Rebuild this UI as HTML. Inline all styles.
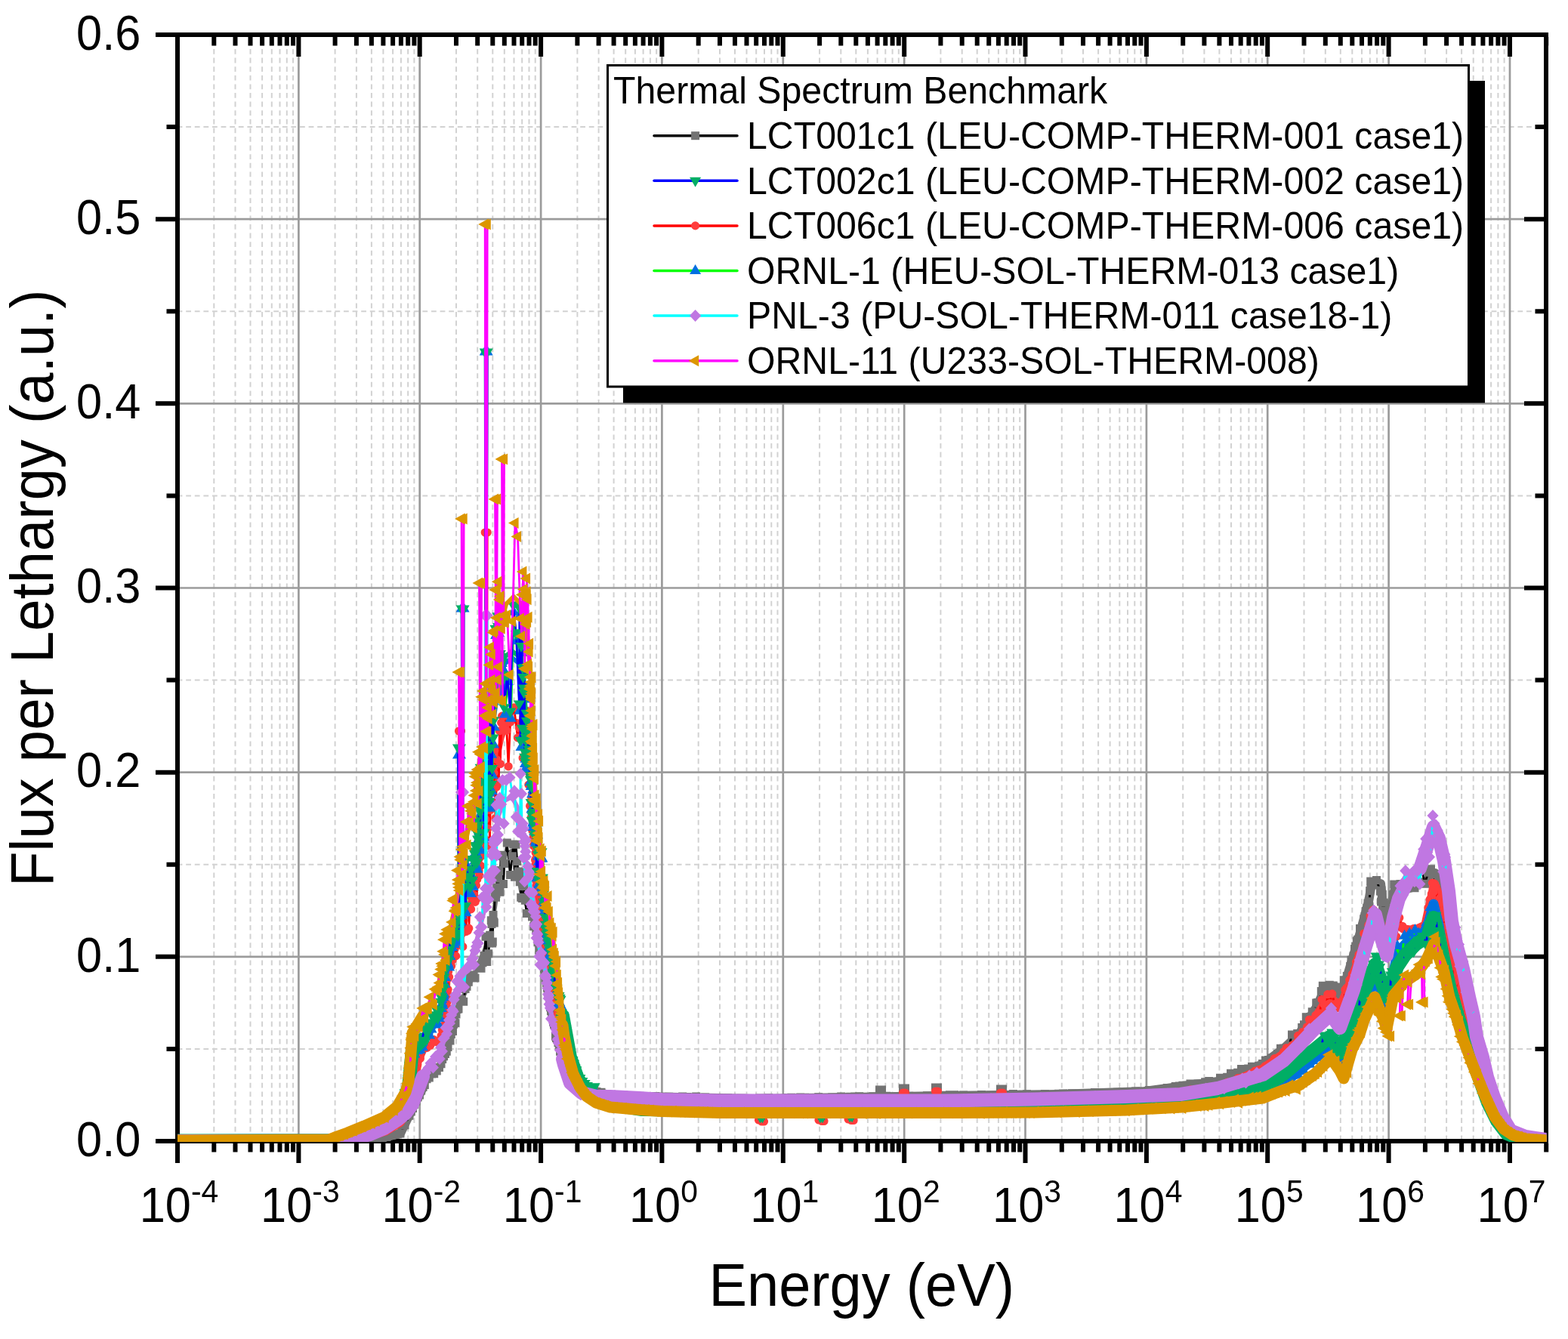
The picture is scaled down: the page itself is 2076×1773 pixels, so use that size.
<!DOCTYPE html>
<html><head><meta charset="utf-8"><title>Thermal Spectrum Benchmark</title>
<style>
html,body{margin:0;padding:0;background:#fff;}
svg{display:block;}
.gm{stroke:#d2d2d2;stroke-width:2;stroke-dasharray:6.8 4.8;}
.gM{stroke:#9b9b9b;stroke-width:2.7;}
text{font-family:"Liberation Sans", Arial, sans-serif;fill:#000;}
</style></head>
<body>
<svg width="2076" height="1773" viewBox="0 0 2076 1773">
<defs>
<clipPath id="pc"><rect x="235" y="46" width="1812.7" height="1466"/></clipPath>
</defs>
<rect width="2076" height="1773" fill="#fff"/>
<g><line x1="283.3" y1="53.4" x2="283.3" y2="1508" class="gm"/><line x1="311.5" y1="53.4" x2="311.5" y2="1508" class="gm"/><line x1="331.5" y1="53.4" x2="331.5" y2="1508" class="gm"/><line x1="347.1" y1="53.4" x2="347.1" y2="1508" class="gm"/><line x1="359.8" y1="53.4" x2="359.8" y2="1508" class="gm"/><line x1="370.5" y1="53.4" x2="370.5" y2="1508" class="gm"/><line x1="379.8" y1="53.4" x2="379.8" y2="1508" class="gm"/><line x1="388.0" y1="53.4" x2="388.0" y2="1508" class="gm"/><line x1="443.6" y1="53.4" x2="443.6" y2="1508" class="gm"/><line x1="471.9" y1="53.4" x2="471.9" y2="1508" class="gm"/><line x1="491.9" y1="53.4" x2="491.9" y2="1508" class="gm"/><line x1="507.4" y1="53.4" x2="507.4" y2="1508" class="gm"/><line x1="520.1" y1="53.4" x2="520.1" y2="1508" class="gm"/><line x1="530.9" y1="53.4" x2="530.9" y2="1508" class="gm"/><line x1="540.2" y1="53.4" x2="540.2" y2="1508" class="gm"/><line x1="548.4" y1="53.4" x2="548.4" y2="1508" class="gm"/><line x1="604.0" y1="53.4" x2="604.0" y2="1508" class="gm"/><line x1="632.2" y1="53.4" x2="632.2" y2="1508" class="gm"/><line x1="652.3" y1="53.4" x2="652.3" y2="1508" class="gm"/><line x1="667.8" y1="53.4" x2="667.8" y2="1508" class="gm"/><line x1="680.5" y1="53.4" x2="680.5" y2="1508" class="gm"/><line x1="691.2" y1="53.4" x2="691.2" y2="1508" class="gm"/><line x1="700.5" y1="53.4" x2="700.5" y2="1508" class="gm"/><line x1="708.7" y1="53.4" x2="708.7" y2="1508" class="gm"/><line x1="764.4" y1="53.4" x2="764.4" y2="1508" class="gm"/><line x1="792.6" y1="53.4" x2="792.6" y2="1508" class="gm"/><line x1="812.6" y1="53.4" x2="812.6" y2="1508" class="gm"/><line x1="828.2" y1="53.4" x2="828.2" y2="1508" class="gm"/><line x1="840.9" y1="53.4" x2="840.9" y2="1508" class="gm"/><line x1="851.6" y1="53.4" x2="851.6" y2="1508" class="gm"/><line x1="860.9" y1="53.4" x2="860.9" y2="1508" class="gm"/><line x1="869.1" y1="53.4" x2="869.1" y2="1508" class="gm"/><line x1="924.7" y1="53.4" x2="924.7" y2="1508" class="gm"/><line x1="953.0" y1="53.4" x2="953.0" y2="1508" class="gm"/><line x1="973.0" y1="53.4" x2="973.0" y2="1508" class="gm"/><line x1="988.5" y1="53.4" x2="988.5" y2="1508" class="gm"/><line x1="1001.2" y1="53.4" x2="1001.2" y2="1508" class="gm"/><line x1="1012.0" y1="53.4" x2="1012.0" y2="1508" class="gm"/><line x1="1021.3" y1="53.4" x2="1021.3" y2="1508" class="gm"/><line x1="1029.5" y1="53.4" x2="1029.5" y2="1508" class="gm"/><line x1="1085.1" y1="53.4" x2="1085.1" y2="1508" class="gm"/><line x1="1113.3" y1="53.4" x2="1113.3" y2="1508" class="gm"/><line x1="1133.3" y1="53.4" x2="1133.3" y2="1508" class="gm"/><line x1="1148.9" y1="53.4" x2="1148.9" y2="1508" class="gm"/><line x1="1161.6" y1="53.4" x2="1161.6" y2="1508" class="gm"/><line x1="1172.3" y1="53.4" x2="1172.3" y2="1508" class="gm"/><line x1="1181.6" y1="53.4" x2="1181.6" y2="1508" class="gm"/><line x1="1189.8" y1="53.4" x2="1189.8" y2="1508" class="gm"/><line x1="1245.4" y1="53.4" x2="1245.4" y2="1508" class="gm"/><line x1="1273.7" y1="53.4" x2="1273.7" y2="1508" class="gm"/><line x1="1293.7" y1="53.4" x2="1293.7" y2="1508" class="gm"/><line x1="1309.2" y1="53.4" x2="1309.2" y2="1508" class="gm"/><line x1="1321.9" y1="53.4" x2="1321.9" y2="1508" class="gm"/><line x1="1332.7" y1="53.4" x2="1332.7" y2="1508" class="gm"/><line x1="1342.0" y1="53.4" x2="1342.0" y2="1508" class="gm"/><line x1="1350.2" y1="53.4" x2="1350.2" y2="1508" class="gm"/><line x1="1405.8" y1="53.4" x2="1405.8" y2="1508" class="gm"/><line x1="1434.0" y1="53.4" x2="1434.0" y2="1508" class="gm"/><line x1="1454.1" y1="53.4" x2="1454.1" y2="1508" class="gm"/><line x1="1469.6" y1="53.4" x2="1469.6" y2="1508" class="gm"/><line x1="1482.3" y1="53.4" x2="1482.3" y2="1508" class="gm"/><line x1="1493.0" y1="53.4" x2="1493.0" y2="1508" class="gm"/><line x1="1502.3" y1="53.4" x2="1502.3" y2="1508" class="gm"/><line x1="1510.5" y1="53.4" x2="1510.5" y2="1508" class="gm"/><line x1="1566.2" y1="53.4" x2="1566.2" y2="1508" class="gm"/><line x1="1594.4" y1="53.4" x2="1594.4" y2="1508" class="gm"/><line x1="1614.4" y1="53.4" x2="1614.4" y2="1508" class="gm"/><line x1="1630.0" y1="53.4" x2="1630.0" y2="1508" class="gm"/><line x1="1642.7" y1="53.4" x2="1642.7" y2="1508" class="gm"/><line x1="1653.4" y1="53.4" x2="1653.4" y2="1508" class="gm"/><line x1="1662.7" y1="53.4" x2="1662.7" y2="1508" class="gm"/><line x1="1670.9" y1="53.4" x2="1670.9" y2="1508" class="gm"/><line x1="1726.5" y1="53.4" x2="1726.5" y2="1508" class="gm"/><line x1="1754.8" y1="53.4" x2="1754.8" y2="1508" class="gm"/><line x1="1774.8" y1="53.4" x2="1774.8" y2="1508" class="gm"/><line x1="1790.3" y1="53.4" x2="1790.3" y2="1508" class="gm"/><line x1="1803.0" y1="53.4" x2="1803.0" y2="1508" class="gm"/><line x1="1813.8" y1="53.4" x2="1813.8" y2="1508" class="gm"/><line x1="1823.1" y1="53.4" x2="1823.1" y2="1508" class="gm"/><line x1="1831.3" y1="53.4" x2="1831.3" y2="1508" class="gm"/><line x1="1886.9" y1="53.4" x2="1886.9" y2="1508" class="gm"/><line x1="1915.1" y1="53.4" x2="1915.1" y2="1508" class="gm"/><line x1="1935.1" y1="53.4" x2="1935.1" y2="1508" class="gm"/><line x1="1950.7" y1="53.4" x2="1950.7" y2="1508" class="gm"/><line x1="1963.4" y1="53.4" x2="1963.4" y2="1508" class="gm"/><line x1="1974.1" y1="53.4" x2="1974.1" y2="1508" class="gm"/><line x1="1983.4" y1="53.4" x2="1983.4" y2="1508" class="gm"/><line x1="1991.6" y1="53.4" x2="1991.6" y2="1508" class="gm"/><line x1="234.6" y1="1388.9" x2="2044" y2="1388.9" class="gm"/><line x1="234.6" y1="1144.7" x2="2044" y2="1144.7" class="gm"/><line x1="234.6" y1="900.6" x2="2044" y2="900.6" class="gm"/><line x1="234.6" y1="656.4" x2="2044" y2="656.4" class="gm"/><line x1="234.6" y1="412.2" x2="2044" y2="412.2" class="gm"/><line x1="234.6" y1="168.1" x2="2044" y2="168.1" class="gm"/><line x1="395.4" y1="49" x2="395.4" y2="1508" class="gM"/><line x1="555.7" y1="49" x2="555.7" y2="1508" class="gM"/><line x1="716.1" y1="49" x2="716.1" y2="1508" class="gM"/><line x1="876.4" y1="49" x2="876.4" y2="1508" class="gM"/><line x1="1036.8" y1="49" x2="1036.8" y2="1508" class="gM"/><line x1="1197.2" y1="49" x2="1197.2" y2="1508" class="gM"/><line x1="1357.5" y1="49" x2="1357.5" y2="1508" class="gM"/><line x1="1517.9" y1="49" x2="1517.9" y2="1508" class="gM"/><line x1="1678.2" y1="49" x2="1678.2" y2="1508" class="gM"/><line x1="1838.6" y1="49" x2="1838.6" y2="1508" class="gM"/><line x1="1999.0" y1="49" x2="1999.0" y2="1508" class="gM"/><line x1="238" y1="1266.8" x2="2044" y2="1266.8" class="gM"/><line x1="238" y1="1022.7" x2="2044" y2="1022.7" class="gM"/><line x1="238" y1="778.5" x2="2044" y2="778.5" class="gM"/><line x1="238" y1="534.3" x2="2044" y2="534.3" class="gM"/><line x1="238" y1="290.2" x2="2044" y2="290.2" class="gM"/></g>
<rect x="235" y="46" width="1812" height="1465" fill="none" stroke="#000" stroke-width="6"/><path d="M235.0 1514V1540 M235.0 49V75 M283.3 1514V1525.5 M283.3 49V60.5 M311.5 1514V1525.5 M311.5 49V60.5 M331.5 1514V1525.5 M331.5 49V60.5 M347.1 1514V1525.5 M347.1 49V60.5 M359.8 1514V1525.5 M359.8 49V60.5 M370.5 1514V1525.5 M370.5 49V60.5 M379.8 1514V1525.5 M379.8 49V60.5 M388.0 1514V1525.5 M388.0 49V60.5 M395.4 1514V1540 M395.4 49V75 M443.6 1514V1525.5 M443.6 49V60.5 M471.9 1514V1525.5 M471.9 49V60.5 M491.9 1514V1525.5 M491.9 49V60.5 M507.4 1514V1525.5 M507.4 49V60.5 M520.1 1514V1525.5 M520.1 49V60.5 M530.9 1514V1525.5 M530.9 49V60.5 M540.2 1514V1525.5 M540.2 49V60.5 M548.4 1514V1525.5 M548.4 49V60.5 M555.7 1514V1540 M555.7 49V75 M604.0 1514V1525.5 M604.0 49V60.5 M632.2 1514V1525.5 M632.2 49V60.5 M652.3 1514V1525.5 M652.3 49V60.5 M667.8 1514V1525.5 M667.8 49V60.5 M680.5 1514V1525.5 M680.5 49V60.5 M691.2 1514V1525.5 M691.2 49V60.5 M700.5 1514V1525.5 M700.5 49V60.5 M708.7 1514V1525.5 M708.7 49V60.5 M716.1 1514V1540 M716.1 49V75 M764.4 1514V1525.5 M764.4 49V60.5 M792.6 1514V1525.5 M792.6 49V60.5 M812.6 1514V1525.5 M812.6 49V60.5 M828.2 1514V1525.5 M828.2 49V60.5 M840.9 1514V1525.5 M840.9 49V60.5 M851.6 1514V1525.5 M851.6 49V60.5 M860.9 1514V1525.5 M860.9 49V60.5 M869.1 1514V1525.5 M869.1 49V60.5 M876.4 1514V1540 M876.4 49V75 M924.7 1514V1525.5 M924.7 49V60.5 M953.0 1514V1525.5 M953.0 49V60.5 M973.0 1514V1525.5 M973.0 49V60.5 M988.5 1514V1525.5 M988.5 49V60.5 M1001.2 1514V1525.5 M1001.2 49V60.5 M1012.0 1514V1525.5 M1012.0 49V60.5 M1021.3 1514V1525.5 M1021.3 49V60.5 M1029.5 1514V1525.5 M1029.5 49V60.5 M1036.8 1514V1540 M1036.8 49V75 M1085.1 1514V1525.5 M1085.1 49V60.5 M1113.3 1514V1525.5 M1113.3 49V60.5 M1133.3 1514V1525.5 M1133.3 49V60.5 M1148.9 1514V1525.5 M1148.9 49V60.5 M1161.6 1514V1525.5 M1161.6 49V60.5 M1172.3 1514V1525.5 M1172.3 49V60.5 M1181.6 1514V1525.5 M1181.6 49V60.5 M1189.8 1514V1525.5 M1189.8 49V60.5 M1197.2 1514V1540 M1197.2 49V75 M1245.4 1514V1525.5 M1245.4 49V60.5 M1273.7 1514V1525.5 M1273.7 49V60.5 M1293.7 1514V1525.5 M1293.7 49V60.5 M1309.2 1514V1525.5 M1309.2 49V60.5 M1321.9 1514V1525.5 M1321.9 49V60.5 M1332.7 1514V1525.5 M1332.7 49V60.5 M1342.0 1514V1525.5 M1342.0 49V60.5 M1350.2 1514V1525.5 M1350.2 49V60.5 M1357.5 1514V1540 M1357.5 49V75 M1405.8 1514V1525.5 M1405.8 49V60.5 M1434.0 1514V1525.5 M1434.0 49V60.5 M1454.1 1514V1525.5 M1454.1 49V60.5 M1469.6 1514V1525.5 M1469.6 49V60.5 M1482.3 1514V1525.5 M1482.3 49V60.5 M1493.0 1514V1525.5 M1493.0 49V60.5 M1502.3 1514V1525.5 M1502.3 49V60.5 M1510.5 1514V1525.5 M1510.5 49V60.5 M1517.9 1514V1540 M1517.9 49V75 M1566.2 1514V1525.5 M1566.2 49V60.5 M1594.4 1514V1525.5 M1594.4 49V60.5 M1614.4 1514V1525.5 M1614.4 49V60.5 M1630.0 1514V1525.5 M1630.0 49V60.5 M1642.7 1514V1525.5 M1642.7 49V60.5 M1653.4 1514V1525.5 M1653.4 49V60.5 M1662.7 1514V1525.5 M1662.7 49V60.5 M1670.9 1514V1525.5 M1670.9 49V60.5 M1678.2 1514V1540 M1678.2 49V75 M1726.5 1514V1525.5 M1726.5 49V60.5 M1754.8 1514V1525.5 M1754.8 49V60.5 M1774.8 1514V1525.5 M1774.8 49V60.5 M1790.3 1514V1525.5 M1790.3 49V60.5 M1803.0 1514V1525.5 M1803.0 49V60.5 M1813.8 1514V1525.5 M1813.8 49V60.5 M1823.1 1514V1525.5 M1823.1 49V60.5 M1831.3 1514V1525.5 M1831.3 49V60.5 M1838.6 1514V1540 M1838.6 49V75 M1886.9 1514V1525.5 M1886.9 49V60.5 M1915.1 1514V1525.5 M1915.1 49V60.5 M1935.1 1514V1525.5 M1935.1 49V60.5 M1950.7 1514V1525.5 M1950.7 49V60.5 M1963.4 1514V1525.5 M1963.4 49V60.5 M1974.1 1514V1525.5 M1974.1 49V60.5 M1983.4 1514V1525.5 M1983.4 49V60.5 M1991.6 1514V1525.5 M1991.6 49V60.5 M1999.0 1514V1540 M1999.0 49V75 M2047.2 1514V1525.5 M2047.2 49V60.5 M206 1511.0H232 M2044 1511.0H2018 M206 1266.8H232 M2044 1266.8H2018 M206 1022.7H232 M2044 1022.7H2018 M206 778.5H232 M2044 778.5H2018 M206 534.3H232 M2044 534.3H2018 M206 290.2H232 M2044 290.2H2018 M206 46.0H232 M2044 46.0H2018 M220.5 1388.9H232 M2044 1388.9H2032.5 M220.5 1144.7H232 M2044 1144.7H2032.5 M220.5 900.6H232 M2044 900.6H2032.5 M220.5 656.4H232 M2044 656.4H2032.5 M220.5 412.2H232 M2044 412.2H2032.5 M220.5 168.1H232 M2044 168.1H2032.5" stroke="#000" stroke-width="6" fill="none"/>
<g clip-path="url(#pc)"><path d="M236.0 1511.0 L460.0 1511.0 L500.0 1508.0 L530.0 1501.0 L545.0 1470.0 L560.0 1440.0" fill="none" stroke="#737373" stroke-width="12" stroke-linejoin="round" stroke-linecap="round"/>
<path d="M745.0 1405.0 L745.0 1405.0 L755.0 1427.0 L767.0 1436.0 L779.0 1441.0 L789.0 1446.0 L808.0 1450.0 L850.0 1452.0 L1000.0 1455.0 L1250.0 1451.0 L1400.0 1449.0 L1515.0 1445.0 L1612.0 1432.0 L1672.0 1409.0 L1700.0 1388.0 L1720.0 1369.0 L1742.0 1335.0 L1756.0 1306.0 L1767.0 1306.0 L1774.0 1328.0 L1783.0 1295.0 L1798.0 1245.0 L1812.0 1194.0 L1816.0 1170.0 L1828.0 1170.0 L1832.0 1208.0 L1837.0 1240.0 L1846.0 1180.0 L1852.0 1180.0 L1870.0 1175.0 L1890.0 1165.0 L1900.0 1156.0 L1910.0 1170.0 L1918.0 1200.0 L1925.0 1240.0 L1935.0 1285.0 L1945.0 1330.0 L1958.0 1390.0 L1970.0 1440.0 L1985.0 1475.0 L2000.0 1496.0 L2020.0 1506.0 L2047.0 1510.0" fill="none" stroke="#737373" stroke-width="12" stroke-linejoin="round" stroke-linecap="round"/>
<path d="M560.0 1440.0 L563.0 1434.0 L583.0 1411.0 L595.0 1380.0 L605.5 1335.0 L626.0 1294.0 L640.0 1262.0 L650.0 1238.0 L660.0 1165.0 L668.0 1132.0 L677.0 1127.0 L685.0 1150.0 L690.0 1180.0 L700.0 1204.0 L706.0 1212.0 L712.0 1240.0 L720.0 1280.0 L728.0 1330.0 L736.0 1370.0 L745.0 1405.0" fill="none" stroke="#737373" stroke-width="6" stroke-linejoin="round" stroke-linecap="round"/>
<path d="M440.0 1511.0 L446.0 1511.0 L452.0 1511.0 L458.0 1511.0 L464.0 1510.7 L470.0 1510.3 L476.0 1509.8 L482.0 1509.3 L488.0 1508.8 L494.0 1508.4 L500.0 1508.0 L506.0 1506.6 L512.0 1505.5 L518.0 1503.6 L524.0 1502.3 L530.0 1500.9 L536.0 1489.7 L542.0 1477.2 L544.2 1472.1 L546.5 1467.5 L548.8 1462.2 L551.0 1458.1 L553.2 1452.8 L555.5 1449.9 L557.8 1444.0 L560.0 1439.4 L562.2 1436.6 L565.0 1428.7 L568.2 1426.9 L571.5 1421.9 L574.8 1421.7 L578.2 1418.0 L581.5 1413.5 L584.0 1408.7 L585.8 1402.4 L587.5 1398.8 L589.5 1395.4 L591.2 1392.2 L593.0 1386.6 L594.8 1377.1 L596.0 1378.1 L597.2 1369.6 L598.2 1364.7 L599.5 1365.6 L600.5 1356.2 L601.8 1345.3 L603.0 1354.8 L604.0 1342.9 L605.2 1336.6 L607.0 1336.0 L609.2 1325.0 L611.5 1323.3 L613.8 1326.3 L616.0 1309.5 L618.0 1306.3 L620.2 1300.2 L622.5 1292.7 L624.8 1294.4 L627.0 1291.0 L629.0 1295.1 L631.0 1278.7 L633.0 1281.9 L635.0 1278.2 L637.0 1282.3 L639.0 1274.8 L641.0 1265.5 L643.0 1240.3 L644.8 1273.5 L646.8 1262.8 L648.8 1238.2 L650.2 1218.7 L651.0 1223.6 L651.8 1249.1 L652.2 1247.0 L653.0 1211.5 L653.8 1220.4 L654.2 1222.0 L655.0 1188.2 L655.8 1180.8 L656.5 1188.3 L657.0 1183.4 L657.8 1175.1 L658.5 1152.5 L659.0 1163.1 L659.8 1159.0 L660.8 1153.5 L662.0 1181.2 L663.0 1132.4 L664.2 1132.2 L665.5 1133.7 L666.5 1170.6 L667.8 1143.6 L671.2 1116.1 L675.5 1158.4 L678.2 1133.7 L679.8 1118.0 L681.5 1161.3 L683.0 1118.3 L684.8 1140.5 L685.8 1156.9 L686.5 1154.0 L687.5 1155.1 L688.2 1167.7 L689.0 1157.0 L689.8 1188.2 L691.5 1189.6 L693.5 1173.6 L695.2 1192.2 L697.2 1209.5 L699.2 1189.3 L701.5 1193.7 L704.5 1213.7 L706.8 1226.7 L707.8 1221.2 L708.8 1226.0 L709.8 1231.8 L710.8 1223.5 L712.0 1247.7 L713.0 1235.8 L713.8 1257.9 L714.8 1259.3 L715.8 1254.4 L716.8 1256.1 L717.8 1263.0 L718.8 1271.5 L719.8 1277.8 L720.5 1282.6 L721.5 1287.3 L722.2 1294.7 L723.0 1297.8 L723.8 1301.5 L724.5 1308.1 L725.2 1310.3 L726.2 1317.3 L727.0 1317.5 L727.8 1327.5 L728.5 1333.8 L729.5 1338.6 L730.5 1342.5 L731.5 1345.0 L732.5 1353.4 L733.5 1356.5 L734.5 1358.0 L735.5 1372.2 L736.5 1374.5 L737.8 1376.3 L739.0 1380.8 L740.2 1386.0 L741.5 1392.2 L742.8 1395.0 L744.0 1400.6 L745.2 1406.5 L747.5 1406.9 L749.5 1414.3 L751.5 1420.1 L753.5 1423.8 L756.2 1428.2 L760.2 1431.0 L764.2 1436.5 L768.2 1437.1 L773.0 1437.9 L777.5 1441.1 L782.0 1442.5 L786.5 1444.2 L790.0 1445.5 L796.0 1446.3 L801.8 1450.0 L807.8 1450.2 L813.8 1450.5 L819.8 1450.1 L825.8 1450.1 L831.8 1452.6 L837.8 1450.6 L843.8 1452.7 L849.8 1451.5 L855.8 1453.2 L861.8 1452.1 L867.8 1451.5 L873.8 1452.6 L879.8 1452.5 L885.8 1452.2 L891.8 1452.7 L897.8 1453.0 L903.8 1452.0 L909.8 1452.5 L915.8 1453.5 L921.8 1452.1 L927.8 1454.3 L933.8 1453.0 L939.8 1454.0 L945.8 1453.8 L951.8 1453.6 L957.8 1454.0 L963.8 1453.8 L969.8 1455.4 L975.8 1455.5 L981.8 1454.2 L987.8 1455.4 L993.8 1455.6 L999.8 1456.0 L1005.8 1454.1 L1011.8 1454.3 L1017.8 1453.7 L1023.8 1455.3 L1029.8 1454.5 L1035.8 1455.2 L1041.8 1453.8 L1047.8 1453.2 L1053.8 1454.7 L1059.8 1453.0 L1065.8 1453.3 L1071.8 1454.0 L1077.8 1455.1 L1083.8 1452.7 L1089.8 1453.6 L1095.8 1453.9 L1101.8 1453.1 L1107.8 1453.0 L1113.8 1452.1 L1119.8 1453.8 L1125.8 1452.2 L1131.8 1451.9 L1137.8 1451.8 L1143.8 1452.8 L1149.8 1453.1 L1155.8 1451.8 L1161.8 1452.3 L1164.5 1443.0 L1167.5 1443.0 L1167.8 1452.2 L1173.8 1451.2 L1179.8 1452.3 L1185.8 1453.4 L1191.8 1452.2 L1195.5 1441.0 L1198.5 1441.0 L1197.8 1453.2 L1203.8 1451.2 L1209.8 1451.4 L1215.8 1452.0 L1221.5 1451.5 L1227.5 1450.8 L1233.5 1451.2 L1239.5 1450.2 L1238.5 1440.0 L1241.5 1440.0 L1245.5 1451.1 L1251.5 1450.2 L1257.5 1449.8 L1263.5 1449.7 L1269.5 1451.2 L1275.5 1450.0 L1281.5 1451.9 L1287.5 1451.3 L1293.5 1451.8 L1299.5 1449.6 L1305.5 1451.2 L1311.5 1450.2 L1317.5 1450.2 L1323.5 1450.0 L1324.5 1442.0 L1327.5 1442.0 L1329.5 1450.4 L1335.5 1449.7 L1341.5 1448.5 L1347.5 1449.7 L1353.5 1449.2 L1359.5 1448.8 L1365.5 1449.6 L1371.5 1450.3 L1377.5 1449.7 L1383.5 1448.4 L1389.5 1450.4 L1395.5 1449.5 L1401.5 1448.2 L1407.5 1448.1 L1413.5 1448.5 L1419.5 1447.7 L1425.5 1448.0 L1431.5 1448.8 L1437.5 1448.9 L1443.5 1448.0 L1449.5 1446.6 L1455.5 1447.5 L1461.5 1447.6 L1467.5 1447.2 L1473.5 1447.6 L1479.5 1446.3 L1485.5 1446.9 L1491.5 1445.5 L1497.5 1447.2 L1503.5 1445.1 L1509.5 1445.7 L1515.5 1446.7 L1521.5 1443.5 L1527.5 1443.6 L1533.2 1444.6 L1539.2 1442.7 L1545.2 1440.6 L1551.2 1440.7 L1556.2 1438.5 L1561.2 1437.9 L1566.0 1437.3 L1571.0 1437.1 L1576.0 1435.0 L1581.0 1435.2 L1586.0 1434.8 L1590.8 1437.9 L1595.8 1432.8 L1600.8 1431.4 L1605.8 1433.3 L1610.8 1433.0 L1615.5 1427.2 L1620.0 1432.2 L1624.8 1426.2 L1629.5 1421.2 L1634.0 1425.5 L1638.8 1420.2 L1643.5 1415.6 L1648.0 1418.5 L1652.8 1415.0 L1657.5 1412.3 L1662.0 1415.2 L1666.8 1411.3 L1671.5 1408.4 L1675.5 1404.0 L1679.5 1403.5 L1683.5 1401.0 L1687.5 1400.7 L1691.5 1395.6 L1695.5 1388.2 L1699.5 1388.0 L1703.2 1388.1 L1706.8 1384.9 L1710.5 1370.0 L1714.0 1370.0 L1717.8 1368.5 L1721.0 1376.1 L1723.8 1360.4 L1726.5 1356.8 L1729.2 1346.8 L1732.0 1348.4 L1734.8 1346.5 L1737.2 1339.7 L1740.0 1348.2 L1742.8 1327.9 L1744.8 1327.5 L1747.0 1328.6 L1749.2 1312.4 L1751.2 1305.2 L1753.5 1319.6 L1755.8 1310.6 L1760.2 1304.2 L1765.2 1304.9 L1768.0 1311.6 L1769.5 1319.6 L1771.0 1307.0 L1772.5 1317.4 L1774.0 1334.6 L1775.5 1330.1 L1776.8 1308.1 L1778.0 1307.5 L1779.2 1297.7 L1780.8 1298.2 L1782.0 1304.2 L1783.2 1292.5 L1784.8 1302.5 L1786.2 1289.3 L1787.8 1279.6 L1789.0 1271.3 L1790.5 1275.3 L1792.0 1265.9 L1793.5 1256.5 L1794.8 1252.9 L1796.2 1245.9 L1797.8 1244.2 L1799.0 1244.0 L1800.5 1229.4 L1801.8 1230.9 L1803.0 1233.8 L1804.2 1227.7 L1805.8 1216.8 L1807.0 1213.2 L1808.2 1206.2 L1809.8 1202.2 L1811.0 1196.0 L1812.2 1193.8 L1813.0 1200.2 L1813.8 1179.4 L1814.8 1167.0 L1815.5 1168.6 L1817.5 1171.9 L1822.5 1165.4 L1827.5 1179.9 L1828.5 1193.9 L1829.0 1178.9 L1829.5 1193.4 L1830.2 1184.3 L1830.8 1206.4 L1831.2 1219.5 L1831.8 1215.1 L1832.2 1195.3 L1833.0 1217.8 L1833.8 1231.2 L1834.5 1230.6 L1835.5 1226.0 L1836.2 1231.1 L1837.0 1238.6 L1837.8 1222.7 L1838.5 1224.0 L1839.2 1225.2 L1840.0 1214.8 L1840.8 1200.3 L1841.5 1201.2 L1842.0 1197.3 L1842.8 1211.7 L1843.5 1198.1 L1844.2 1184.7 L1845.0 1189.6 L1845.8 1171.1 L1849.2 1174.1 L1854.0 1170.4 L1859.0 1180.2 L1863.8 1156.7 L1868.5 1162.9 L1873.0 1175.7 L1877.5 1170.3 L1882.0 1148.5 L1886.5 1170.3 L1890.8 1155.2 L1894.5 1150.7 L1898.2 1157.5 L1901.5 1170.5 L1904.5 1160.3 L1907.5 1162.8 L1910.2 1159.4 L1911.5 1167.7 L1912.8 1180.1 L1914.0 1176.7 L1915.2 1184.5 L1916.8 1193.4 L1918.0 1199.5 L1918.8 1206.5 L1919.8 1203.8 L1920.5 1223.7 L1921.5 1225.5 L1922.2 1224.2 L1923.2 1242.3 L1924.0 1237.9 L1925.0 1256.3 L1926.0 1250.0 L1927.0 1244.5 L1928.0 1249.1 L1929.2 1259.5 L1930.2 1265.3 L1931.2 1278.4 L1932.5 1260.7 L1933.5 1274.6 L1934.5 1275.3 L1935.8 1294.3 L1936.8 1294.1 L1937.8 1309.0 L1939.0 1298.1 L1940.0 1301.8 L1941.0 1323.3 L1942.2 1317.9 L1943.2 1318.6 L1944.2 1336.4 L1945.5 1342.1 L1946.5 1342.5 L1947.5 1344.7 L1948.5 1353.1 L1949.8 1351.8 L1950.8 1355.4 L1951.8 1358.3 L1952.8 1362.7 L1954.0 1365.3 L1955.0 1371.4 L1956.0 1385.9 L1957.0 1387.3 L1958.2 1394.9 L1959.2 1398.9 L1960.5 1400.6 L1961.8 1405.6 L1962.8 1408.8 L1964.0 1418.0 L1965.2 1422.5 L1966.2 1424.4 L1967.5 1429.9 L1968.8 1435.3 L1969.8 1439.0 L1971.5 1444.5 L1973.5 1447.3 L1975.5 1452.4 L1977.5 1457.6 L1979.5 1462.8 L1981.5 1467.0 L1983.5 1473.1 L1985.5 1476.4 L1988.2 1479.5 L1991.2 1484.6 L1994.2 1487.9 L1997.0 1491.7 L2000.0 1496.4 L2004.5 1498.3 L2008.8 1500.4 L2013.2 1502.5 L2017.8 1504.8 L2022.5 1506.4 L2027.5 1507.2 L2032.5 1507.9 L2037.2 1508.6 L2042.2 1509.3" fill="none" stroke="#000" stroke-width="2.8" stroke-linejoin="round"/>
<path fill="#737373" d="M434.5 1505.5h11v11h-11zM440.5 1505.5h11v11h-11zM446.5 1505.5h11v11h-11zM452.5 1505.5h11v11h-11zM458.5 1505.2h11v11h-11zM464.5 1504.8h11v11h-11zM470.5 1504.3h11v11h-11zM476.5 1503.8h11v11h-11zM482.5 1503.3h11v11h-11zM488.5 1502.9h11v11h-11zM494.5 1502.5h11v11h-11zM500.5 1501.1h11v11h-11zM506.5 1500.0h11v11h-11zM512.5 1498.1h11v11h-11zM518.5 1496.8h11v11h-11zM524.5 1495.4h11v11h-11zM530.5 1484.2h11v11h-11zM536.5 1471.7h11v11h-11zM538.8 1466.6h11v11h-11zM541.0 1462.0h11v11h-11zM543.2 1456.7h11v11h-11zM545.5 1452.6h11v11h-11zM547.8 1447.3h11v11h-11zM550.0 1444.4h11v11h-11zM552.2 1438.5h11v11h-11zM554.5 1433.9h11v11h-11zM556.8 1431.1h11v11h-11zM559.5 1423.2h11v11h-11zM562.8 1421.4h11v11h-11zM566.0 1416.4h11v11h-11zM569.2 1416.2h11v11h-11zM572.8 1412.5h11v11h-11zM576.0 1408.0h11v11h-11zM578.5 1403.2h11v11h-11zM580.2 1396.9h11v11h-11zM582.0 1393.3h11v11h-11zM584.0 1389.9h11v11h-11zM585.8 1386.7h11v11h-11zM587.5 1381.1h11v11h-11zM589.2 1371.6h11v11h-11zM590.5 1372.6h11v11h-11zM591.8 1364.1h11v11h-11zM592.8 1359.2h11v11h-11zM594.0 1360.1h11v11h-11zM595.0 1350.7h11v11h-11zM596.2 1339.8h11v11h-11zM597.5 1349.3h11v11h-11zM598.5 1337.4h11v11h-11zM599.8 1331.1h11v11h-11zM601.5 1330.5h11v11h-11zM603.8 1319.5h11v11h-11zM606.0 1317.8h11v11h-11zM608.2 1320.8h11v11h-11zM610.5 1304.0h11v11h-11zM612.5 1300.8h11v11h-11zM614.8 1294.7h11v11h-11zM617.0 1287.2h11v11h-11zM619.2 1288.9h11v11h-11zM621.5 1285.5h11v11h-11zM623.5 1289.6h11v11h-11zM625.5 1273.2h11v11h-11zM627.5 1276.4h11v11h-11zM629.5 1272.7h11v11h-11zM631.5 1276.8h11v11h-11zM633.5 1269.3h11v11h-11zM635.5 1260.0h11v11h-11zM637.5 1234.8h11v11h-11zM639.2 1268.0h11v11h-11zM641.2 1257.3h11v11h-11zM643.2 1232.7h11v11h-11zM644.8 1213.2h11v11h-11zM645.5 1218.1h11v11h-11zM646.2 1243.6h11v11h-11zM646.8 1241.5h11v11h-11zM647.5 1206.0h11v11h-11zM648.2 1214.9h11v11h-11zM648.8 1216.5h11v11h-11zM649.5 1182.7h11v11h-11zM650.2 1175.3h11v11h-11zM651.0 1182.8h11v11h-11zM651.5 1177.9h11v11h-11zM652.2 1169.6h11v11h-11zM653.0 1147.0h11v11h-11zM653.5 1157.6h11v11h-11zM654.2 1153.5h11v11h-11zM655.2 1148.0h11v11h-11zM656.5 1175.7h11v11h-11zM657.5 1126.9h11v11h-11zM658.8 1126.7h11v11h-11zM660.0 1128.2h11v11h-11zM661.0 1165.1h11v11h-11zM662.2 1138.1h11v11h-11zM665.8 1110.6h11v11h-11zM670.0 1152.9h11v11h-11zM672.8 1128.2h11v11h-11zM674.2 1112.5h11v11h-11zM676.0 1155.8h11v11h-11zM677.5 1112.8h11v11h-11zM679.2 1135.0h11v11h-11zM680.2 1151.4h11v11h-11zM681.0 1148.5h11v11h-11zM682.0 1149.6h11v11h-11zM682.8 1162.2h11v11h-11zM683.5 1151.5h11v11h-11zM684.2 1182.7h11v11h-11zM686.0 1184.1h11v11h-11zM688.0 1168.1h11v11h-11zM689.8 1186.7h11v11h-11zM691.8 1204.0h11v11h-11zM693.8 1183.8h11v11h-11zM696.0 1188.2h11v11h-11zM699.0 1208.2h11v11h-11zM701.2 1221.2h11v11h-11zM702.2 1215.7h11v11h-11zM703.2 1220.5h11v11h-11zM704.2 1226.3h11v11h-11zM705.2 1218.0h11v11h-11zM706.5 1242.2h11v11h-11zM707.5 1230.3h11v11h-11zM708.2 1252.4h11v11h-11zM709.2 1253.8h11v11h-11zM710.2 1248.9h11v11h-11zM711.2 1250.6h11v11h-11zM712.2 1257.5h11v11h-11zM713.2 1266.0h11v11h-11zM714.2 1272.3h11v11h-11zM715.0 1277.1h11v11h-11zM716.0 1281.8h11v11h-11zM716.8 1289.2h11v11h-11zM717.5 1292.3h11v11h-11zM718.2 1296.0h11v11h-11zM719.0 1302.6h11v11h-11zM719.8 1304.8h11v11h-11zM720.8 1311.8h11v11h-11zM721.5 1312.0h11v11h-11zM722.2 1322.0h11v11h-11zM723.0 1328.3h11v11h-11zM724.0 1333.1h11v11h-11zM725.0 1337.0h11v11h-11zM726.0 1339.5h11v11h-11zM727.0 1347.9h11v11h-11zM728.0 1351.0h11v11h-11zM729.0 1352.5h11v11h-11zM730.0 1366.7h11v11h-11zM731.0 1369.0h11v11h-11zM732.2 1370.8h11v11h-11zM733.5 1375.3h11v11h-11zM734.8 1380.5h11v11h-11zM736.0 1386.7h11v11h-11zM737.2 1389.5h11v11h-11zM738.5 1395.1h11v11h-11zM739.8 1401.0h11v11h-11zM742.0 1401.4h11v11h-11zM744.0 1408.8h11v11h-11zM746.0 1414.6h11v11h-11zM748.0 1418.3h11v11h-11zM750.8 1422.7h11v11h-11zM754.8 1425.5h11v11h-11zM758.8 1431.0h11v11h-11zM762.8 1431.6h11v11h-11zM767.5 1432.4h11v11h-11zM772.0 1435.6h11v11h-11zM776.5 1437.0h11v11h-11zM781.0 1438.7h11v11h-11zM784.5 1440.0h11v11h-11zM790.5 1440.8h11v11h-11zM796.2 1444.5h11v11h-11zM802.2 1444.7h11v11h-11zM808.2 1445.0h11v11h-11zM814.2 1444.6h11v11h-11zM820.2 1444.6h11v11h-11zM826.2 1447.1h11v11h-11zM832.2 1445.1h11v11h-11zM838.2 1447.2h11v11h-11zM844.2 1446.0h11v11h-11zM850.2 1447.7h11v11h-11zM856.2 1446.6h11v11h-11zM862.2 1446.0h11v11h-11zM868.2 1447.1h11v11h-11zM874.2 1447.0h11v11h-11zM880.2 1446.7h11v11h-11zM886.2 1447.2h11v11h-11zM892.2 1447.5h11v11h-11zM898.2 1446.5h11v11h-11zM904.2 1447.0h11v11h-11zM910.2 1448.0h11v11h-11zM916.2 1446.6h11v11h-11zM922.2 1448.8h11v11h-11zM928.2 1447.5h11v11h-11zM934.2 1448.5h11v11h-11zM940.2 1448.3h11v11h-11zM946.2 1448.1h11v11h-11zM952.2 1448.5h11v11h-11zM958.2 1448.3h11v11h-11zM964.2 1449.9h11v11h-11zM970.2 1450.0h11v11h-11zM976.2 1448.7h11v11h-11zM982.2 1449.9h11v11h-11zM988.2 1450.1h11v11h-11zM994.2 1450.5h11v11h-11zM1000.2 1448.6h11v11h-11zM1006.2 1448.8h11v11h-11zM1012.2 1448.2h11v11h-11zM1018.2 1449.8h11v11h-11zM1024.2 1449.0h11v11h-11zM1030.2 1449.7h11v11h-11zM1036.2 1448.3h11v11h-11zM1042.2 1447.7h11v11h-11zM1048.2 1449.2h11v11h-11zM1054.2 1447.5h11v11h-11zM1060.2 1447.8h11v11h-11zM1066.2 1448.5h11v11h-11zM1072.2 1449.6h11v11h-11zM1078.2 1447.2h11v11h-11zM1084.2 1448.1h11v11h-11zM1090.2 1448.4h11v11h-11zM1096.2 1447.6h11v11h-11zM1102.2 1447.5h11v11h-11zM1108.2 1446.6h11v11h-11zM1114.2 1448.3h11v11h-11zM1120.2 1446.7h11v11h-11zM1126.2 1446.4h11v11h-11zM1132.2 1446.3h11v11h-11zM1138.2 1447.3h11v11h-11zM1144.2 1447.6h11v11h-11zM1150.2 1446.3h11v11h-11zM1156.2 1446.8h11v11h-11zM1159.0 1437.5h11v11h-11zM1162.0 1437.5h11v11h-11zM1162.2 1446.7h11v11h-11zM1168.2 1445.7h11v11h-11zM1174.2 1446.8h11v11h-11zM1180.2 1447.9h11v11h-11zM1186.2 1446.7h11v11h-11zM1190.0 1435.5h11v11h-11zM1193.0 1435.5h11v11h-11zM1192.2 1447.7h11v11h-11zM1198.2 1445.7h11v11h-11zM1204.2 1445.9h11v11h-11zM1210.2 1446.5h11v11h-11zM1216.0 1446.0h11v11h-11zM1222.0 1445.3h11v11h-11zM1228.0 1445.7h11v11h-11zM1234.0 1444.7h11v11h-11zM1233.0 1434.5h11v11h-11zM1236.0 1434.5h11v11h-11zM1240.0 1445.6h11v11h-11zM1246.0 1444.7h11v11h-11zM1252.0 1444.3h11v11h-11zM1258.0 1444.2h11v11h-11zM1264.0 1445.7h11v11h-11zM1270.0 1444.5h11v11h-11zM1276.0 1446.4h11v11h-11zM1282.0 1445.8h11v11h-11zM1288.0 1446.3h11v11h-11zM1294.0 1444.1h11v11h-11zM1300.0 1445.7h11v11h-11zM1306.0 1444.7h11v11h-11zM1312.0 1444.7h11v11h-11zM1318.0 1444.5h11v11h-11zM1319.0 1436.5h11v11h-11zM1322.0 1436.5h11v11h-11zM1324.0 1444.9h11v11h-11zM1330.0 1444.2h11v11h-11zM1336.0 1443.0h11v11h-11zM1342.0 1444.2h11v11h-11zM1348.0 1443.7h11v11h-11zM1354.0 1443.3h11v11h-11zM1360.0 1444.1h11v11h-11zM1366.0 1444.8h11v11h-11zM1372.0 1444.2h11v11h-11zM1378.0 1442.9h11v11h-11zM1384.0 1444.9h11v11h-11zM1390.0 1444.0h11v11h-11zM1396.0 1442.7h11v11h-11zM1402.0 1442.6h11v11h-11zM1408.0 1443.0h11v11h-11zM1414.0 1442.2h11v11h-11zM1420.0 1442.5h11v11h-11zM1426.0 1443.3h11v11h-11zM1432.0 1443.4h11v11h-11zM1438.0 1442.5h11v11h-11zM1444.0 1441.1h11v11h-11zM1450.0 1442.0h11v11h-11zM1456.0 1442.1h11v11h-11zM1462.0 1441.7h11v11h-11zM1468.0 1442.1h11v11h-11zM1474.0 1440.8h11v11h-11zM1480.0 1441.4h11v11h-11zM1486.0 1440.0h11v11h-11zM1492.0 1441.7h11v11h-11zM1498.0 1439.6h11v11h-11zM1504.0 1440.2h11v11h-11zM1510.0 1441.2h11v11h-11zM1516.0 1438.0h11v11h-11zM1522.0 1438.1h11v11h-11zM1527.8 1439.1h11v11h-11zM1533.8 1437.2h11v11h-11zM1539.8 1435.1h11v11h-11zM1545.8 1435.2h11v11h-11zM1550.8 1433.0h11v11h-11zM1555.8 1432.4h11v11h-11zM1560.5 1431.8h11v11h-11zM1565.5 1431.6h11v11h-11zM1570.5 1429.5h11v11h-11zM1575.5 1429.7h11v11h-11zM1580.5 1429.3h11v11h-11zM1585.2 1432.4h11v11h-11zM1590.2 1427.3h11v11h-11zM1595.2 1425.9h11v11h-11zM1600.2 1427.8h11v11h-11zM1605.2 1427.5h11v11h-11zM1610.0 1421.7h11v11h-11zM1614.5 1426.7h11v11h-11zM1619.2 1420.7h11v11h-11zM1624.0 1415.7h11v11h-11zM1628.5 1420.0h11v11h-11zM1633.2 1414.7h11v11h-11zM1638.0 1410.1h11v11h-11zM1642.5 1413.0h11v11h-11zM1647.2 1409.5h11v11h-11zM1652.0 1406.8h11v11h-11zM1656.5 1409.7h11v11h-11zM1661.2 1405.8h11v11h-11zM1666.0 1402.9h11v11h-11zM1670.0 1398.5h11v11h-11zM1674.0 1398.0h11v11h-11zM1678.0 1395.5h11v11h-11zM1682.0 1395.2h11v11h-11zM1686.0 1390.1h11v11h-11zM1690.0 1382.7h11v11h-11zM1694.0 1382.5h11v11h-11zM1697.8 1382.6h11v11h-11zM1701.2 1379.4h11v11h-11zM1705.0 1364.5h11v11h-11zM1708.5 1364.5h11v11h-11zM1712.2 1363.0h11v11h-11zM1715.5 1370.6h11v11h-11zM1718.2 1354.9h11v11h-11zM1721.0 1351.3h11v11h-11zM1723.8 1341.3h11v11h-11zM1726.5 1342.9h11v11h-11zM1729.2 1341.0h11v11h-11zM1731.8 1334.2h11v11h-11zM1734.5 1342.7h11v11h-11zM1737.2 1322.4h11v11h-11zM1739.2 1322.0h11v11h-11zM1741.5 1323.1h11v11h-11zM1743.8 1306.9h11v11h-11zM1745.8 1299.7h11v11h-11zM1748.0 1314.1h11v11h-11zM1750.2 1305.1h11v11h-11zM1754.8 1298.7h11v11h-11zM1759.8 1299.4h11v11h-11zM1762.5 1306.1h11v11h-11zM1764.0 1314.1h11v11h-11zM1765.5 1301.5h11v11h-11zM1767.0 1311.9h11v11h-11zM1768.5 1329.1h11v11h-11zM1770.0 1324.6h11v11h-11zM1771.2 1302.6h11v11h-11zM1772.5 1302.0h11v11h-11zM1773.8 1292.2h11v11h-11zM1775.2 1292.7h11v11h-11zM1776.5 1298.7h11v11h-11zM1777.8 1287.0h11v11h-11zM1779.2 1297.0h11v11h-11zM1780.8 1283.8h11v11h-11zM1782.2 1274.1h11v11h-11zM1783.5 1265.8h11v11h-11zM1785.0 1269.8h11v11h-11zM1786.5 1260.4h11v11h-11zM1788.0 1251.0h11v11h-11zM1789.2 1247.4h11v11h-11zM1790.8 1240.4h11v11h-11zM1792.2 1238.7h11v11h-11zM1793.5 1238.5h11v11h-11zM1795.0 1223.9h11v11h-11zM1796.2 1225.4h11v11h-11zM1797.5 1228.3h11v11h-11zM1798.8 1222.2h11v11h-11zM1800.2 1211.3h11v11h-11zM1801.5 1207.7h11v11h-11zM1802.8 1200.7h11v11h-11zM1804.2 1196.7h11v11h-11zM1805.5 1190.5h11v11h-11zM1806.8 1188.3h11v11h-11zM1807.5 1194.7h11v11h-11zM1808.2 1173.9h11v11h-11zM1809.2 1161.5h11v11h-11zM1810.0 1163.1h11v11h-11zM1812.0 1166.4h11v11h-11zM1817.0 1159.9h11v11h-11zM1822.0 1174.4h11v11h-11zM1823.0 1188.4h11v11h-11zM1823.5 1173.4h11v11h-11zM1824.0 1187.9h11v11h-11zM1824.8 1178.8h11v11h-11zM1825.2 1200.9h11v11h-11zM1825.8 1214.0h11v11h-11zM1826.2 1209.6h11v11h-11zM1826.8 1189.8h11v11h-11zM1827.5 1212.3h11v11h-11zM1828.2 1225.7h11v11h-11zM1829.0 1225.1h11v11h-11zM1830.0 1220.5h11v11h-11zM1830.8 1225.6h11v11h-11zM1831.5 1233.1h11v11h-11zM1832.2 1217.2h11v11h-11zM1833.0 1218.5h11v11h-11zM1833.8 1219.7h11v11h-11zM1834.5 1209.3h11v11h-11zM1835.2 1194.8h11v11h-11zM1836.0 1195.7h11v11h-11zM1836.5 1191.8h11v11h-11zM1837.2 1206.2h11v11h-11zM1838.0 1192.6h11v11h-11zM1838.8 1179.2h11v11h-11zM1839.5 1184.1h11v11h-11zM1840.2 1165.6h11v11h-11zM1843.8 1168.6h11v11h-11zM1848.5 1164.9h11v11h-11zM1853.5 1174.7h11v11h-11zM1858.2 1151.2h11v11h-11zM1863.0 1157.4h11v11h-11zM1867.5 1170.2h11v11h-11zM1872.0 1164.8h11v11h-11zM1876.5 1143.0h11v11h-11zM1881.0 1164.8h11v11h-11zM1885.2 1149.7h11v11h-11zM1889.0 1145.2h11v11h-11zM1892.8 1152.0h11v11h-11zM1896.0 1165.0h11v11h-11zM1899.0 1154.8h11v11h-11zM1902.0 1157.3h11v11h-11zM1904.8 1153.9h11v11h-11zM1906.0 1162.2h11v11h-11zM1907.2 1174.6h11v11h-11zM1908.5 1171.2h11v11h-11zM1909.8 1179.0h11v11h-11zM1911.2 1187.9h11v11h-11zM1912.5 1194.0h11v11h-11zM1913.2 1201.0h11v11h-11zM1914.2 1198.3h11v11h-11zM1915.0 1218.2h11v11h-11zM1916.0 1220.0h11v11h-11zM1916.8 1218.7h11v11h-11zM1917.8 1236.8h11v11h-11zM1918.5 1232.4h11v11h-11zM1919.5 1250.8h11v11h-11zM1920.5 1244.5h11v11h-11zM1921.5 1239.0h11v11h-11zM1922.5 1243.6h11v11h-11zM1923.8 1254.0h11v11h-11zM1924.8 1259.8h11v11h-11zM1925.8 1272.9h11v11h-11zM1927.0 1255.2h11v11h-11zM1928.0 1269.1h11v11h-11zM1929.0 1269.8h11v11h-11zM1930.2 1288.8h11v11h-11zM1931.2 1288.6h11v11h-11zM1932.2 1303.5h11v11h-11zM1933.5 1292.6h11v11h-11zM1934.5 1296.3h11v11h-11zM1935.5 1317.8h11v11h-11zM1936.8 1312.4h11v11h-11zM1937.8 1313.1h11v11h-11zM1938.8 1330.9h11v11h-11zM1940.0 1336.6h11v11h-11zM1941.0 1337.0h11v11h-11zM1942.0 1339.2h11v11h-11zM1943.0 1347.6h11v11h-11zM1944.2 1346.3h11v11h-11zM1945.2 1349.9h11v11h-11zM1946.2 1352.8h11v11h-11zM1947.2 1357.2h11v11h-11zM1948.5 1359.8h11v11h-11zM1949.5 1365.9h11v11h-11zM1950.5 1380.4h11v11h-11zM1951.5 1381.8h11v11h-11zM1952.8 1389.4h11v11h-11zM1953.8 1393.4h11v11h-11zM1955.0 1395.1h11v11h-11zM1956.2 1400.1h11v11h-11zM1957.2 1403.3h11v11h-11zM1958.5 1412.5h11v11h-11zM1959.8 1417.0h11v11h-11zM1960.8 1418.9h11v11h-11zM1962.0 1424.4h11v11h-11zM1963.2 1429.8h11v11h-11zM1964.2 1433.5h11v11h-11zM1966.0 1439.0h11v11h-11zM1968.0 1441.8h11v11h-11zM1970.0 1446.9h11v11h-11zM1972.0 1452.1h11v11h-11zM1974.0 1457.3h11v11h-11zM1976.0 1461.5h11v11h-11zM1978.0 1467.6h11v11h-11zM1980.0 1470.9h11v11h-11zM1982.8 1474.0h11v11h-11zM1985.8 1479.1h11v11h-11zM1988.8 1482.4h11v11h-11zM1991.5 1486.2h11v11h-11zM1994.5 1490.9h11v11h-11zM1999.0 1492.8h11v11h-11zM2003.2 1494.9h11v11h-11zM2007.8 1497.0h11v11h-11zM2012.2 1499.3h11v11h-11zM2017.0 1500.9h11v11h-11zM2022.0 1501.7h11v11h-11zM2027.0 1502.4h11v11h-11zM2031.8 1503.1h11v11h-11zM2036.8 1503.8h11v11h-11z"/>
<path d="M236.0 1511.0 L450.0 1511.0 L485.0 1505.0 L510.0 1498.0 L530.0 1486.0 L545.0 1462.0 L553.0 1405.0 L560.0 1389.0 L560.0 1389.0" fill="none" stroke="#ff3c3c" stroke-width="11.5" stroke-linejoin="round" stroke-linecap="round"/>
<path d="M745.0 1378.1 L748.0 1395.0 L758.0 1425.0 L772.0 1441.0 L790.0 1449.0 L850.0 1456.0 L1000.0 1458.0 L1250.0 1456.0 L1515.0 1452.0 L1612.0 1441.0 L1672.0 1415.0 L1700.0 1395.0 L1720.0 1378.0 L1740.0 1350.0 L1760.0 1318.0 L1774.0 1335.0 L1790.0 1295.0 L1810.0 1240.0 L1818.0 1205.0 L1832.0 1240.0 L1845.0 1220.0 L1858.0 1230.0 L1872.0 1232.0 L1887.0 1225.0 L1899.0 1170.0 L1905.0 1185.0 L1912.0 1220.0 L1920.0 1270.0 L1930.0 1320.0 L1945.0 1375.0 L1960.0 1420.0 L1975.0 1460.0 L1990.0 1489.0 L2005.0 1503.0 L2047.0 1510.5" fill="none" stroke="#ff3c3c" stroke-width="11.5" stroke-linejoin="round" stroke-linecap="round"/>
<path d="M560.0 1389.0 L583.0 1378.0 L591.0 1340.0 L594.0 1290.0 L610.0 1240.0 L620.0 1210.0 L630.0 1175.0 L645.0 1080.0 L655.0 1020.0 L665.0 975.0 L675.0 955.0 L685.0 955.0 L695.0 975.0 L703.0 1040.0 L708.0 1120.0 L712.0 1185.0 L718.0 1230.0 L725.0 1270.0 L733.0 1310.0 L740.0 1350.0 L745.0 1378.1" fill="none" stroke="#ff3c3c" stroke-width="6" stroke-linejoin="round" stroke-linecap="round"/>
<path d="M443.1 1511.0 L449.1 1511.0 L455.1 1510.2 L461.1 1509.1 L467.1 1508.1 L473.1 1507.2 L479.1 1506.0 L485.1 1505.1 L491.1 1503.3 L497.1 1501.5 L503.1 1500.1 L509.1 1497.4 L515.1 1495.1 L521.1 1490.7 L527.1 1487.7 L533.1 1480.0 L539.1 1473.8 L545.1 1462.6 L545.9 1455.5 L546.6 1449.3 L547.4 1440.0 L548.1 1439.1 L548.6 1432.9 L549.4 1428.8 L550.1 1422.8 L550.9 1418.7 L551.6 1415.5 L552.1 1409.6 L552.9 1410.1 L554.4 1397.3 L556.4 1401.5 L558.4 1391.7 L560.9 1379.2 L565.4 1387.4 L569.9 1384.2 L574.4 1376.7 L578.9 1379.9 L583.1 1381.4 L584.1 1371.5 L585.4 1363.8 L586.4 1358.3 L587.4 1361.6 L588.4 1342.6 L589.4 1338.0 L590.4 1343.0 L591.1 1336.7 L591.6 1332.8 L591.9 1316.4 L592.1 1326.5 L592.4 1312.8 L592.6 1316.7 L593.1 1310.1 L593.4 1295.4 L593.6 1286.4 L593.9 1292.6 L594.6 1293.6 L596.1 1276.8 L597.6 1279.2 L599.1 1271.4 L600.6 1252.8 L602.1 1252.1 L603.6 1265.9 L605.1 1230.0 L606.9 1249.8 L608.4 1235.8 L607.5 968.0 L610.5 968.0 L609.9 1248.3 L611.4 1236.5 L612.9 1253.5 L614.6 1203.3 L616.1 1203.9 L617.6 1233.3 L619.4 1232.2 L620.9 1229.2 L622.1 1186.3 L623.6 1203.9 L624.9 1193.9 L626.4 1192.3 L627.6 1185.2 L629.1 1194.4 L630.4 1172.4 L631.1 1190.2 L631.9 1164.4 L632.6 1153.6 L633.4 1146.3 L634.1 1152.8 L634.9 1159.2 L635.6 1135.3 L636.6 1146.4 L637.4 1085.3 L638.1 1102.3 L638.9 1122.2 L639.6 1127.7 L640.4 1129.8 L641.1 1132.1 L641.9 1110.4 L642.9 1084.8 L643.6 1073.2 L642.2 705.0 L645.2 705.0 L644.4 1066.6 L645.1 1014.2 L645.9 1097.0 L646.6 1070.0 L647.6 993.7 L648.4 1120.5 L649.1 1072.5 L650.1 1043.8 L650.9 1039.7 L651.6 1026.6 L652.4 1044.1 L653.4 1017.2 L654.1 1023.6 L654.9 993.7 L655.9 1083.6 L657.1 1042.4 L658.1 1006.1 L659.1 1039.4 L660.4 1034.7 L661.4 967.9 L662.4 1011.5 L663.6 957.1 L664.6 948.1 L666.4 960.4 L668.6 947.9 L670.9 967.4 L673.1 1014.8 L675.6 956.2 L680.6 936.8 L685.4 976.9 L687.6 964.1 L689.9 935.2 L692.1 1003.5 L694.4 948.9 L695.6 908.6 L696.1 1005.0 L696.9 984.5 L697.4 999.7 L697.9 941.3 L698.6 992.7 L699.1 975.8 L699.9 1039.1 L700.4 1018.8 L701.1 1024.8 L701.6 1067.2 L702.4 1003.8 L702.9 1019.7 L703.4 1082.2 L703.6 1034.1 L703.9 1056.3 L704.4 1052.5 L704.6 1058.3 L704.9 1099.4 L705.1 1077.8 L705.4 1048.5 L705.9 1096.6 L706.1 1109.0 L706.4 1119.1 L706.6 1120.3 L707.1 1099.5 L707.4 1079.0 L707.6 1105.9 L707.9 1113.3 L708.4 1087.5 L708.6 1138.7 L708.9 1145.3 L709.1 1129.0 L709.6 1137.0 L709.9 1166.5 L710.1 1172.9 L710.4 1153.6 L710.9 1162.5 L711.1 1190.4 L711.4 1177.5 L711.6 1186.6 L711.9 1175.8 L712.4 1189.3 L713.1 1194.5 L713.9 1203.8 L714.4 1188.0 L715.1 1189.3 L715.9 1218.8 L716.4 1206.5 L717.1 1233.1 L717.9 1228.0 L718.4 1222.6 L719.4 1219.1 L720.1 1244.8 L721.1 1248.2 L721.9 1250.6 L722.9 1268.0 L723.6 1261.9 L724.6 1272.2 L725.4 1269.4 L726.4 1283.9 L727.4 1294.0 L728.4 1286.5 L729.4 1290.2 L730.4 1299.9 L731.4 1296.7 L732.4 1308.3 L733.4 1315.3 L734.1 1313.8 L734.9 1328.6 L735.9 1329.7 L736.6 1330.7 L737.6 1332.3 L738.4 1341.3 L739.4 1344.9 L740.1 1353.4 L741.1 1354.9 L741.9 1353.6 L742.9 1368.7 L743.6 1361.9 L744.6 1378.2 L745.4 1380.0 L746.4 1385.1 L747.1 1386.6 L748.1 1399.2 L749.6 1405.8 L751.1 1402.6 L752.6 1406.6 L754.1 1411.7 L755.9 1413.1 L757.4 1422.6 L759.9 1426.5 L763.1 1428.8 L766.4 1433.8 L769.9 1435.3 L773.4 1442.8 L778.1 1444.1 L782.6 1447.5 L787.1 1447.0 L790.0 1449.3 L796.0 1449.0 L802.0 1448.9 L808.0 1451.1 L814.0 1452.0 L820.0 1452.9 L826.0 1453.8 L831.8 1454.3 L837.8 1454.1 L843.8 1455.2 L849.8 1455.9 L855.8 1456.2 L861.8 1455.6 L867.8 1455.9 L873.8 1456.4 L879.8 1456.0 L885.8 1456.6 L891.8 1457.3 L897.8 1455.7 L903.8 1456.4 L909.8 1457.4 L915.8 1456.2 L921.8 1456.7 L927.8 1458.0 L933.8 1456.1 L939.8 1457.0 L945.8 1456.7 L951.8 1457.2 L957.8 1457.5 L963.8 1458.5 L969.8 1457.0 L975.8 1457.7 L981.8 1457.9 L987.8 1457.6 L993.8 1457.9 L999.8 1457.6 L1005.8 1458.2 L1004.5 1483.0 L1007.5 1483.0 L1008.5 1485.0 L1011.5 1485.0 L1011.8 1457.9 L1017.8 1459.1 L1023.8 1458.1 L1029.8 1457.3 L1035.8 1456.9 L1041.8 1457.9 L1047.8 1457.7 L1053.8 1456.6 L1059.8 1457.7 L1065.8 1457.0 L1071.8 1456.3 L1077.8 1457.4 L1083.8 1456.5 L1084.0 1483.0 L1087.0 1483.0 L1088.0 1484.5 L1091.0 1484.5 L1089.8 1457.7 L1095.8 1457.1 L1101.8 1457.2 L1107.8 1457.1 L1113.8 1456.4 L1119.8 1455.7 L1123.1 1482.0 L1126.1 1482.0 L1125.8 1457.4 L1127.1 1483.5 L1130.1 1483.5 L1131.8 1457.3 L1137.8 1456.6 L1143.8 1457.5 L1149.8 1456.5 L1155.8 1456.4 L1161.8 1456.9 L1167.8 1456.3 L1173.8 1457.6 L1179.8 1456.1 L1185.8 1457.5 L1191.8 1456.9 L1195.5 1447.0 L1198.5 1447.0 L1197.8 1456.8 L1203.8 1456.6 L1209.8 1455.8 L1215.8 1456.2 L1221.8 1456.5 L1227.8 1455.8 L1233.8 1455.1 L1239.8 1456.1 L1238.5 1445.0 L1241.5 1445.0 L1245.8 1455.8 L1251.8 1455.2 L1257.8 1455.7 L1263.8 1456.6 L1269.8 1454.4 L1275.8 1454.3 L1281.8 1456.8 L1287.8 1455.5 L1293.8 1455.1 L1299.8 1454.6 L1305.8 1454.7 L1311.8 1455.3 L1317.8 1455.7 L1323.8 1454.8 L1324.5 1447.0 L1327.5 1447.0 L1329.8 1454.1 L1335.8 1455.4 L1341.8 1455.3 L1347.8 1454.5 L1353.8 1455.7 L1359.8 1454.5 L1365.8 1454.6 L1371.8 1453.9 L1377.8 1454.6 L1383.8 1454.6 L1389.8 1454.2 L1395.8 1453.8 L1401.8 1454.2 L1407.8 1453.6 L1413.8 1453.0 L1419.8 1452.6 L1425.8 1452.2 L1431.8 1453.8 L1437.8 1453.5 L1443.8 1454.5 L1449.8 1451.7 L1455.8 1453.4 L1461.8 1452.8 L1467.8 1452.3 L1473.8 1453.6 L1479.8 1452.2 L1485.8 1452.5 L1491.8 1453.6 L1497.8 1452.1 L1503.8 1451.3 L1509.8 1453.5 L1515.8 1451.3 L1521.5 1451.1 L1527.5 1450.2 L1533.5 1449.5 L1539.5 1448.0 L1545.5 1448.8 L1551.5 1446.9 L1556.5 1447.7 L1561.2 1445.9 L1566.2 1447.1 L1571.2 1445.8 L1576.2 1442.9 L1581.2 1443.9 L1586.2 1444.1 L1591.2 1444.9 L1596.2 1443.9 L1601.0 1442.0 L1606.0 1440.3 L1611.0 1440.5 L1615.8 1438.5 L1620.2 1437.5 L1625.0 1433.0 L1629.5 1434.1 L1634.0 1432.5 L1638.8 1427.6 L1643.2 1427.3 L1647.8 1426.1 L1652.5 1424.7 L1657.0 1422.1 L1661.5 1418.0 L1666.2 1416.6 L1670.8 1418.7 L1675.0 1411.7 L1679.0 1409.5 L1683.2 1409.9 L1687.2 1401.7 L1691.2 1402.1 L1695.2 1399.5 L1699.5 1392.6 L1703.2 1387.5 L1707.0 1391.6 L1711.0 1384.0 L1714.8 1385.8 L1718.5 1371.4 L1721.8 1377.6 L1724.8 1366.3 L1727.5 1370.3 L1730.5 1359.7 L1733.5 1350.0 L1736.2 1364.6 L1739.2 1353.1 L1742.0 1344.3 L1744.5 1343.3 L1747.2 1341.9 L1750.0 1323.4 L1752.5 1329.6 L1755.2 1334.7 L1757.8 1316.7 L1760.5 1328.5 L1763.8 1316.0 L1767.0 1329.7 L1770.0 1329.4 L1773.2 1327.4 L1775.5 1330.6 L1777.2 1334.6 L1779.2 1331.5 L1781.0 1310.6 L1783.0 1308.1 L1784.8 1313.1 L1786.8 1297.8 L1788.5 1295.6 L1790.2 1290.1 L1792.0 1302.8 L1793.8 1286.7 L1795.5 1273.6 L1797.2 1269.9 L1799.0 1263.9 L1800.5 1280.8 L1802.2 1260.0 L1804.0 1252.7 L1805.8 1236.1 L1807.5 1254.4 L1809.2 1244.7 L1810.5 1237.5 L1811.8 1224.9 L1812.8 1231.7 L1814.0 1212.6 L1815.0 1225.0 L1816.2 1210.3 L1817.2 1213.1 L1818.5 1204.8 L1820.5 1217.5 L1822.2 1229.8 L1824.2 1211.1 L1826.0 1222.4 L1827.8 1234.1 L1829.8 1232.7 L1831.5 1230.7 L1834.0 1245.0 L1836.8 1233.6 L1839.5 1223.9 L1842.2 1219.7 L1845.0 1222.9 L1848.8 1240.2 L1852.8 1215.3 L1856.8 1226.3 L1861.2 1230.4 L1866.2 1233.5 L1871.2 1229.7 L1875.8 1233.8 L1880.2 1236.8 L1885.0 1232.3 L1887.8 1226.7 L1888.8 1222.4 L1889.8 1222.8 L1890.8 1202.0 L1892.0 1214.2 L1893.0 1191.3 L1894.0 1202.6 L1895.2 1183.8 L1896.2 1169.1 L1897.2 1176.0 L1898.2 1180.8 L1899.5 1170.8 L1901.5 1174.8 L1903.2 1197.8 L1905.2 1192.2 L1906.2 1189.7 L1907.0 1199.4 L1908.0 1199.3 L1909.0 1198.3 L1910.0 1203.1 L1911.0 1207.0 L1912.0 1214.9 L1912.8 1227.2 L1913.5 1229.5 L1914.5 1237.9 L1915.2 1242.9 L1916.0 1246.4 L1916.8 1263.2 L1917.5 1256.9 L1918.2 1259.2 L1919.2 1272.5 L1920.0 1270.2 L1920.8 1270.1 L1921.8 1279.9 L1922.8 1270.1 L1923.8 1302.1 L1924.8 1295.1 L1925.8 1310.4 L1926.8 1297.7 L1927.8 1296.6 L1928.8 1325.6 L1929.8 1318.0 L1930.8 1319.8 L1932.2 1329.9 L1933.5 1329.9 L1934.8 1347.8 L1936.0 1337.7 L1937.5 1345.7 L1938.8 1352.0 L1940.0 1359.4 L1941.5 1359.3 L1942.8 1368.9 L1944.0 1370.4 L1945.2 1377.8 L1947.0 1388.8 L1948.5 1385.6 L1950.0 1389.3 L1951.8 1392.6 L1953.2 1402.7 L1954.8 1404.4 L1956.5 1407.6 L1958.0 1413.6 L1959.5 1415.1 L1961.2 1419.8 L1963.0 1429.5 L1964.8 1435.7 L1966.5 1436.1 L1968.2 1439.9 L1970.0 1445.5 L1971.8 1450.4 L1973.5 1456.7 L1975.5 1461.7 L1977.8 1464.5 L1980.0 1470.4 L1982.2 1475.4 L1984.5 1479.0 L1987.0 1482.1 L1989.2 1486.6 L1992.2 1491.4 L1996.0 1494.8 L1999.5 1497.8 L2003.2 1501.5 L2007.5 1503.2 L2012.5 1504.3 L2017.5 1505.4 L2022.2 1506.0 L2027.2 1507.0 L2032.2 1507.9 L2037.0 1508.7 L2042.0 1509.6" fill="none" stroke="#ff0000" stroke-width="2.8" stroke-linejoin="round"/>
<path fill="#ff3c3c" d="M437.5 1511.0a5.6 5.6 0 1 0 11.2 0a5.6 5.6 0 1 0-11.2 0zM443.5 1511.0a5.6 5.6 0 1 0 11.2 0a5.6 5.6 0 1 0-11.2 0zM449.5 1510.2a5.6 5.6 0 1 0 11.2 0a5.6 5.6 0 1 0-11.2 0zM455.5 1509.1a5.6 5.6 0 1 0 11.2 0a5.6 5.6 0 1 0-11.2 0zM461.5 1508.1a5.6 5.6 0 1 0 11.2 0a5.6 5.6 0 1 0-11.2 0zM467.5 1507.2a5.6 5.6 0 1 0 11.2 0a5.6 5.6 0 1 0-11.2 0zM473.5 1506.0a5.6 5.6 0 1 0 11.2 0a5.6 5.6 0 1 0-11.2 0zM479.5 1505.1a5.6 5.6 0 1 0 11.2 0a5.6 5.6 0 1 0-11.2 0zM485.5 1503.3a5.6 5.6 0 1 0 11.2 0a5.6 5.6 0 1 0-11.2 0zM491.5 1501.5a5.6 5.6 0 1 0 11.2 0a5.6 5.6 0 1 0-11.2 0zM497.5 1500.1a5.6 5.6 0 1 0 11.2 0a5.6 5.6 0 1 0-11.2 0zM503.5 1497.4a5.6 5.6 0 1 0 11.2 0a5.6 5.6 0 1 0-11.2 0zM509.5 1495.1a5.6 5.6 0 1 0 11.2 0a5.6 5.6 0 1 0-11.2 0zM515.5 1490.7a5.6 5.6 0 1 0 11.2 0a5.6 5.6 0 1 0-11.2 0zM521.5 1487.7a5.6 5.6 0 1 0 11.2 0a5.6 5.6 0 1 0-11.2 0zM527.5 1480.0a5.6 5.6 0 1 0 11.2 0a5.6 5.6 0 1 0-11.2 0zM533.5 1473.8a5.6 5.6 0 1 0 11.2 0a5.6 5.6 0 1 0-11.2 0zM539.5 1462.6a5.6 5.6 0 1 0 11.2 0a5.6 5.6 0 1 0-11.2 0zM540.2 1455.5a5.6 5.6 0 1 0 11.2 0a5.6 5.6 0 1 0-11.2 0zM541.0 1449.3a5.6 5.6 0 1 0 11.2 0a5.6 5.6 0 1 0-11.2 0zM541.8 1440.0a5.6 5.6 0 1 0 11.2 0a5.6 5.6 0 1 0-11.2 0zM542.5 1439.1a5.6 5.6 0 1 0 11.2 0a5.6 5.6 0 1 0-11.2 0zM543.0 1432.9a5.6 5.6 0 1 0 11.2 0a5.6 5.6 0 1 0-11.2 0zM543.8 1428.8a5.6 5.6 0 1 0 11.2 0a5.6 5.6 0 1 0-11.2 0zM544.5 1422.8a5.6 5.6 0 1 0 11.2 0a5.6 5.6 0 1 0-11.2 0zM545.2 1418.7a5.6 5.6 0 1 0 11.2 0a5.6 5.6 0 1 0-11.2 0zM546.0 1415.5a5.6 5.6 0 1 0 11.2 0a5.6 5.6 0 1 0-11.2 0zM546.5 1409.6a5.6 5.6 0 1 0 11.2 0a5.6 5.6 0 1 0-11.2 0zM547.2 1410.1a5.6 5.6 0 1 0 11.2 0a5.6 5.6 0 1 0-11.2 0zM548.8 1397.3a5.6 5.6 0 1 0 11.2 0a5.6 5.6 0 1 0-11.2 0zM550.8 1401.5a5.6 5.6 0 1 0 11.2 0a5.6 5.6 0 1 0-11.2 0zM552.8 1391.7a5.6 5.6 0 1 0 11.2 0a5.6 5.6 0 1 0-11.2 0zM555.2 1379.2a5.6 5.6 0 1 0 11.2 0a5.6 5.6 0 1 0-11.2 0zM559.8 1387.4a5.6 5.6 0 1 0 11.2 0a5.6 5.6 0 1 0-11.2 0zM564.2 1384.2a5.6 5.6 0 1 0 11.2 0a5.6 5.6 0 1 0-11.2 0zM568.8 1376.7a5.6 5.6 0 1 0 11.2 0a5.6 5.6 0 1 0-11.2 0zM573.2 1379.9a5.6 5.6 0 1 0 11.2 0a5.6 5.6 0 1 0-11.2 0zM577.5 1381.4a5.6 5.6 0 1 0 11.2 0a5.6 5.6 0 1 0-11.2 0zM578.5 1371.5a5.6 5.6 0 1 0 11.2 0a5.6 5.6 0 1 0-11.2 0zM579.8 1363.8a5.6 5.6 0 1 0 11.2 0a5.6 5.6 0 1 0-11.2 0zM580.8 1358.3a5.6 5.6 0 1 0 11.2 0a5.6 5.6 0 1 0-11.2 0zM581.8 1361.6a5.6 5.6 0 1 0 11.2 0a5.6 5.6 0 1 0-11.2 0zM582.8 1342.6a5.6 5.6 0 1 0 11.2 0a5.6 5.6 0 1 0-11.2 0zM583.8 1338.0a5.6 5.6 0 1 0 11.2 0a5.6 5.6 0 1 0-11.2 0zM584.8 1343.0a5.6 5.6 0 1 0 11.2 0a5.6 5.6 0 1 0-11.2 0zM585.5 1336.7a5.6 5.6 0 1 0 11.2 0a5.6 5.6 0 1 0-11.2 0zM586.0 1332.8a5.6 5.6 0 1 0 11.2 0a5.6 5.6 0 1 0-11.2 0zM586.2 1316.4a5.6 5.6 0 1 0 11.2 0a5.6 5.6 0 1 0-11.2 0zM586.5 1326.5a5.6 5.6 0 1 0 11.2 0a5.6 5.6 0 1 0-11.2 0zM586.8 1312.8a5.6 5.6 0 1 0 11.2 0a5.6 5.6 0 1 0-11.2 0zM587.0 1316.7a5.6 5.6 0 1 0 11.2 0a5.6 5.6 0 1 0-11.2 0zM587.5 1310.1a5.6 5.6 0 1 0 11.2 0a5.6 5.6 0 1 0-11.2 0zM587.8 1295.4a5.6 5.6 0 1 0 11.2 0a5.6 5.6 0 1 0-11.2 0zM588.0 1286.4a5.6 5.6 0 1 0 11.2 0a5.6 5.6 0 1 0-11.2 0zM588.2 1292.6a5.6 5.6 0 1 0 11.2 0a5.6 5.6 0 1 0-11.2 0zM589.0 1293.6a5.6 5.6 0 1 0 11.2 0a5.6 5.6 0 1 0-11.2 0zM590.5 1276.8a5.6 5.6 0 1 0 11.2 0a5.6 5.6 0 1 0-11.2 0zM592.0 1279.2a5.6 5.6 0 1 0 11.2 0a5.6 5.6 0 1 0-11.2 0zM593.5 1271.4a5.6 5.6 0 1 0 11.2 0a5.6 5.6 0 1 0-11.2 0zM595.0 1252.8a5.6 5.6 0 1 0 11.2 0a5.6 5.6 0 1 0-11.2 0zM596.5 1252.1a5.6 5.6 0 1 0 11.2 0a5.6 5.6 0 1 0-11.2 0zM598.0 1265.9a5.6 5.6 0 1 0 11.2 0a5.6 5.6 0 1 0-11.2 0zM599.5 1230.0a5.6 5.6 0 1 0 11.2 0a5.6 5.6 0 1 0-11.2 0zM601.2 1249.8a5.6 5.6 0 1 0 11.2 0a5.6 5.6 0 1 0-11.2 0zM602.8 1235.8a5.6 5.6 0 1 0 11.2 0a5.6 5.6 0 1 0-11.2 0zM601.9 968.0a5.6 5.6 0 1 0 11.2 0a5.6 5.6 0 1 0-11.2 0zM604.9 968.0a5.6 5.6 0 1 0 11.2 0a5.6 5.6 0 1 0-11.2 0zM604.2 1248.3a5.6 5.6 0 1 0 11.2 0a5.6 5.6 0 1 0-11.2 0zM605.8 1236.5a5.6 5.6 0 1 0 11.2 0a5.6 5.6 0 1 0-11.2 0zM607.2 1253.5a5.6 5.6 0 1 0 11.2 0a5.6 5.6 0 1 0-11.2 0zM609.0 1203.3a5.6 5.6 0 1 0 11.2 0a5.6 5.6 0 1 0-11.2 0zM610.5 1203.9a5.6 5.6 0 1 0 11.2 0a5.6 5.6 0 1 0-11.2 0zM612.0 1233.3a5.6 5.6 0 1 0 11.2 0a5.6 5.6 0 1 0-11.2 0zM613.8 1232.2a5.6 5.6 0 1 0 11.2 0a5.6 5.6 0 1 0-11.2 0zM615.2 1229.2a5.6 5.6 0 1 0 11.2 0a5.6 5.6 0 1 0-11.2 0zM616.5 1186.3a5.6 5.6 0 1 0 11.2 0a5.6 5.6 0 1 0-11.2 0zM618.0 1203.9a5.6 5.6 0 1 0 11.2 0a5.6 5.6 0 1 0-11.2 0zM619.2 1193.9a5.6 5.6 0 1 0 11.2 0a5.6 5.6 0 1 0-11.2 0zM620.8 1192.3a5.6 5.6 0 1 0 11.2 0a5.6 5.6 0 1 0-11.2 0zM622.0 1185.2a5.6 5.6 0 1 0 11.2 0a5.6 5.6 0 1 0-11.2 0zM623.5 1194.4a5.6 5.6 0 1 0 11.2 0a5.6 5.6 0 1 0-11.2 0zM624.8 1172.4a5.6 5.6 0 1 0 11.2 0a5.6 5.6 0 1 0-11.2 0zM625.5 1190.2a5.6 5.6 0 1 0 11.2 0a5.6 5.6 0 1 0-11.2 0zM626.2 1164.4a5.6 5.6 0 1 0 11.2 0a5.6 5.6 0 1 0-11.2 0zM627.0 1153.6a5.6 5.6 0 1 0 11.2 0a5.6 5.6 0 1 0-11.2 0zM627.8 1146.3a5.6 5.6 0 1 0 11.2 0a5.6 5.6 0 1 0-11.2 0zM628.5 1152.8a5.6 5.6 0 1 0 11.2 0a5.6 5.6 0 1 0-11.2 0zM629.2 1159.2a5.6 5.6 0 1 0 11.2 0a5.6 5.6 0 1 0-11.2 0zM630.0 1135.3a5.6 5.6 0 1 0 11.2 0a5.6 5.6 0 1 0-11.2 0zM631.0 1146.4a5.6 5.6 0 1 0 11.2 0a5.6 5.6 0 1 0-11.2 0zM631.8 1085.3a5.6 5.6 0 1 0 11.2 0a5.6 5.6 0 1 0-11.2 0zM632.5 1102.3a5.6 5.6 0 1 0 11.2 0a5.6 5.6 0 1 0-11.2 0zM633.2 1122.2a5.6 5.6 0 1 0 11.2 0a5.6 5.6 0 1 0-11.2 0zM634.0 1127.7a5.6 5.6 0 1 0 11.2 0a5.6 5.6 0 1 0-11.2 0zM634.8 1129.8a5.6 5.6 0 1 0 11.2 0a5.6 5.6 0 1 0-11.2 0zM635.5 1132.1a5.6 5.6 0 1 0 11.2 0a5.6 5.6 0 1 0-11.2 0zM636.2 1110.4a5.6 5.6 0 1 0 11.2 0a5.6 5.6 0 1 0-11.2 0zM637.2 1084.8a5.6 5.6 0 1 0 11.2 0a5.6 5.6 0 1 0-11.2 0zM638.0 1073.2a5.6 5.6 0 1 0 11.2 0a5.6 5.6 0 1 0-11.2 0zM636.6 705.0a5.6 5.6 0 1 0 11.2 0a5.6 5.6 0 1 0-11.2 0zM639.6 705.0a5.6 5.6 0 1 0 11.2 0a5.6 5.6 0 1 0-11.2 0zM638.8 1066.6a5.6 5.6 0 1 0 11.2 0a5.6 5.6 0 1 0-11.2 0zM639.5 1014.2a5.6 5.6 0 1 0 11.2 0a5.6 5.6 0 1 0-11.2 0zM640.2 1097.0a5.6 5.6 0 1 0 11.2 0a5.6 5.6 0 1 0-11.2 0zM641.0 1070.0a5.6 5.6 0 1 0 11.2 0a5.6 5.6 0 1 0-11.2 0zM642.0 993.7a5.6 5.6 0 1 0 11.2 0a5.6 5.6 0 1 0-11.2 0zM642.8 1120.5a5.6 5.6 0 1 0 11.2 0a5.6 5.6 0 1 0-11.2 0zM643.5 1072.5a5.6 5.6 0 1 0 11.2 0a5.6 5.6 0 1 0-11.2 0zM644.5 1043.8a5.6 5.6 0 1 0 11.2 0a5.6 5.6 0 1 0-11.2 0zM645.2 1039.7a5.6 5.6 0 1 0 11.2 0a5.6 5.6 0 1 0-11.2 0zM646.0 1026.6a5.6 5.6 0 1 0 11.2 0a5.6 5.6 0 1 0-11.2 0zM646.8 1044.1a5.6 5.6 0 1 0 11.2 0a5.6 5.6 0 1 0-11.2 0zM647.8 1017.2a5.6 5.6 0 1 0 11.2 0a5.6 5.6 0 1 0-11.2 0zM648.5 1023.6a5.6 5.6 0 1 0 11.2 0a5.6 5.6 0 1 0-11.2 0zM649.2 993.7a5.6 5.6 0 1 0 11.2 0a5.6 5.6 0 1 0-11.2 0zM650.2 1083.6a5.6 5.6 0 1 0 11.2 0a5.6 5.6 0 1 0-11.2 0zM651.5 1042.4a5.6 5.6 0 1 0 11.2 0a5.6 5.6 0 1 0-11.2 0zM652.5 1006.1a5.6 5.6 0 1 0 11.2 0a5.6 5.6 0 1 0-11.2 0zM653.5 1039.4a5.6 5.6 0 1 0 11.2 0a5.6 5.6 0 1 0-11.2 0zM654.8 1034.7a5.6 5.6 0 1 0 11.2 0a5.6 5.6 0 1 0-11.2 0zM655.8 967.9a5.6 5.6 0 1 0 11.2 0a5.6 5.6 0 1 0-11.2 0zM656.8 1011.5a5.6 5.6 0 1 0 11.2 0a5.6 5.6 0 1 0-11.2 0zM658.0 957.1a5.6 5.6 0 1 0 11.2 0a5.6 5.6 0 1 0-11.2 0zM659.0 948.1a5.6 5.6 0 1 0 11.2 0a5.6 5.6 0 1 0-11.2 0zM660.8 960.4a5.6 5.6 0 1 0 11.2 0a5.6 5.6 0 1 0-11.2 0zM663.0 947.9a5.6 5.6 0 1 0 11.2 0a5.6 5.6 0 1 0-11.2 0zM665.2 967.4a5.6 5.6 0 1 0 11.2 0a5.6 5.6 0 1 0-11.2 0zM667.5 1014.8a5.6 5.6 0 1 0 11.2 0a5.6 5.6 0 1 0-11.2 0zM670.0 956.2a5.6 5.6 0 1 0 11.2 0a5.6 5.6 0 1 0-11.2 0zM675.0 936.8a5.6 5.6 0 1 0 11.2 0a5.6 5.6 0 1 0-11.2 0zM679.8 976.9a5.6 5.6 0 1 0 11.2 0a5.6 5.6 0 1 0-11.2 0zM682.0 964.1a5.6 5.6 0 1 0 11.2 0a5.6 5.6 0 1 0-11.2 0zM684.2 935.2a5.6 5.6 0 1 0 11.2 0a5.6 5.6 0 1 0-11.2 0zM686.5 1003.5a5.6 5.6 0 1 0 11.2 0a5.6 5.6 0 1 0-11.2 0zM688.8 948.9a5.6 5.6 0 1 0 11.2 0a5.6 5.6 0 1 0-11.2 0zM690.0 908.6a5.6 5.6 0 1 0 11.2 0a5.6 5.6 0 1 0-11.2 0zM690.5 1005.0a5.6 5.6 0 1 0 11.2 0a5.6 5.6 0 1 0-11.2 0zM691.2 984.5a5.6 5.6 0 1 0 11.2 0a5.6 5.6 0 1 0-11.2 0zM691.8 999.7a5.6 5.6 0 1 0 11.2 0a5.6 5.6 0 1 0-11.2 0zM692.2 941.3a5.6 5.6 0 1 0 11.2 0a5.6 5.6 0 1 0-11.2 0zM693.0 992.7a5.6 5.6 0 1 0 11.2 0a5.6 5.6 0 1 0-11.2 0zM693.5 975.8a5.6 5.6 0 1 0 11.2 0a5.6 5.6 0 1 0-11.2 0zM694.2 1039.1a5.6 5.6 0 1 0 11.2 0a5.6 5.6 0 1 0-11.2 0zM694.8 1018.8a5.6 5.6 0 1 0 11.2 0a5.6 5.6 0 1 0-11.2 0zM695.5 1024.8a5.6 5.6 0 1 0 11.2 0a5.6 5.6 0 1 0-11.2 0zM696.0 1067.2a5.6 5.6 0 1 0 11.2 0a5.6 5.6 0 1 0-11.2 0zM696.8 1003.8a5.6 5.6 0 1 0 11.2 0a5.6 5.6 0 1 0-11.2 0zM697.2 1019.7a5.6 5.6 0 1 0 11.2 0a5.6 5.6 0 1 0-11.2 0zM697.8 1082.2a5.6 5.6 0 1 0 11.2 0a5.6 5.6 0 1 0-11.2 0zM698.0 1034.1a5.6 5.6 0 1 0 11.2 0a5.6 5.6 0 1 0-11.2 0zM698.2 1056.3a5.6 5.6 0 1 0 11.2 0a5.6 5.6 0 1 0-11.2 0zM698.8 1052.5a5.6 5.6 0 1 0 11.2 0a5.6 5.6 0 1 0-11.2 0zM699.0 1058.3a5.6 5.6 0 1 0 11.2 0a5.6 5.6 0 1 0-11.2 0zM699.2 1099.4a5.6 5.6 0 1 0 11.2 0a5.6 5.6 0 1 0-11.2 0zM699.5 1077.8a5.6 5.6 0 1 0 11.2 0a5.6 5.6 0 1 0-11.2 0zM699.8 1048.5a5.6 5.6 0 1 0 11.2 0a5.6 5.6 0 1 0-11.2 0zM700.2 1096.6a5.6 5.6 0 1 0 11.2 0a5.6 5.6 0 1 0-11.2 0zM700.5 1109.0a5.6 5.6 0 1 0 11.2 0a5.6 5.6 0 1 0-11.2 0zM700.8 1119.1a5.6 5.6 0 1 0 11.2 0a5.6 5.6 0 1 0-11.2 0zM701.0 1120.3a5.6 5.6 0 1 0 11.2 0a5.6 5.6 0 1 0-11.2 0zM701.5 1099.5a5.6 5.6 0 1 0 11.2 0a5.6 5.6 0 1 0-11.2 0zM701.8 1079.0a5.6 5.6 0 1 0 11.2 0a5.6 5.6 0 1 0-11.2 0zM702.0 1105.9a5.6 5.6 0 1 0 11.2 0a5.6 5.6 0 1 0-11.2 0zM702.2 1113.3a5.6 5.6 0 1 0 11.2 0a5.6 5.6 0 1 0-11.2 0zM702.8 1087.5a5.6 5.6 0 1 0 11.2 0a5.6 5.6 0 1 0-11.2 0zM703.0 1138.7a5.6 5.6 0 1 0 11.2 0a5.6 5.6 0 1 0-11.2 0zM703.2 1145.3a5.6 5.6 0 1 0 11.2 0a5.6 5.6 0 1 0-11.2 0zM703.5 1129.0a5.6 5.6 0 1 0 11.2 0a5.6 5.6 0 1 0-11.2 0zM704.0 1137.0a5.6 5.6 0 1 0 11.2 0a5.6 5.6 0 1 0-11.2 0zM704.2 1166.5a5.6 5.6 0 1 0 11.2 0a5.6 5.6 0 1 0-11.2 0zM704.5 1172.9a5.6 5.6 0 1 0 11.2 0a5.6 5.6 0 1 0-11.2 0zM704.8 1153.6a5.6 5.6 0 1 0 11.2 0a5.6 5.6 0 1 0-11.2 0zM705.2 1162.5a5.6 5.6 0 1 0 11.2 0a5.6 5.6 0 1 0-11.2 0zM705.5 1190.4a5.6 5.6 0 1 0 11.2 0a5.6 5.6 0 1 0-11.2 0zM705.8 1177.5a5.6 5.6 0 1 0 11.2 0a5.6 5.6 0 1 0-11.2 0zM706.0 1186.6a5.6 5.6 0 1 0 11.2 0a5.6 5.6 0 1 0-11.2 0zM706.2 1175.8a5.6 5.6 0 1 0 11.2 0a5.6 5.6 0 1 0-11.2 0zM706.8 1189.3a5.6 5.6 0 1 0 11.2 0a5.6 5.6 0 1 0-11.2 0zM707.5 1194.5a5.6 5.6 0 1 0 11.2 0a5.6 5.6 0 1 0-11.2 0zM708.2 1203.8a5.6 5.6 0 1 0 11.2 0a5.6 5.6 0 1 0-11.2 0zM708.8 1188.0a5.6 5.6 0 1 0 11.2 0a5.6 5.6 0 1 0-11.2 0zM709.5 1189.3a5.6 5.6 0 1 0 11.2 0a5.6 5.6 0 1 0-11.2 0zM710.2 1218.8a5.6 5.6 0 1 0 11.2 0a5.6 5.6 0 1 0-11.2 0zM710.8 1206.5a5.6 5.6 0 1 0 11.2 0a5.6 5.6 0 1 0-11.2 0zM711.5 1233.1a5.6 5.6 0 1 0 11.2 0a5.6 5.6 0 1 0-11.2 0zM712.2 1228.0a5.6 5.6 0 1 0 11.2 0a5.6 5.6 0 1 0-11.2 0zM712.8 1222.6a5.6 5.6 0 1 0 11.2 0a5.6 5.6 0 1 0-11.2 0zM713.8 1219.1a5.6 5.6 0 1 0 11.2 0a5.6 5.6 0 1 0-11.2 0zM714.5 1244.8a5.6 5.6 0 1 0 11.2 0a5.6 5.6 0 1 0-11.2 0zM715.5 1248.2a5.6 5.6 0 1 0 11.2 0a5.6 5.6 0 1 0-11.2 0zM716.2 1250.6a5.6 5.6 0 1 0 11.2 0a5.6 5.6 0 1 0-11.2 0zM717.2 1268.0a5.6 5.6 0 1 0 11.2 0a5.6 5.6 0 1 0-11.2 0zM718.0 1261.9a5.6 5.6 0 1 0 11.2 0a5.6 5.6 0 1 0-11.2 0zM719.0 1272.2a5.6 5.6 0 1 0 11.2 0a5.6 5.6 0 1 0-11.2 0zM719.8 1269.4a5.6 5.6 0 1 0 11.2 0a5.6 5.6 0 1 0-11.2 0zM720.8 1283.9a5.6 5.6 0 1 0 11.2 0a5.6 5.6 0 1 0-11.2 0zM721.8 1294.0a5.6 5.6 0 1 0 11.2 0a5.6 5.6 0 1 0-11.2 0zM722.8 1286.5a5.6 5.6 0 1 0 11.2 0a5.6 5.6 0 1 0-11.2 0zM723.8 1290.2a5.6 5.6 0 1 0 11.2 0a5.6 5.6 0 1 0-11.2 0zM724.8 1299.9a5.6 5.6 0 1 0 11.2 0a5.6 5.6 0 1 0-11.2 0zM725.8 1296.7a5.6 5.6 0 1 0 11.2 0a5.6 5.6 0 1 0-11.2 0zM726.8 1308.3a5.6 5.6 0 1 0 11.2 0a5.6 5.6 0 1 0-11.2 0zM727.8 1315.3a5.6 5.6 0 1 0 11.2 0a5.6 5.6 0 1 0-11.2 0zM728.5 1313.8a5.6 5.6 0 1 0 11.2 0a5.6 5.6 0 1 0-11.2 0zM729.2 1328.6a5.6 5.6 0 1 0 11.2 0a5.6 5.6 0 1 0-11.2 0zM730.2 1329.7a5.6 5.6 0 1 0 11.2 0a5.6 5.6 0 1 0-11.2 0zM731.0 1330.7a5.6 5.6 0 1 0 11.2 0a5.6 5.6 0 1 0-11.2 0zM732.0 1332.3a5.6 5.6 0 1 0 11.2 0a5.6 5.6 0 1 0-11.2 0zM732.8 1341.3a5.6 5.6 0 1 0 11.2 0a5.6 5.6 0 1 0-11.2 0zM733.8 1344.9a5.6 5.6 0 1 0 11.2 0a5.6 5.6 0 1 0-11.2 0zM734.5 1353.4a5.6 5.6 0 1 0 11.2 0a5.6 5.6 0 1 0-11.2 0zM735.5 1354.9a5.6 5.6 0 1 0 11.2 0a5.6 5.6 0 1 0-11.2 0zM736.2 1353.6a5.6 5.6 0 1 0 11.2 0a5.6 5.6 0 1 0-11.2 0zM737.2 1368.7a5.6 5.6 0 1 0 11.2 0a5.6 5.6 0 1 0-11.2 0zM738.0 1361.9a5.6 5.6 0 1 0 11.2 0a5.6 5.6 0 1 0-11.2 0zM739.0 1378.2a5.6 5.6 0 1 0 11.2 0a5.6 5.6 0 1 0-11.2 0zM739.8 1380.0a5.6 5.6 0 1 0 11.2 0a5.6 5.6 0 1 0-11.2 0zM740.8 1385.1a5.6 5.6 0 1 0 11.2 0a5.6 5.6 0 1 0-11.2 0zM741.5 1386.6a5.6 5.6 0 1 0 11.2 0a5.6 5.6 0 1 0-11.2 0zM742.5 1399.2a5.6 5.6 0 1 0 11.2 0a5.6 5.6 0 1 0-11.2 0zM744.0 1405.8a5.6 5.6 0 1 0 11.2 0a5.6 5.6 0 1 0-11.2 0zM745.5 1402.6a5.6 5.6 0 1 0 11.2 0a5.6 5.6 0 1 0-11.2 0zM747.0 1406.6a5.6 5.6 0 1 0 11.2 0a5.6 5.6 0 1 0-11.2 0zM748.5 1411.7a5.6 5.6 0 1 0 11.2 0a5.6 5.6 0 1 0-11.2 0zM750.2 1413.1a5.6 5.6 0 1 0 11.2 0a5.6 5.6 0 1 0-11.2 0zM751.8 1422.6a5.6 5.6 0 1 0 11.2 0a5.6 5.6 0 1 0-11.2 0zM754.2 1426.5a5.6 5.6 0 1 0 11.2 0a5.6 5.6 0 1 0-11.2 0zM757.5 1428.8a5.6 5.6 0 1 0 11.2 0a5.6 5.6 0 1 0-11.2 0zM760.8 1433.8a5.6 5.6 0 1 0 11.2 0a5.6 5.6 0 1 0-11.2 0zM764.2 1435.3a5.6 5.6 0 1 0 11.2 0a5.6 5.6 0 1 0-11.2 0zM767.8 1442.8a5.6 5.6 0 1 0 11.2 0a5.6 5.6 0 1 0-11.2 0zM772.5 1444.1a5.6 5.6 0 1 0 11.2 0a5.6 5.6 0 1 0-11.2 0zM777.0 1447.5a5.6 5.6 0 1 0 11.2 0a5.6 5.6 0 1 0-11.2 0zM781.5 1447.0a5.6 5.6 0 1 0 11.2 0a5.6 5.6 0 1 0-11.2 0zM784.4 1449.3a5.6 5.6 0 1 0 11.2 0a5.6 5.6 0 1 0-11.2 0zM790.4 1449.0a5.6 5.6 0 1 0 11.2 0a5.6 5.6 0 1 0-11.2 0zM796.4 1448.9a5.6 5.6 0 1 0 11.2 0a5.6 5.6 0 1 0-11.2 0zM802.4 1451.1a5.6 5.6 0 1 0 11.2 0a5.6 5.6 0 1 0-11.2 0zM808.4 1452.0a5.6 5.6 0 1 0 11.2 0a5.6 5.6 0 1 0-11.2 0zM814.4 1452.9a5.6 5.6 0 1 0 11.2 0a5.6 5.6 0 1 0-11.2 0zM820.4 1453.8a5.6 5.6 0 1 0 11.2 0a5.6 5.6 0 1 0-11.2 0zM826.1 1454.3a5.6 5.6 0 1 0 11.2 0a5.6 5.6 0 1 0-11.2 0zM832.1 1454.1a5.6 5.6 0 1 0 11.2 0a5.6 5.6 0 1 0-11.2 0zM838.1 1455.2a5.6 5.6 0 1 0 11.2 0a5.6 5.6 0 1 0-11.2 0zM844.1 1455.9a5.6 5.6 0 1 0 11.2 0a5.6 5.6 0 1 0-11.2 0zM850.1 1456.2a5.6 5.6 0 1 0 11.2 0a5.6 5.6 0 1 0-11.2 0zM856.1 1455.6a5.6 5.6 0 1 0 11.2 0a5.6 5.6 0 1 0-11.2 0zM862.1 1455.9a5.6 5.6 0 1 0 11.2 0a5.6 5.6 0 1 0-11.2 0zM868.1 1456.4a5.6 5.6 0 1 0 11.2 0a5.6 5.6 0 1 0-11.2 0zM874.1 1456.0a5.6 5.6 0 1 0 11.2 0a5.6 5.6 0 1 0-11.2 0zM880.1 1456.6a5.6 5.6 0 1 0 11.2 0a5.6 5.6 0 1 0-11.2 0zM886.1 1457.3a5.6 5.6 0 1 0 11.2 0a5.6 5.6 0 1 0-11.2 0zM892.1 1455.7a5.6 5.6 0 1 0 11.2 0a5.6 5.6 0 1 0-11.2 0zM898.1 1456.4a5.6 5.6 0 1 0 11.2 0a5.6 5.6 0 1 0-11.2 0zM904.1 1457.4a5.6 5.6 0 1 0 11.2 0a5.6 5.6 0 1 0-11.2 0zM910.1 1456.2a5.6 5.6 0 1 0 11.2 0a5.6 5.6 0 1 0-11.2 0zM916.1 1456.7a5.6 5.6 0 1 0 11.2 0a5.6 5.6 0 1 0-11.2 0zM922.1 1458.0a5.6 5.6 0 1 0 11.2 0a5.6 5.6 0 1 0-11.2 0zM928.1 1456.1a5.6 5.6 0 1 0 11.2 0a5.6 5.6 0 1 0-11.2 0zM934.1 1457.0a5.6 5.6 0 1 0 11.2 0a5.6 5.6 0 1 0-11.2 0zM940.1 1456.7a5.6 5.6 0 1 0 11.2 0a5.6 5.6 0 1 0-11.2 0zM946.1 1457.2a5.6 5.6 0 1 0 11.2 0a5.6 5.6 0 1 0-11.2 0zM952.1 1457.5a5.6 5.6 0 1 0 11.2 0a5.6 5.6 0 1 0-11.2 0zM958.1 1458.5a5.6 5.6 0 1 0 11.2 0a5.6 5.6 0 1 0-11.2 0zM964.1 1457.0a5.6 5.6 0 1 0 11.2 0a5.6 5.6 0 1 0-11.2 0zM970.1 1457.7a5.6 5.6 0 1 0 11.2 0a5.6 5.6 0 1 0-11.2 0zM976.1 1457.9a5.6 5.6 0 1 0 11.2 0a5.6 5.6 0 1 0-11.2 0zM982.1 1457.6a5.6 5.6 0 1 0 11.2 0a5.6 5.6 0 1 0-11.2 0zM988.1 1457.9a5.6 5.6 0 1 0 11.2 0a5.6 5.6 0 1 0-11.2 0zM994.1 1457.6a5.6 5.6 0 1 0 11.2 0a5.6 5.6 0 1 0-11.2 0zM1000.1 1458.2a5.6 5.6 0 1 0 11.2 0a5.6 5.6 0 1 0-11.2 0zM998.9 1483.0a5.6 5.6 0 1 0 11.2 0a5.6 5.6 0 1 0-11.2 0zM1001.9 1483.0a5.6 5.6 0 1 0 11.2 0a5.6 5.6 0 1 0-11.2 0zM1002.9 1485.0a5.6 5.6 0 1 0 11.2 0a5.6 5.6 0 1 0-11.2 0zM1005.9 1485.0a5.6 5.6 0 1 0 11.2 0a5.6 5.6 0 1 0-11.2 0zM1006.1 1457.9a5.6 5.6 0 1 0 11.2 0a5.6 5.6 0 1 0-11.2 0zM1012.1 1459.1a5.6 5.6 0 1 0 11.2 0a5.6 5.6 0 1 0-11.2 0zM1018.1 1458.1a5.6 5.6 0 1 0 11.2 0a5.6 5.6 0 1 0-11.2 0zM1024.2 1457.3a5.6 5.6 0 1 0 11.2 0a5.6 5.6 0 1 0-11.2 0zM1030.2 1456.9a5.6 5.6 0 1 0 11.2 0a5.6 5.6 0 1 0-11.2 0zM1036.2 1457.9a5.6 5.6 0 1 0 11.2 0a5.6 5.6 0 1 0-11.2 0zM1042.2 1457.7a5.6 5.6 0 1 0 11.2 0a5.6 5.6 0 1 0-11.2 0zM1048.2 1456.6a5.6 5.6 0 1 0 11.2 0a5.6 5.6 0 1 0-11.2 0zM1054.2 1457.7a5.6 5.6 0 1 0 11.2 0a5.6 5.6 0 1 0-11.2 0zM1060.2 1457.0a5.6 5.6 0 1 0 11.2 0a5.6 5.6 0 1 0-11.2 0zM1066.2 1456.3a5.6 5.6 0 1 0 11.2 0a5.6 5.6 0 1 0-11.2 0zM1072.2 1457.4a5.6 5.6 0 1 0 11.2 0a5.6 5.6 0 1 0-11.2 0zM1078.2 1456.5a5.6 5.6 0 1 0 11.2 0a5.6 5.6 0 1 0-11.2 0zM1078.4 1483.0a5.6 5.6 0 1 0 11.2 0a5.6 5.6 0 1 0-11.2 0zM1081.4 1483.0a5.6 5.6 0 1 0 11.2 0a5.6 5.6 0 1 0-11.2 0zM1082.4 1484.5a5.6 5.6 0 1 0 11.2 0a5.6 5.6 0 1 0-11.2 0zM1085.4 1484.5a5.6 5.6 0 1 0 11.2 0a5.6 5.6 0 1 0-11.2 0zM1084.2 1457.7a5.6 5.6 0 1 0 11.2 0a5.6 5.6 0 1 0-11.2 0zM1090.2 1457.1a5.6 5.6 0 1 0 11.2 0a5.6 5.6 0 1 0-11.2 0zM1096.2 1457.2a5.6 5.6 0 1 0 11.2 0a5.6 5.6 0 1 0-11.2 0zM1102.2 1457.1a5.6 5.6 0 1 0 11.2 0a5.6 5.6 0 1 0-11.2 0zM1108.2 1456.4a5.6 5.6 0 1 0 11.2 0a5.6 5.6 0 1 0-11.2 0zM1114.2 1455.7a5.6 5.6 0 1 0 11.2 0a5.6 5.6 0 1 0-11.2 0zM1117.5 1482.0a5.6 5.6 0 1 0 11.2 0a5.6 5.6 0 1 0-11.2 0zM1120.5 1482.0a5.6 5.6 0 1 0 11.2 0a5.6 5.6 0 1 0-11.2 0zM1120.2 1457.4a5.6 5.6 0 1 0 11.2 0a5.6 5.6 0 1 0-11.2 0zM1121.5 1483.5a5.6 5.6 0 1 0 11.2 0a5.6 5.6 0 1 0-11.2 0zM1124.5 1483.5a5.6 5.6 0 1 0 11.2 0a5.6 5.6 0 1 0-11.2 0zM1126.2 1457.3a5.6 5.6 0 1 0 11.2 0a5.6 5.6 0 1 0-11.2 0zM1132.2 1456.6a5.6 5.6 0 1 0 11.2 0a5.6 5.6 0 1 0-11.2 0zM1138.2 1457.5a5.6 5.6 0 1 0 11.2 0a5.6 5.6 0 1 0-11.2 0zM1144.2 1456.5a5.6 5.6 0 1 0 11.2 0a5.6 5.6 0 1 0-11.2 0zM1150.2 1456.4a5.6 5.6 0 1 0 11.2 0a5.6 5.6 0 1 0-11.2 0zM1156.2 1456.9a5.6 5.6 0 1 0 11.2 0a5.6 5.6 0 1 0-11.2 0zM1162.2 1456.3a5.6 5.6 0 1 0 11.2 0a5.6 5.6 0 1 0-11.2 0zM1168.2 1457.6a5.6 5.6 0 1 0 11.2 0a5.6 5.6 0 1 0-11.2 0zM1174.2 1456.1a5.6 5.6 0 1 0 11.2 0a5.6 5.6 0 1 0-11.2 0zM1180.2 1457.5a5.6 5.6 0 1 0 11.2 0a5.6 5.6 0 1 0-11.2 0zM1186.2 1456.9a5.6 5.6 0 1 0 11.2 0a5.6 5.6 0 1 0-11.2 0zM1189.9 1447.0a5.6 5.6 0 1 0 11.2 0a5.6 5.6 0 1 0-11.2 0zM1192.9 1447.0a5.6 5.6 0 1 0 11.2 0a5.6 5.6 0 1 0-11.2 0zM1192.2 1456.8a5.6 5.6 0 1 0 11.2 0a5.6 5.6 0 1 0-11.2 0zM1198.2 1456.6a5.6 5.6 0 1 0 11.2 0a5.6 5.6 0 1 0-11.2 0zM1204.2 1455.8a5.6 5.6 0 1 0 11.2 0a5.6 5.6 0 1 0-11.2 0zM1210.2 1456.2a5.6 5.6 0 1 0 11.2 0a5.6 5.6 0 1 0-11.2 0zM1216.2 1456.5a5.6 5.6 0 1 0 11.2 0a5.6 5.6 0 1 0-11.2 0zM1222.2 1455.8a5.6 5.6 0 1 0 11.2 0a5.6 5.6 0 1 0-11.2 0zM1228.2 1455.1a5.6 5.6 0 1 0 11.2 0a5.6 5.6 0 1 0-11.2 0zM1234.2 1456.1a5.6 5.6 0 1 0 11.2 0a5.6 5.6 0 1 0-11.2 0zM1232.9 1445.0a5.6 5.6 0 1 0 11.2 0a5.6 5.6 0 1 0-11.2 0zM1235.9 1445.0a5.6 5.6 0 1 0 11.2 0a5.6 5.6 0 1 0-11.2 0zM1240.2 1455.8a5.6 5.6 0 1 0 11.2 0a5.6 5.6 0 1 0-11.2 0zM1246.2 1455.2a5.6 5.6 0 1 0 11.2 0a5.6 5.6 0 1 0-11.2 0zM1252.2 1455.7a5.6 5.6 0 1 0 11.2 0a5.6 5.6 0 1 0-11.2 0zM1258.2 1456.6a5.6 5.6 0 1 0 11.2 0a5.6 5.6 0 1 0-11.2 0zM1264.2 1454.4a5.6 5.6 0 1 0 11.2 0a5.6 5.6 0 1 0-11.2 0zM1270.2 1454.3a5.6 5.6 0 1 0 11.2 0a5.6 5.6 0 1 0-11.2 0zM1276.2 1456.8a5.6 5.6 0 1 0 11.2 0a5.6 5.6 0 1 0-11.2 0zM1282.2 1455.5a5.6 5.6 0 1 0 11.2 0a5.6 5.6 0 1 0-11.2 0zM1288.2 1455.1a5.6 5.6 0 1 0 11.2 0a5.6 5.6 0 1 0-11.2 0zM1294.2 1454.6a5.6 5.6 0 1 0 11.2 0a5.6 5.6 0 1 0-11.2 0zM1300.2 1454.7a5.6 5.6 0 1 0 11.2 0a5.6 5.6 0 1 0-11.2 0zM1306.2 1455.3a5.6 5.6 0 1 0 11.2 0a5.6 5.6 0 1 0-11.2 0zM1312.2 1455.7a5.6 5.6 0 1 0 11.2 0a5.6 5.6 0 1 0-11.2 0zM1318.2 1454.8a5.6 5.6 0 1 0 11.2 0a5.6 5.6 0 1 0-11.2 0zM1318.9 1447.0a5.6 5.6 0 1 0 11.2 0a5.6 5.6 0 1 0-11.2 0zM1321.9 1447.0a5.6 5.6 0 1 0 11.2 0a5.6 5.6 0 1 0-11.2 0zM1324.2 1454.1a5.6 5.6 0 1 0 11.2 0a5.6 5.6 0 1 0-11.2 0zM1330.2 1455.4a5.6 5.6 0 1 0 11.2 0a5.6 5.6 0 1 0-11.2 0zM1336.2 1455.3a5.6 5.6 0 1 0 11.2 0a5.6 5.6 0 1 0-11.2 0zM1342.2 1454.5a5.6 5.6 0 1 0 11.2 0a5.6 5.6 0 1 0-11.2 0zM1348.2 1455.7a5.6 5.6 0 1 0 11.2 0a5.6 5.6 0 1 0-11.2 0zM1354.2 1454.5a5.6 5.6 0 1 0 11.2 0a5.6 5.6 0 1 0-11.2 0zM1360.2 1454.6a5.6 5.6 0 1 0 11.2 0a5.6 5.6 0 1 0-11.2 0zM1366.2 1453.9a5.6 5.6 0 1 0 11.2 0a5.6 5.6 0 1 0-11.2 0zM1372.2 1454.6a5.6 5.6 0 1 0 11.2 0a5.6 5.6 0 1 0-11.2 0zM1378.2 1454.6a5.6 5.6 0 1 0 11.2 0a5.6 5.6 0 1 0-11.2 0zM1384.2 1454.2a5.6 5.6 0 1 0 11.2 0a5.6 5.6 0 1 0-11.2 0zM1390.2 1453.8a5.6 5.6 0 1 0 11.2 0a5.6 5.6 0 1 0-11.2 0zM1396.2 1454.2a5.6 5.6 0 1 0 11.2 0a5.6 5.6 0 1 0-11.2 0zM1402.2 1453.6a5.6 5.6 0 1 0 11.2 0a5.6 5.6 0 1 0-11.2 0zM1408.2 1453.0a5.6 5.6 0 1 0 11.2 0a5.6 5.6 0 1 0-11.2 0zM1414.2 1452.6a5.6 5.6 0 1 0 11.2 0a5.6 5.6 0 1 0-11.2 0zM1420.2 1452.2a5.6 5.6 0 1 0 11.2 0a5.6 5.6 0 1 0-11.2 0zM1426.2 1453.8a5.6 5.6 0 1 0 11.2 0a5.6 5.6 0 1 0-11.2 0zM1432.2 1453.5a5.6 5.6 0 1 0 11.2 0a5.6 5.6 0 1 0-11.2 0zM1438.2 1454.5a5.6 5.6 0 1 0 11.2 0a5.6 5.6 0 1 0-11.2 0zM1444.2 1451.7a5.6 5.6 0 1 0 11.2 0a5.6 5.6 0 1 0-11.2 0zM1450.2 1453.4a5.6 5.6 0 1 0 11.2 0a5.6 5.6 0 1 0-11.2 0zM1456.2 1452.8a5.6 5.6 0 1 0 11.2 0a5.6 5.6 0 1 0-11.2 0zM1462.2 1452.3a5.6 5.6 0 1 0 11.2 0a5.6 5.6 0 1 0-11.2 0zM1468.2 1453.6a5.6 5.6 0 1 0 11.2 0a5.6 5.6 0 1 0-11.2 0zM1474.2 1452.2a5.6 5.6 0 1 0 11.2 0a5.6 5.6 0 1 0-11.2 0zM1480.2 1452.5a5.6 5.6 0 1 0 11.2 0a5.6 5.6 0 1 0-11.2 0zM1486.2 1453.6a5.6 5.6 0 1 0 11.2 0a5.6 5.6 0 1 0-11.2 0zM1492.2 1452.1a5.6 5.6 0 1 0 11.2 0a5.6 5.6 0 1 0-11.2 0zM1498.2 1451.3a5.6 5.6 0 1 0 11.2 0a5.6 5.6 0 1 0-11.2 0zM1504.2 1453.5a5.6 5.6 0 1 0 11.2 0a5.6 5.6 0 1 0-11.2 0zM1510.2 1451.3a5.6 5.6 0 1 0 11.2 0a5.6 5.6 0 1 0-11.2 0zM1515.9 1451.1a5.6 5.6 0 1 0 11.2 0a5.6 5.6 0 1 0-11.2 0zM1521.9 1450.2a5.6 5.6 0 1 0 11.2 0a5.6 5.6 0 1 0-11.2 0zM1527.9 1449.5a5.6 5.6 0 1 0 11.2 0a5.6 5.6 0 1 0-11.2 0zM1533.9 1448.0a5.6 5.6 0 1 0 11.2 0a5.6 5.6 0 1 0-11.2 0zM1539.9 1448.8a5.6 5.6 0 1 0 11.2 0a5.6 5.6 0 1 0-11.2 0zM1545.9 1446.9a5.6 5.6 0 1 0 11.2 0a5.6 5.6 0 1 0-11.2 0zM1550.9 1447.7a5.6 5.6 0 1 0 11.2 0a5.6 5.6 0 1 0-11.2 0zM1555.7 1445.9a5.6 5.6 0 1 0 11.2 0a5.6 5.6 0 1 0-11.2 0zM1560.7 1447.1a5.6 5.6 0 1 0 11.2 0a5.6 5.6 0 1 0-11.2 0zM1565.7 1445.8a5.6 5.6 0 1 0 11.2 0a5.6 5.6 0 1 0-11.2 0zM1570.7 1442.9a5.6 5.6 0 1 0 11.2 0a5.6 5.6 0 1 0-11.2 0zM1575.7 1443.9a5.6 5.6 0 1 0 11.2 0a5.6 5.6 0 1 0-11.2 0zM1580.7 1444.1a5.6 5.6 0 1 0 11.2 0a5.6 5.6 0 1 0-11.2 0zM1585.7 1444.9a5.6 5.6 0 1 0 11.2 0a5.6 5.6 0 1 0-11.2 0zM1590.7 1443.9a5.6 5.6 0 1 0 11.2 0a5.6 5.6 0 1 0-11.2 0zM1595.4 1442.0a5.6 5.6 0 1 0 11.2 0a5.6 5.6 0 1 0-11.2 0zM1600.4 1440.3a5.6 5.6 0 1 0 11.2 0a5.6 5.6 0 1 0-11.2 0zM1605.4 1440.5a5.6 5.6 0 1 0 11.2 0a5.6 5.6 0 1 0-11.2 0zM1610.2 1438.5a5.6 5.6 0 1 0 11.2 0a5.6 5.6 0 1 0-11.2 0zM1614.7 1437.5a5.6 5.6 0 1 0 11.2 0a5.6 5.6 0 1 0-11.2 0zM1619.4 1433.0a5.6 5.6 0 1 0 11.2 0a5.6 5.6 0 1 0-11.2 0zM1623.9 1434.1a5.6 5.6 0 1 0 11.2 0a5.6 5.6 0 1 0-11.2 0zM1628.4 1432.5a5.6 5.6 0 1 0 11.2 0a5.6 5.6 0 1 0-11.2 0zM1633.2 1427.6a5.6 5.6 0 1 0 11.2 0a5.6 5.6 0 1 0-11.2 0zM1637.7 1427.3a5.6 5.6 0 1 0 11.2 0a5.6 5.6 0 1 0-11.2 0zM1642.2 1426.1a5.6 5.6 0 1 0 11.2 0a5.6 5.6 0 1 0-11.2 0zM1646.9 1424.7a5.6 5.6 0 1 0 11.2 0a5.6 5.6 0 1 0-11.2 0zM1651.4 1422.1a5.6 5.6 0 1 0 11.2 0a5.6 5.6 0 1 0-11.2 0zM1655.9 1418.0a5.6 5.6 0 1 0 11.2 0a5.6 5.6 0 1 0-11.2 0zM1660.7 1416.6a5.6 5.6 0 1 0 11.2 0a5.6 5.6 0 1 0-11.2 0zM1665.2 1418.7a5.6 5.6 0 1 0 11.2 0a5.6 5.6 0 1 0-11.2 0zM1669.4 1411.7a5.6 5.6 0 1 0 11.2 0a5.6 5.6 0 1 0-11.2 0zM1673.4 1409.5a5.6 5.6 0 1 0 11.2 0a5.6 5.6 0 1 0-11.2 0zM1677.7 1409.9a5.6 5.6 0 1 0 11.2 0a5.6 5.6 0 1 0-11.2 0zM1681.7 1401.7a5.6 5.6 0 1 0 11.2 0a5.6 5.6 0 1 0-11.2 0zM1685.7 1402.1a5.6 5.6 0 1 0 11.2 0a5.6 5.6 0 1 0-11.2 0zM1689.7 1399.5a5.6 5.6 0 1 0 11.2 0a5.6 5.6 0 1 0-11.2 0zM1693.9 1392.6a5.6 5.6 0 1 0 11.2 0a5.6 5.6 0 1 0-11.2 0zM1697.7 1387.5a5.6 5.6 0 1 0 11.2 0a5.6 5.6 0 1 0-11.2 0zM1701.4 1391.6a5.6 5.6 0 1 0 11.2 0a5.6 5.6 0 1 0-11.2 0zM1705.4 1384.0a5.6 5.6 0 1 0 11.2 0a5.6 5.6 0 1 0-11.2 0zM1709.2 1385.8a5.6 5.6 0 1 0 11.2 0a5.6 5.6 0 1 0-11.2 0zM1712.9 1371.4a5.6 5.6 0 1 0 11.2 0a5.6 5.6 0 1 0-11.2 0zM1716.2 1377.6a5.6 5.6 0 1 0 11.2 0a5.6 5.6 0 1 0-11.2 0zM1719.2 1366.3a5.6 5.6 0 1 0 11.2 0a5.6 5.6 0 1 0-11.2 0zM1721.9 1370.3a5.6 5.6 0 1 0 11.2 0a5.6 5.6 0 1 0-11.2 0zM1724.9 1359.7a5.6 5.6 0 1 0 11.2 0a5.6 5.6 0 1 0-11.2 0zM1727.9 1350.0a5.6 5.6 0 1 0 11.2 0a5.6 5.6 0 1 0-11.2 0zM1730.7 1364.6a5.6 5.6 0 1 0 11.2 0a5.6 5.6 0 1 0-11.2 0zM1733.7 1353.1a5.6 5.6 0 1 0 11.2 0a5.6 5.6 0 1 0-11.2 0zM1736.4 1344.3a5.6 5.6 0 1 0 11.2 0a5.6 5.6 0 1 0-11.2 0zM1738.9 1343.3a5.6 5.6 0 1 0 11.2 0a5.6 5.6 0 1 0-11.2 0zM1741.7 1341.9a5.6 5.6 0 1 0 11.2 0a5.6 5.6 0 1 0-11.2 0zM1744.4 1323.4a5.6 5.6 0 1 0 11.2 0a5.6 5.6 0 1 0-11.2 0zM1746.9 1329.6a5.6 5.6 0 1 0 11.2 0a5.6 5.6 0 1 0-11.2 0zM1749.7 1334.7a5.6 5.6 0 1 0 11.2 0a5.6 5.6 0 1 0-11.2 0zM1752.2 1316.7a5.6 5.6 0 1 0 11.2 0a5.6 5.6 0 1 0-11.2 0zM1754.9 1328.5a5.6 5.6 0 1 0 11.2 0a5.6 5.6 0 1 0-11.2 0zM1758.2 1316.0a5.6 5.6 0 1 0 11.2 0a5.6 5.6 0 1 0-11.2 0zM1761.4 1329.7a5.6 5.6 0 1 0 11.2 0a5.6 5.6 0 1 0-11.2 0zM1764.4 1329.4a5.6 5.6 0 1 0 11.2 0a5.6 5.6 0 1 0-11.2 0zM1767.7 1327.4a5.6 5.6 0 1 0 11.2 0a5.6 5.6 0 1 0-11.2 0zM1769.9 1330.6a5.6 5.6 0 1 0 11.2 0a5.6 5.6 0 1 0-11.2 0zM1771.7 1334.6a5.6 5.6 0 1 0 11.2 0a5.6 5.6 0 1 0-11.2 0zM1773.7 1331.5a5.6 5.6 0 1 0 11.2 0a5.6 5.6 0 1 0-11.2 0zM1775.4 1310.6a5.6 5.6 0 1 0 11.2 0a5.6 5.6 0 1 0-11.2 0zM1777.4 1308.1a5.6 5.6 0 1 0 11.2 0a5.6 5.6 0 1 0-11.2 0zM1779.2 1313.1a5.6 5.6 0 1 0 11.2 0a5.6 5.6 0 1 0-11.2 0zM1781.2 1297.8a5.6 5.6 0 1 0 11.2 0a5.6 5.6 0 1 0-11.2 0zM1782.9 1295.6a5.6 5.6 0 1 0 11.2 0a5.6 5.6 0 1 0-11.2 0zM1784.7 1290.1a5.6 5.6 0 1 0 11.2 0a5.6 5.6 0 1 0-11.2 0zM1786.4 1302.8a5.6 5.6 0 1 0 11.2 0a5.6 5.6 0 1 0-11.2 0zM1788.2 1286.7a5.6 5.6 0 1 0 11.2 0a5.6 5.6 0 1 0-11.2 0zM1789.9 1273.6a5.6 5.6 0 1 0 11.2 0a5.6 5.6 0 1 0-11.2 0zM1791.7 1269.9a5.6 5.6 0 1 0 11.2 0a5.6 5.6 0 1 0-11.2 0zM1793.4 1263.9a5.6 5.6 0 1 0 11.2 0a5.6 5.6 0 1 0-11.2 0zM1794.9 1280.8a5.6 5.6 0 1 0 11.2 0a5.6 5.6 0 1 0-11.2 0zM1796.7 1260.0a5.6 5.6 0 1 0 11.2 0a5.6 5.6 0 1 0-11.2 0zM1798.4 1252.7a5.6 5.6 0 1 0 11.2 0a5.6 5.6 0 1 0-11.2 0zM1800.2 1236.1a5.6 5.6 0 1 0 11.2 0a5.6 5.6 0 1 0-11.2 0zM1801.9 1254.4a5.6 5.6 0 1 0 11.2 0a5.6 5.6 0 1 0-11.2 0zM1803.7 1244.7a5.6 5.6 0 1 0 11.2 0a5.6 5.6 0 1 0-11.2 0zM1804.9 1237.5a5.6 5.6 0 1 0 11.2 0a5.6 5.6 0 1 0-11.2 0zM1806.2 1224.9a5.6 5.6 0 1 0 11.2 0a5.6 5.6 0 1 0-11.2 0zM1807.2 1231.7a5.6 5.6 0 1 0 11.2 0a5.6 5.6 0 1 0-11.2 0zM1808.4 1212.6a5.6 5.6 0 1 0 11.2 0a5.6 5.6 0 1 0-11.2 0zM1809.4 1225.0a5.6 5.6 0 1 0 11.2 0a5.6 5.6 0 1 0-11.2 0zM1810.7 1210.3a5.6 5.6 0 1 0 11.2 0a5.6 5.6 0 1 0-11.2 0zM1811.7 1213.1a5.6 5.6 0 1 0 11.2 0a5.6 5.6 0 1 0-11.2 0zM1812.9 1204.8a5.6 5.6 0 1 0 11.2 0a5.6 5.6 0 1 0-11.2 0zM1814.9 1217.5a5.6 5.6 0 1 0 11.2 0a5.6 5.6 0 1 0-11.2 0zM1816.7 1229.8a5.6 5.6 0 1 0 11.2 0a5.6 5.6 0 1 0-11.2 0zM1818.7 1211.1a5.6 5.6 0 1 0 11.2 0a5.6 5.6 0 1 0-11.2 0zM1820.4 1222.4a5.6 5.6 0 1 0 11.2 0a5.6 5.6 0 1 0-11.2 0zM1822.2 1234.1a5.6 5.6 0 1 0 11.2 0a5.6 5.6 0 1 0-11.2 0zM1824.2 1232.7a5.6 5.6 0 1 0 11.2 0a5.6 5.6 0 1 0-11.2 0zM1825.9 1230.7a5.6 5.6 0 1 0 11.2 0a5.6 5.6 0 1 0-11.2 0zM1828.4 1245.0a5.6 5.6 0 1 0 11.2 0a5.6 5.6 0 1 0-11.2 0zM1831.2 1233.6a5.6 5.6 0 1 0 11.2 0a5.6 5.6 0 1 0-11.2 0zM1833.9 1223.9a5.6 5.6 0 1 0 11.2 0a5.6 5.6 0 1 0-11.2 0zM1836.7 1219.7a5.6 5.6 0 1 0 11.2 0a5.6 5.6 0 1 0-11.2 0zM1839.4 1222.9a5.6 5.6 0 1 0 11.2 0a5.6 5.6 0 1 0-11.2 0zM1843.2 1240.2a5.6 5.6 0 1 0 11.2 0a5.6 5.6 0 1 0-11.2 0zM1847.2 1215.3a5.6 5.6 0 1 0 11.2 0a5.6 5.6 0 1 0-11.2 0zM1851.2 1226.3a5.6 5.6 0 1 0 11.2 0a5.6 5.6 0 1 0-11.2 0zM1855.7 1230.4a5.6 5.6 0 1 0 11.2 0a5.6 5.6 0 1 0-11.2 0zM1860.7 1233.5a5.6 5.6 0 1 0 11.2 0a5.6 5.6 0 1 0-11.2 0zM1865.7 1229.7a5.6 5.6 0 1 0 11.2 0a5.6 5.6 0 1 0-11.2 0zM1870.2 1233.8a5.6 5.6 0 1 0 11.2 0a5.6 5.6 0 1 0-11.2 0zM1874.7 1236.8a5.6 5.6 0 1 0 11.2 0a5.6 5.6 0 1 0-11.2 0zM1879.4 1232.3a5.6 5.6 0 1 0 11.2 0a5.6 5.6 0 1 0-11.2 0zM1882.2 1226.7a5.6 5.6 0 1 0 11.2 0a5.6 5.6 0 1 0-11.2 0zM1883.2 1222.4a5.6 5.6 0 1 0 11.2 0a5.6 5.6 0 1 0-11.2 0zM1884.2 1222.8a5.6 5.6 0 1 0 11.2 0a5.6 5.6 0 1 0-11.2 0zM1885.2 1202.0a5.6 5.6 0 1 0 11.2 0a5.6 5.6 0 1 0-11.2 0zM1886.4 1214.2a5.6 5.6 0 1 0 11.2 0a5.6 5.6 0 1 0-11.2 0zM1887.4 1191.3a5.6 5.6 0 1 0 11.2 0a5.6 5.6 0 1 0-11.2 0zM1888.4 1202.6a5.6 5.6 0 1 0 11.2 0a5.6 5.6 0 1 0-11.2 0zM1889.7 1183.8a5.6 5.6 0 1 0 11.2 0a5.6 5.6 0 1 0-11.2 0zM1890.7 1169.1a5.6 5.6 0 1 0 11.2 0a5.6 5.6 0 1 0-11.2 0zM1891.7 1176.0a5.6 5.6 0 1 0 11.2 0a5.6 5.6 0 1 0-11.2 0zM1892.7 1180.8a5.6 5.6 0 1 0 11.2 0a5.6 5.6 0 1 0-11.2 0zM1893.9 1170.8a5.6 5.6 0 1 0 11.2 0a5.6 5.6 0 1 0-11.2 0zM1895.9 1174.8a5.6 5.6 0 1 0 11.2 0a5.6 5.6 0 1 0-11.2 0zM1897.7 1197.8a5.6 5.6 0 1 0 11.2 0a5.6 5.6 0 1 0-11.2 0zM1899.7 1192.2a5.6 5.6 0 1 0 11.2 0a5.6 5.6 0 1 0-11.2 0zM1900.7 1189.7a5.6 5.6 0 1 0 11.2 0a5.6 5.6 0 1 0-11.2 0zM1901.4 1199.4a5.6 5.6 0 1 0 11.2 0a5.6 5.6 0 1 0-11.2 0zM1902.4 1199.3a5.6 5.6 0 1 0 11.2 0a5.6 5.6 0 1 0-11.2 0zM1903.4 1198.3a5.6 5.6 0 1 0 11.2 0a5.6 5.6 0 1 0-11.2 0zM1904.4 1203.1a5.6 5.6 0 1 0 11.2 0a5.6 5.6 0 1 0-11.2 0zM1905.4 1207.0a5.6 5.6 0 1 0 11.2 0a5.6 5.6 0 1 0-11.2 0zM1906.4 1214.9a5.6 5.6 0 1 0 11.2 0a5.6 5.6 0 1 0-11.2 0zM1907.2 1227.2a5.6 5.6 0 1 0 11.2 0a5.6 5.6 0 1 0-11.2 0zM1907.9 1229.5a5.6 5.6 0 1 0 11.2 0a5.6 5.6 0 1 0-11.2 0zM1908.9 1237.9a5.6 5.6 0 1 0 11.2 0a5.6 5.6 0 1 0-11.2 0zM1909.7 1242.9a5.6 5.6 0 1 0 11.2 0a5.6 5.6 0 1 0-11.2 0zM1910.4 1246.4a5.6 5.6 0 1 0 11.2 0a5.6 5.6 0 1 0-11.2 0zM1911.2 1263.2a5.6 5.6 0 1 0 11.2 0a5.6 5.6 0 1 0-11.2 0zM1911.9 1256.9a5.6 5.6 0 1 0 11.2 0a5.6 5.6 0 1 0-11.2 0zM1912.7 1259.2a5.6 5.6 0 1 0 11.2 0a5.6 5.6 0 1 0-11.2 0zM1913.7 1272.5a5.6 5.6 0 1 0 11.2 0a5.6 5.6 0 1 0-11.2 0zM1914.4 1270.2a5.6 5.6 0 1 0 11.2 0a5.6 5.6 0 1 0-11.2 0zM1915.2 1270.1a5.6 5.6 0 1 0 11.2 0a5.6 5.6 0 1 0-11.2 0zM1916.2 1279.9a5.6 5.6 0 1 0 11.2 0a5.6 5.6 0 1 0-11.2 0zM1917.2 1270.1a5.6 5.6 0 1 0 11.2 0a5.6 5.6 0 1 0-11.2 0zM1918.2 1302.1a5.6 5.6 0 1 0 11.2 0a5.6 5.6 0 1 0-11.2 0zM1919.2 1295.1a5.6 5.6 0 1 0 11.2 0a5.6 5.6 0 1 0-11.2 0zM1920.2 1310.4a5.6 5.6 0 1 0 11.2 0a5.6 5.6 0 1 0-11.2 0zM1921.2 1297.7a5.6 5.6 0 1 0 11.2 0a5.6 5.6 0 1 0-11.2 0zM1922.2 1296.6a5.6 5.6 0 1 0 11.2 0a5.6 5.6 0 1 0-11.2 0zM1923.2 1325.6a5.6 5.6 0 1 0 11.2 0a5.6 5.6 0 1 0-11.2 0zM1924.2 1318.0a5.6 5.6 0 1 0 11.2 0a5.6 5.6 0 1 0-11.2 0zM1925.2 1319.8a5.6 5.6 0 1 0 11.2 0a5.6 5.6 0 1 0-11.2 0zM1926.7 1329.9a5.6 5.6 0 1 0 11.2 0a5.6 5.6 0 1 0-11.2 0zM1927.9 1329.9a5.6 5.6 0 1 0 11.2 0a5.6 5.6 0 1 0-11.2 0zM1929.2 1347.8a5.6 5.6 0 1 0 11.2 0a5.6 5.6 0 1 0-11.2 0zM1930.4 1337.7a5.6 5.6 0 1 0 11.2 0a5.6 5.6 0 1 0-11.2 0zM1931.9 1345.7a5.6 5.6 0 1 0 11.2 0a5.6 5.6 0 1 0-11.2 0zM1933.2 1352.0a5.6 5.6 0 1 0 11.2 0a5.6 5.6 0 1 0-11.2 0zM1934.4 1359.4a5.6 5.6 0 1 0 11.2 0a5.6 5.6 0 1 0-11.2 0zM1935.9 1359.3a5.6 5.6 0 1 0 11.2 0a5.6 5.6 0 1 0-11.2 0zM1937.2 1368.9a5.6 5.6 0 1 0 11.2 0a5.6 5.6 0 1 0-11.2 0zM1938.4 1370.4a5.6 5.6 0 1 0 11.2 0a5.6 5.6 0 1 0-11.2 0zM1939.7 1377.8a5.6 5.6 0 1 0 11.2 0a5.6 5.6 0 1 0-11.2 0zM1941.4 1388.8a5.6 5.6 0 1 0 11.2 0a5.6 5.6 0 1 0-11.2 0zM1942.9 1385.6a5.6 5.6 0 1 0 11.2 0a5.6 5.6 0 1 0-11.2 0zM1944.4 1389.3a5.6 5.6 0 1 0 11.2 0a5.6 5.6 0 1 0-11.2 0zM1946.2 1392.6a5.6 5.6 0 1 0 11.2 0a5.6 5.6 0 1 0-11.2 0zM1947.7 1402.7a5.6 5.6 0 1 0 11.2 0a5.6 5.6 0 1 0-11.2 0zM1949.2 1404.4a5.6 5.6 0 1 0 11.2 0a5.6 5.6 0 1 0-11.2 0zM1950.9 1407.6a5.6 5.6 0 1 0 11.2 0a5.6 5.6 0 1 0-11.2 0zM1952.4 1413.6a5.6 5.6 0 1 0 11.2 0a5.6 5.6 0 1 0-11.2 0zM1953.9 1415.1a5.6 5.6 0 1 0 11.2 0a5.6 5.6 0 1 0-11.2 0zM1955.7 1419.8a5.6 5.6 0 1 0 11.2 0a5.6 5.6 0 1 0-11.2 0zM1957.4 1429.5a5.6 5.6 0 1 0 11.2 0a5.6 5.6 0 1 0-11.2 0zM1959.2 1435.7a5.6 5.6 0 1 0 11.2 0a5.6 5.6 0 1 0-11.2 0zM1960.9 1436.1a5.6 5.6 0 1 0 11.2 0a5.6 5.6 0 1 0-11.2 0zM1962.7 1439.9a5.6 5.6 0 1 0 11.2 0a5.6 5.6 0 1 0-11.2 0zM1964.4 1445.5a5.6 5.6 0 1 0 11.2 0a5.6 5.6 0 1 0-11.2 0zM1966.2 1450.4a5.6 5.6 0 1 0 11.2 0a5.6 5.6 0 1 0-11.2 0zM1967.9 1456.7a5.6 5.6 0 1 0 11.2 0a5.6 5.6 0 1 0-11.2 0zM1969.9 1461.7a5.6 5.6 0 1 0 11.2 0a5.6 5.6 0 1 0-11.2 0zM1972.2 1464.5a5.6 5.6 0 1 0 11.2 0a5.6 5.6 0 1 0-11.2 0zM1974.4 1470.4a5.6 5.6 0 1 0 11.2 0a5.6 5.6 0 1 0-11.2 0zM1976.7 1475.4a5.6 5.6 0 1 0 11.2 0a5.6 5.6 0 1 0-11.2 0zM1978.9 1479.0a5.6 5.6 0 1 0 11.2 0a5.6 5.6 0 1 0-11.2 0zM1981.4 1482.1a5.6 5.6 0 1 0 11.2 0a5.6 5.6 0 1 0-11.2 0zM1983.7 1486.6a5.6 5.6 0 1 0 11.2 0a5.6 5.6 0 1 0-11.2 0zM1986.7 1491.4a5.6 5.6 0 1 0 11.2 0a5.6 5.6 0 1 0-11.2 0zM1990.4 1494.8a5.6 5.6 0 1 0 11.2 0a5.6 5.6 0 1 0-11.2 0zM1993.9 1497.8a5.6 5.6 0 1 0 11.2 0a5.6 5.6 0 1 0-11.2 0zM1997.7 1501.5a5.6 5.6 0 1 0 11.2 0a5.6 5.6 0 1 0-11.2 0zM2001.9 1503.2a5.6 5.6 0 1 0 11.2 0a5.6 5.6 0 1 0-11.2 0zM2006.9 1504.3a5.6 5.6 0 1 0 11.2 0a5.6 5.6 0 1 0-11.2 0zM2011.9 1505.4a5.6 5.6 0 1 0 11.2 0a5.6 5.6 0 1 0-11.2 0zM2016.7 1506.0a5.6 5.6 0 1 0 11.2 0a5.6 5.6 0 1 0-11.2 0zM2021.7 1507.0a5.6 5.6 0 1 0 11.2 0a5.6 5.6 0 1 0-11.2 0zM2026.7 1507.9a5.6 5.6 0 1 0 11.2 0a5.6 5.6 0 1 0-11.2 0zM2031.4 1508.7a5.6 5.6 0 1 0 11.2 0a5.6 5.6 0 1 0-11.2 0zM2036.4 1509.6a5.6 5.6 0 1 0 11.2 0a5.6 5.6 0 1 0-11.2 0z"/>
<path d="M236.0 1510.5 L440.0 1510.0 L460.0 1505.0 L482.0 1498.0 L509.0 1488.0 L530.0 1470.0 L541.0 1446.0 L546.0 1396.0 L560.0 1382.0" fill="none" stroke="#0070e0" stroke-width="13" stroke-linejoin="round" stroke-linecap="round"/>
<path d="M745.0 1350.0 L745.0 1350.0 L755.0 1403.0 L765.0 1432.0 L778.0 1448.0 L790.0 1450.0 L810.0 1462.0 L850.0 1471.0 L1000.0 1473.0 L1250.0 1471.0 L1515.0 1467.0 L1612.0 1461.0 L1672.0 1449.0 L1700.0 1434.0 L1720.0 1418.0 L1740.0 1402.0 L1762.0 1386.0 L1774.0 1406.0 L1792.0 1362.0 L1821.0 1292.0 L1836.0 1332.0 L1850.0 1262.0 L1871.0 1238.0 L1887.0 1238.0 L1898.0 1197.0 L1905.0 1225.0 L1912.0 1270.0 L1920.0 1308.0 L1930.0 1345.0 L1940.0 1375.0 L1950.0 1405.0 L1960.0 1432.0 L1970.0 1460.0 L1982.0 1484.0 L1995.0 1501.0 L2010.0 1507.0 L2047.0 1510.5" fill="none" stroke="#0070e0" stroke-width="13" stroke-linejoin="round" stroke-linecap="round"/>
<path d="M560.0 1382.0 L566.0 1376.0 L584.0 1342.0 L589.0 1297.0 L596.0 1270.0 L605.0 1238.0 L614.0 1193.0 L628.0 1150.0 L640.0 1049.0 L651.0 969.0 L660.0 909.0 L668.0 879.0 L678.0 871.0 L688.0 879.0 L695.0 939.0 L702.0 1019.0 L707.0 1089.0 L714.0 1148.0 L720.0 1188.0 L725.0 1246.0 L735.0 1305.0 L745.0 1350.0" fill="none" stroke="#0070e0" stroke-width="6" stroke-linejoin="round" stroke-linecap="round"/>
<path d="M440.9 1509.8 L446.9 1508.3 L452.9 1507.0 L458.9 1505.6 L464.9 1503.7 L470.9 1501.7 L476.9 1499.6 L482.9 1497.6 L488.9 1495.2 L494.9 1493.2 L500.9 1491.5 L506.9 1489.3 L512.9 1486.2 L518.9 1479.7 L524.9 1473.8 L530.9 1467.4 L536.9 1455.1 L542.9 1427.4 L543.4 1419.5 L543.9 1417.0 L544.4 1409.8 L544.9 1405.2 L545.4 1401.1 L545.9 1391.0 L548.9 1395.8 L552.4 1391.3 L555.9 1390.1 L559.4 1386.7 L562.9 1370.9 L566.4 1365.7 L568.6 1370.9 L571.1 1363.0 L573.4 1355.0 L575.6 1352.8 L578.1 1345.4 L580.4 1357.0 L582.9 1348.3 L584.4 1335.3 L584.9 1323.7 L585.4 1328.6 L585.9 1331.3 L586.6 1320.9 L587.1 1318.9 L587.6 1316.1 L588.1 1292.3 L588.9 1303.2 L589.6 1294.3 L590.9 1270.5 L592.1 1274.1 L593.4 1276.9 L594.6 1281.0 L595.9 1266.4 L597.1 1250.0 L598.6 1254.3 L599.9 1243.3 L601.1 1250.4 L602.6 1239.5 L603.9 1244.6 L605.1 1231.4 L606.1 1214.1 L607.1 1247.6 L606.5 1000.0 L609.5 1000.0 L608.1 1223.2 L609.1 1213.7 L610.1 1220.8 L611.1 1211.9 L612.1 1190.1 L611.1 806.0 L614.1 806.0 L613.1 1165.8 L614.1 1182.5 L615.6 1182.7 L617.1 1208.7 L618.6 1146.7 L620.1 1172.8 L621.9 1169.3 L623.4 1183.5 L624.9 1160.5 L626.4 1174.4 L627.9 1149.0 L628.6 1136.0 L629.1 1139.7 L629.9 1128.7 L630.4 1146.0 L631.1 1095.8 L631.6 1132.1 L632.1 1151.1 L632.9 1112.5 L633.4 1120.1 L633.9 1121.1 L634.6 1101.4 L635.1 1080.0 L635.6 1125.8 L636.4 1084.1 L636.9 1025.3 L637.4 1046.8 L638.1 1070.0 L638.6 1055.8 L639.4 1058.4 L639.9 1051.6 L640.4 1018.9 L641.1 1044.1 L641.9 1111.3 L642.6 1030.6 L643.1 1060.6 L642.2 466.0 L645.2 466.0 L643.9 995.1 L644.6 1039.4 L645.4 1003.8 L645.9 918.1 L646.6 1043.4 L647.4 1041.6 L647.9 1050.2 L648.6 1070.1 L649.4 1060.3 L650.1 959.6 L650.6 999.1 L651.4 1047.7 L652.1 1026.5 L652.9 928.9 L653.6 986.0 L654.4 962.9 L655.1 926.3 L655.9 874.0 L656.6 841.3 L657.4 878.0 L658.1 914.6 L658.9 907.6 L659.6 824.9 L660.4 838.5 L661.9 917.0 L663.1 874.7 L664.4 878.3 L665.6 885.2 L666.9 908.2 L668.4 945.8 L672.4 902.6 L676.4 951.2 L680.1 810.2 L684.1 848.7 L688.1 941.1 L688.6 814.6 L689.4 846.8 L689.9 989.3 L690.4 809.5 L690.9 864.5 L691.6 811.1 L692.1 973.3 L692.6 893.7 L693.4 905.5 L693.9 920.2 L694.4 926.0 L695.1 892.7 L695.4 1011.4 L695.9 1005.1 L696.4 1017.0 L696.9 985.3 L697.1 990.1 L697.6 953.4 L698.1 963.6 L698.6 979.4 L698.9 1012.1 L699.4 1007.7 L699.9 955.7 L700.4 981.2 L700.6 1001.0 L701.1 1017.4 L701.6 976.5 L702.1 1035.7 L702.4 1008.8 L702.9 1003.9 L703.1 1041.4 L703.4 1019.1 L703.9 1071.6 L704.1 1025.7 L704.6 1051.6 L704.9 1095.4 L705.4 1051.7 L705.6 1089.8 L705.9 1045.6 L706.4 1095.2 L706.6 1087.6 L707.1 1084.3 L707.6 1101.4 L708.1 1093.3 L708.9 1116.2 L709.4 1095.7 L709.9 1113.3 L710.6 1115.6 L711.1 1162.7 L711.6 1106.0 L712.4 1133.9 L712.9 1171.9 L713.4 1141.2 L714.1 1140.5 L714.9 1134.9 L715.6 1178.1 L716.4 1137.2 L717.1 1171.7 L717.9 1136.9 L718.6 1181.4 L719.1 1171.2 L719.9 1193.3 L720.4 1203.3 L720.9 1188.2 L721.4 1195.9 L721.9 1196.1 L722.1 1205.3 L722.6 1223.8 L723.1 1238.8 L723.4 1233.0 L723.9 1238.9 L724.4 1245.7 L724.9 1240.2 L725.4 1245.8 L726.1 1254.9 L726.9 1255.9 L727.9 1264.2 L728.6 1266.0 L729.4 1266.6 L730.4 1271.1 L731.1 1287.0 L731.9 1296.8 L732.9 1283.3 L733.6 1296.3 L734.4 1294.5 L735.4 1316.9 L736.4 1313.3 L737.6 1316.8 L738.6 1329.6 L739.6 1328.8 L740.9 1327.6 L741.9 1330.4 L742.9 1332.4 L744.1 1350.4 L745.1 1357.5 L746.1 1353.7 L746.9 1355.8 L747.9 1364.5 L748.9 1376.1 L749.6 1371.4 L750.6 1376.8 L751.6 1383.2 L752.6 1392.3 L753.4 1393.5 L754.4 1397.2 L755.4 1406.0 L757.1 1414.9 L758.6 1412.6 L760.4 1417.3 L761.9 1423.0 L763.6 1425.9 L765.4 1433.9 L768.6 1436.7 L771.6 1440.5 L774.9 1443.6 L778.1 1446.5 L782.9 1449.1 L787.9 1447.8 L790.0 1448.9 L795.2 1452.6 L800.5 1455.9 L805.5 1458.2 L810.8 1462.3 L816.8 1463.6 L822.5 1465.4 L828.2 1465.9 L834.2 1466.8 L840.0 1468.5 L846.0 1469.9 L851.8 1471.1 L857.8 1471.0 L863.8 1471.9 L869.8 1470.8 L875.8 1471.5 L881.8 1471.9 L887.8 1471.9 L893.8 1472.0 L899.8 1471.3 L905.8 1471.2 L911.8 1472.5 L917.8 1471.5 L923.8 1471.6 L929.8 1472.3 L935.8 1472.8 L941.8 1472.6 L947.8 1472.6 L953.8 1472.2 L959.8 1472.6 L965.8 1473.5 L971.8 1472.5 L977.8 1473.4 L983.8 1472.4 L989.8 1473.4 L995.8 1473.3 L1001.8 1473.4 L1007.8 1473.2 L1013.8 1472.3 L1019.8 1472.5 L1025.8 1472.5 L1031.8 1472.6 L1037.8 1473.4 L1043.8 1472.9 L1049.8 1472.9 L1055.8 1473.0 L1061.8 1472.3 L1067.8 1472.8 L1073.8 1472.7 L1079.8 1472.8 L1085.8 1473.2 L1091.8 1472.0 L1097.8 1471.6 L1103.8 1472.1 L1109.8 1472.6 L1115.8 1473.0 L1121.8 1471.9 L1127.8 1471.4 L1133.8 1471.8 L1139.8 1471.4 L1145.8 1471.1 L1151.8 1471.3 L1157.8 1471.9 L1163.8 1471.2 L1169.8 1471.3 L1175.8 1472.3 L1181.8 1471.7 L1187.8 1472.2 L1193.8 1471.5 L1199.8 1471.1 L1205.8 1471.9 L1211.8 1472.3 L1217.8 1470.6 L1223.8 1471.0 L1229.8 1470.5 L1235.8 1471.7 L1241.8 1470.6 L1247.8 1470.1 L1253.8 1470.0 L1259.8 1471.0 L1265.8 1470.6 L1271.8 1470.7 L1277.8 1470.1 L1283.8 1470.0 L1289.8 1470.4 L1295.8 1471.0 L1301.8 1469.9 L1307.8 1470.4 L1313.8 1469.7 L1319.8 1469.8 L1325.8 1469.1 L1331.8 1469.2 L1337.8 1469.9 L1343.8 1469.4 L1349.8 1468.6 L1355.8 1469.7 L1361.8 1469.1 L1367.8 1468.6 L1373.8 1468.5 L1379.8 1468.8 L1385.8 1469.6 L1391.8 1469.5 L1397.8 1468.6 L1403.8 1468.5 L1409.8 1467.6 L1415.8 1468.9 L1421.8 1467.8 L1427.8 1467.9 L1433.8 1469.1 L1439.8 1468.6 L1445.8 1468.0 L1451.8 1468.2 L1457.8 1467.9 L1463.8 1467.5 L1469.8 1468.1 L1475.8 1467.3 L1481.8 1467.8 L1487.8 1467.7 L1493.8 1467.0 L1499.8 1467.5 L1505.8 1467.0 L1511.8 1466.1 L1517.8 1466.8 L1523.8 1466.6 L1529.8 1465.6 L1535.8 1466.0 L1541.8 1464.6 L1547.8 1465.9 L1553.8 1464.1 L1558.8 1464.7 L1563.8 1464.7 L1568.8 1462.2 L1573.8 1464.1 L1578.8 1461.4 L1583.5 1462.1 L1588.5 1461.0 L1593.5 1463.1 L1598.5 1460.6 L1603.5 1460.0 L1608.5 1461.3 L1613.5 1460.8 L1618.5 1457.4 L1623.2 1458.5 L1628.2 1458.3 L1633.2 1457.6 L1638.0 1455.2 L1643.0 1454.3 L1647.8 1453.6 L1652.8 1450.3 L1657.8 1452.4 L1662.5 1450.1 L1667.5 1447.5 L1672.2 1450.6 L1676.8 1444.6 L1681.2 1440.6 L1685.5 1444.5 L1690.0 1441.6 L1694.5 1439.2 L1698.8 1438.9 L1702.8 1430.7 L1706.8 1433.2 L1710.8 1424.1 L1714.5 1418.5 L1718.5 1423.6 L1722.2 1417.1 L1726.2 1418.6 L1730.2 1407.4 L1734.0 1409.1 L1738.0 1404.5 L1742.0 1400.4 L1746.0 1395.8 L1750.0 1395.9 L1754.0 1391.8 L1758.2 1390.7 L1762.2 1386.0 L1764.8 1394.8 L1767.2 1394.5 L1769.8 1405.4 L1772.5 1405.1 L1774.8 1398.0 L1776.8 1399.0 L1778.5 1399.4 L1780.5 1389.2 L1782.2 1389.5 L1784.2 1387.4 L1786.2 1379.0 L1788.0 1368.7 L1790.0 1365.2 L1791.8 1363.0 L1793.8 1362.0 L1795.8 1358.1 L1797.5 1342.2 L1799.5 1342.7 L1801.5 1344.0 L1803.2 1345.4 L1805.2 1337.5 L1807.2 1314.0 L1809.0 1327.5 L1811.0 1316.6 L1812.8 1310.7 L1814.8 1308.1 L1816.8 1304.0 L1818.5 1306.8 L1820.5 1300.1 L1822.2 1284.4 L1824.0 1304.8 L1825.8 1299.4 L1827.5 1319.6 L1829.2 1315.6 L1831.0 1317.2 L1832.8 1317.5 L1834.5 1334.2 L1836.2 1327.5 L1837.2 1323.6 L1838.2 1325.0 L1839.2 1313.0 L1840.2 1316.1 L1841.2 1310.7 L1842.2 1300.9 L1843.2 1308.7 L1844.0 1292.7 L1845.0 1293.7 L1846.0 1292.0 L1847.0 1280.0 L1848.0 1266.5 L1849.0 1270.0 L1850.0 1252.5 L1853.0 1267.4 L1856.2 1264.9 L1859.5 1239.1 L1862.8 1244.3 L1866.2 1235.8 L1869.5 1246.4 L1873.5 1231.4 L1878.5 1235.9 L1883.5 1232.7 L1887.5 1235.9 L1888.8 1221.4 L1890.0 1232.4 L1891.5 1229.6 L1892.8 1229.6 L1894.0 1201.5 L1895.2 1214.0 L1896.5 1212.2 L1897.8 1206.8 L1899.0 1205.1 L1900.2 1217.6 L1901.5 1213.6 L1902.8 1221.6 L1904.0 1225.8 L1905.2 1234.8 L1906.0 1231.1 L1906.8 1240.0 L1907.5 1240.1 L1908.2 1243.9 L1909.0 1248.1 L1909.8 1270.9 L1910.5 1264.4 L1911.2 1271.0 L1912.0 1264.4 L1913.0 1285.9 L1914.0 1284.5 L1915.2 1287.4 L1916.2 1292.4 L1917.2 1288.5 L1918.2 1302.5 L1919.2 1298.5 L1920.2 1317.8 L1921.5 1324.3 L1923.0 1312.1 L1924.2 1321.3 L1925.5 1325.7 L1926.8 1332.3 L1928.2 1336.0 L1929.5 1349.3 L1931.0 1343.4 L1932.5 1355.0 L1934.0 1352.4 L1935.8 1361.9 L1937.2 1375.3 L1938.8 1376.6 L1940.5 1371.9 L1942.0 1381.5 L1943.5 1387.0 L1945.0 1389.1 L1946.8 1396.7 L1948.2 1401.6 L1949.8 1403.9 L1951.5 1408.6 L1953.2 1409.4 L1955.0 1418.4 L1956.8 1418.3 L1958.5 1423.5 L1960.2 1430.0 L1962.0 1436.0 L1963.5 1441.6 L1965.2 1446.5 L1967.0 1451.8 L1968.8 1457.3 L1970.5 1461.1 L1972.8 1466.1 L1975.0 1468.7 L1977.0 1473.6 L1979.2 1478.8 L1981.5 1484.1 L1984.5 1487.3 L1987.5 1491.4 L1990.5 1495.5 L1993.5 1499.3 L1997.2 1502.3 L2002.0 1503.7 L2006.8 1505.7 L2011.5 1507.0 L2016.2 1507.6 L2021.2 1508.1 L2026.2 1508.5 L2031.2 1509.0 L2036.2 1509.5 L2041.2 1510.0" fill="none" stroke="#00ff00" stroke-width="2.8" stroke-linejoin="round"/>
<path fill="#0070e0" d="M440.9 1501.4l7.5 13h-15zM446.9 1499.9l7.5 13h-15zM452.9 1498.6l7.5 13h-15zM458.9 1497.2l7.5 13h-15zM464.9 1495.3l7.5 13h-15zM470.9 1493.3l7.5 13h-15zM476.9 1491.2l7.5 13h-15zM482.9 1489.2l7.5 13h-15zM488.9 1486.8l7.5 13h-15zM494.9 1484.8l7.5 13h-15zM500.9 1483.1l7.5 13h-15zM506.9 1480.9l7.5 13h-15zM512.9 1477.8l7.5 13h-15zM518.9 1471.3l7.5 13h-15zM524.9 1465.4l7.5 13h-15zM530.9 1459.0l7.5 13h-15zM536.9 1446.7l7.5 13h-15zM542.9 1419.0l7.5 13h-15zM543.4 1411.1l7.5 13h-15zM543.9 1408.6l7.5 13h-15zM544.4 1401.4l7.5 13h-15zM544.9 1396.8l7.5 13h-15zM545.4 1392.7l7.5 13h-15zM545.9 1382.6l7.5 13h-15zM548.9 1387.4l7.5 13h-15zM552.4 1382.9l7.5 13h-15zM555.9 1381.7l7.5 13h-15zM559.4 1378.3l7.5 13h-15zM562.9 1362.5l7.5 13h-15zM566.4 1357.3l7.5 13h-15zM568.6 1362.5l7.5 13h-15zM571.1 1354.6l7.5 13h-15zM573.4 1346.6l7.5 13h-15zM575.6 1344.4l7.5 13h-15zM578.1 1337.0l7.5 13h-15zM580.4 1348.6l7.5 13h-15zM582.9 1339.9l7.5 13h-15zM584.4 1326.9l7.5 13h-15zM584.9 1315.3l7.5 13h-15zM585.4 1320.2l7.5 13h-15zM585.9 1322.9l7.5 13h-15zM586.6 1312.5l7.5 13h-15zM587.1 1310.5l7.5 13h-15zM587.6 1307.7l7.5 13h-15zM588.1 1283.9l7.5 13h-15zM588.9 1294.8l7.5 13h-15zM589.6 1285.9l7.5 13h-15zM590.9 1262.1l7.5 13h-15zM592.1 1265.7l7.5 13h-15zM593.4 1268.5l7.5 13h-15zM594.6 1272.6l7.5 13h-15zM595.9 1258.0l7.5 13h-15zM597.1 1241.6l7.5 13h-15zM598.6 1245.9l7.5 13h-15zM599.9 1234.9l7.5 13h-15zM601.1 1242.0l7.5 13h-15zM602.6 1231.1l7.5 13h-15zM603.9 1236.2l7.5 13h-15zM605.1 1223.0l7.5 13h-15zM606.1 1205.7l7.5 13h-15zM607.1 1239.2l7.5 13h-15zM606.5 991.6l7.5 13h-15zM609.5 991.6l7.5 13h-15zM608.1 1214.8l7.5 13h-15zM609.1 1205.3l7.5 13h-15zM610.1 1212.4l7.5 13h-15zM611.1 1203.5l7.5 13h-15zM612.1 1181.7l7.5 13h-15zM611.1 797.6l7.5 13h-15zM614.1 797.6l7.5 13h-15zM613.1 1157.4l7.5 13h-15zM614.1 1174.1l7.5 13h-15zM615.6 1174.3l7.5 13h-15zM617.1 1200.3l7.5 13h-15zM618.6 1138.3l7.5 13h-15zM620.1 1164.4l7.5 13h-15zM621.9 1160.9l7.5 13h-15zM623.4 1175.1l7.5 13h-15zM624.9 1152.1l7.5 13h-15zM626.4 1166.0l7.5 13h-15zM627.9 1140.6l7.5 13h-15zM628.6 1127.6l7.5 13h-15zM629.1 1131.3l7.5 13h-15zM629.9 1120.3l7.5 13h-15zM630.4 1137.6l7.5 13h-15zM631.1 1087.4l7.5 13h-15zM631.6 1123.7l7.5 13h-15zM632.1 1142.7l7.5 13h-15zM632.9 1104.1l7.5 13h-15zM633.4 1111.7l7.5 13h-15zM633.9 1112.7l7.5 13h-15zM634.6 1093.0l7.5 13h-15zM635.1 1071.6l7.5 13h-15zM635.6 1117.4l7.5 13h-15zM636.4 1075.7l7.5 13h-15zM636.9 1016.9l7.5 13h-15zM637.4 1038.4l7.5 13h-15zM638.1 1061.6l7.5 13h-15zM638.6 1047.4l7.5 13h-15zM639.4 1050.0l7.5 13h-15zM639.9 1043.2l7.5 13h-15zM640.4 1010.5l7.5 13h-15zM641.1 1035.7l7.5 13h-15zM641.9 1102.9l7.5 13h-15zM642.6 1022.2l7.5 13h-15zM643.1 1052.2l7.5 13h-15zM642.2 457.6l7.5 13h-15zM645.2 457.6l7.5 13h-15zM643.9 986.7l7.5 13h-15zM644.6 1031.0l7.5 13h-15zM645.4 995.4l7.5 13h-15zM645.9 909.7l7.5 13h-15zM646.6 1035.0l7.5 13h-15zM647.4 1033.2l7.5 13h-15zM647.9 1041.8l7.5 13h-15zM648.6 1061.7l7.5 13h-15zM649.4 1051.9l7.5 13h-15zM650.1 951.2l7.5 13h-15zM650.6 990.7l7.5 13h-15zM651.4 1039.3l7.5 13h-15zM652.1 1018.1l7.5 13h-15zM652.9 920.5l7.5 13h-15zM653.6 977.6l7.5 13h-15zM654.4 954.5l7.5 13h-15zM655.1 917.9l7.5 13h-15zM655.9 865.6l7.5 13h-15zM656.6 832.9l7.5 13h-15zM657.4 869.6l7.5 13h-15zM658.1 906.2l7.5 13h-15zM658.9 899.2l7.5 13h-15zM659.6 816.5l7.5 13h-15zM660.4 830.1l7.5 13h-15zM661.9 908.6l7.5 13h-15zM663.1 866.3l7.5 13h-15zM664.4 869.9l7.5 13h-15zM665.6 876.8l7.5 13h-15zM666.9 899.8l7.5 13h-15zM668.4 937.4l7.5 13h-15zM672.4 894.2l7.5 13h-15zM676.4 942.8l7.5 13h-15zM680.1 801.8l7.5 13h-15zM684.1 840.3l7.5 13h-15zM688.1 932.7l7.5 13h-15zM688.6 806.2l7.5 13h-15zM689.4 838.4l7.5 13h-15zM689.9 980.9l7.5 13h-15zM690.4 801.1l7.5 13h-15zM690.9 856.1l7.5 13h-15zM691.6 802.7l7.5 13h-15zM692.1 964.9l7.5 13h-15zM692.6 885.3l7.5 13h-15zM693.4 897.1l7.5 13h-15zM693.9 911.8l7.5 13h-15zM694.4 917.6l7.5 13h-15zM695.1 884.3l7.5 13h-15zM695.4 1003.0l7.5 13h-15zM695.9 996.7l7.5 13h-15zM696.4 1008.6l7.5 13h-15zM696.9 976.9l7.5 13h-15zM697.1 981.7l7.5 13h-15zM697.6 945.0l7.5 13h-15zM698.1 955.2l7.5 13h-15zM698.6 971.0l7.5 13h-15zM698.9 1003.7l7.5 13h-15zM699.4 999.3l7.5 13h-15zM699.9 947.3l7.5 13h-15zM700.4 972.8l7.5 13h-15zM700.6 992.6l7.5 13h-15zM701.1 1009.0l7.5 13h-15zM701.6 968.1l7.5 13h-15zM702.1 1027.3l7.5 13h-15zM702.4 1000.4l7.5 13h-15zM702.9 995.5l7.5 13h-15zM703.1 1033.0l7.5 13h-15zM703.4 1010.7l7.5 13h-15zM703.9 1063.2l7.5 13h-15zM704.1 1017.3l7.5 13h-15zM704.6 1043.2l7.5 13h-15zM704.9 1087.0l7.5 13h-15zM705.4 1043.3l7.5 13h-15zM705.6 1081.4l7.5 13h-15zM705.9 1037.2l7.5 13h-15zM706.4 1086.8l7.5 13h-15zM706.6 1079.2l7.5 13h-15zM707.1 1075.9l7.5 13h-15zM707.6 1093.0l7.5 13h-15zM708.1 1084.9l7.5 13h-15zM708.9 1107.8l7.5 13h-15zM709.4 1087.3l7.5 13h-15zM709.9 1104.9l7.5 13h-15zM710.6 1107.2l7.5 13h-15zM711.1 1154.3l7.5 13h-15zM711.6 1097.6l7.5 13h-15zM712.4 1125.5l7.5 13h-15zM712.9 1163.5l7.5 13h-15zM713.4 1132.8l7.5 13h-15zM714.1 1132.1l7.5 13h-15zM714.9 1126.5l7.5 13h-15zM715.6 1169.7l7.5 13h-15zM716.4 1128.8l7.5 13h-15zM717.1 1163.3l7.5 13h-15zM717.9 1128.5l7.5 13h-15zM718.6 1173.0l7.5 13h-15zM719.1 1162.8l7.5 13h-15zM719.9 1184.9l7.5 13h-15zM720.4 1194.9l7.5 13h-15zM720.9 1179.8l7.5 13h-15zM721.4 1187.5l7.5 13h-15zM721.9 1187.7l7.5 13h-15zM722.1 1196.9l7.5 13h-15zM722.6 1215.4l7.5 13h-15zM723.1 1230.4l7.5 13h-15zM723.4 1224.6l7.5 13h-15zM723.9 1230.5l7.5 13h-15zM724.4 1237.3l7.5 13h-15zM724.9 1231.8l7.5 13h-15zM725.4 1237.4l7.5 13h-15zM726.1 1246.5l7.5 13h-15zM726.9 1247.5l7.5 13h-15zM727.9 1255.8l7.5 13h-15zM728.6 1257.6l7.5 13h-15zM729.4 1258.2l7.5 13h-15zM730.4 1262.7l7.5 13h-15zM731.1 1278.6l7.5 13h-15zM731.9 1288.4l7.5 13h-15zM732.9 1274.9l7.5 13h-15zM733.6 1287.9l7.5 13h-15zM734.4 1286.1l7.5 13h-15zM735.4 1308.5l7.5 13h-15zM736.4 1304.9l7.5 13h-15zM737.6 1308.4l7.5 13h-15zM738.6 1321.2l7.5 13h-15zM739.6 1320.4l7.5 13h-15zM740.9 1319.2l7.5 13h-15zM741.9 1322.0l7.5 13h-15zM742.9 1324.0l7.5 13h-15zM744.1 1342.0l7.5 13h-15zM745.1 1349.1l7.5 13h-15zM746.1 1345.3l7.5 13h-15zM746.9 1347.4l7.5 13h-15zM747.9 1356.1l7.5 13h-15zM748.9 1367.7l7.5 13h-15zM749.6 1363.0l7.5 13h-15zM750.6 1368.4l7.5 13h-15zM751.6 1374.8l7.5 13h-15zM752.6 1383.9l7.5 13h-15zM753.4 1385.1l7.5 13h-15zM754.4 1388.8l7.5 13h-15zM755.4 1397.6l7.5 13h-15zM757.1 1406.5l7.5 13h-15zM758.6 1404.2l7.5 13h-15zM760.4 1408.9l7.5 13h-15zM761.9 1414.6l7.5 13h-15zM763.6 1417.5l7.5 13h-15zM765.4 1425.5l7.5 13h-15zM768.6 1428.3l7.5 13h-15zM771.6 1432.1l7.5 13h-15zM774.9 1435.2l7.5 13h-15zM778.1 1438.1l7.5 13h-15zM782.9 1440.7l7.5 13h-15zM787.9 1439.4l7.5 13h-15zM790.0 1440.5l7.5 13h-15zM795.2 1444.2l7.5 13h-15zM800.5 1447.5l7.5 13h-15zM805.5 1449.8l7.5 13h-15zM810.8 1453.9l7.5 13h-15zM816.8 1455.2l7.5 13h-15zM822.5 1457.0l7.5 13h-15zM828.2 1457.5l7.5 13h-15zM834.2 1458.4l7.5 13h-15zM840.0 1460.1l7.5 13h-15zM846.0 1461.5l7.5 13h-15zM851.8 1462.7l7.5 13h-15zM857.8 1462.6l7.5 13h-15zM863.8 1463.5l7.5 13h-15zM869.8 1462.4l7.5 13h-15zM875.8 1463.1l7.5 13h-15zM881.8 1463.5l7.5 13h-15zM887.8 1463.5l7.5 13h-15zM893.8 1463.6l7.5 13h-15zM899.8 1462.9l7.5 13h-15zM905.8 1462.8l7.5 13h-15zM911.8 1464.1l7.5 13h-15zM917.8 1463.1l7.5 13h-15zM923.8 1463.2l7.5 13h-15zM929.8 1463.9l7.5 13h-15zM935.8 1464.4l7.5 13h-15zM941.8 1464.2l7.5 13h-15zM947.8 1464.2l7.5 13h-15zM953.8 1463.8l7.5 13h-15zM959.8 1464.2l7.5 13h-15zM965.8 1465.1l7.5 13h-15zM971.8 1464.1l7.5 13h-15zM977.8 1465.0l7.5 13h-15zM983.8 1464.0l7.5 13h-15zM989.8 1465.0l7.5 13h-15zM995.8 1464.9l7.5 13h-15zM1001.8 1465.0l7.5 13h-15zM1007.8 1464.8l7.5 13h-15zM1013.8 1463.9l7.5 13h-15zM1019.8 1464.1l7.5 13h-15zM1025.8 1464.1l7.5 13h-15zM1031.8 1464.2l7.5 13h-15zM1037.8 1465.0l7.5 13h-15zM1043.8 1464.5l7.5 13h-15zM1049.8 1464.5l7.5 13h-15zM1055.8 1464.6l7.5 13h-15zM1061.8 1463.9l7.5 13h-15zM1067.8 1464.4l7.5 13h-15zM1073.8 1464.3l7.5 13h-15zM1079.8 1464.4l7.5 13h-15zM1085.8 1464.8l7.5 13h-15zM1091.8 1463.6l7.5 13h-15zM1097.8 1463.2l7.5 13h-15zM1103.8 1463.7l7.5 13h-15zM1109.8 1464.2l7.5 13h-15zM1115.8 1464.6l7.5 13h-15zM1121.8 1463.5l7.5 13h-15zM1127.8 1463.0l7.5 13h-15zM1133.8 1463.4l7.5 13h-15zM1139.8 1463.0l7.5 13h-15zM1145.8 1462.7l7.5 13h-15zM1151.8 1462.9l7.5 13h-15zM1157.8 1463.5l7.5 13h-15zM1163.8 1462.8l7.5 13h-15zM1169.8 1462.9l7.5 13h-15zM1175.8 1463.9l7.5 13h-15zM1181.8 1463.3l7.5 13h-15zM1187.8 1463.8l7.5 13h-15zM1193.8 1463.1l7.5 13h-15zM1199.8 1462.7l7.5 13h-15zM1205.8 1463.5l7.5 13h-15zM1211.8 1463.9l7.5 13h-15zM1217.8 1462.2l7.5 13h-15zM1223.8 1462.6l7.5 13h-15zM1229.8 1462.1l7.5 13h-15zM1235.8 1463.3l7.5 13h-15zM1241.8 1462.2l7.5 13h-15zM1247.8 1461.7l7.5 13h-15zM1253.8 1461.6l7.5 13h-15zM1259.8 1462.6l7.5 13h-15zM1265.8 1462.2l7.5 13h-15zM1271.8 1462.3l7.5 13h-15zM1277.8 1461.7l7.5 13h-15zM1283.8 1461.6l7.5 13h-15zM1289.8 1462.0l7.5 13h-15zM1295.8 1462.6l7.5 13h-15zM1301.8 1461.5l7.5 13h-15zM1307.8 1462.0l7.5 13h-15zM1313.8 1461.3l7.5 13h-15zM1319.8 1461.4l7.5 13h-15zM1325.8 1460.7l7.5 13h-15zM1331.8 1460.8l7.5 13h-15zM1337.8 1461.5l7.5 13h-15zM1343.8 1461.0l7.5 13h-15zM1349.8 1460.2l7.5 13h-15zM1355.8 1461.3l7.5 13h-15zM1361.8 1460.7l7.5 13h-15zM1367.8 1460.2l7.5 13h-15zM1373.8 1460.1l7.5 13h-15zM1379.8 1460.4l7.5 13h-15zM1385.8 1461.2l7.5 13h-15zM1391.8 1461.1l7.5 13h-15zM1397.8 1460.2l7.5 13h-15zM1403.8 1460.1l7.5 13h-15zM1409.8 1459.2l7.5 13h-15zM1415.8 1460.5l7.5 13h-15zM1421.8 1459.4l7.5 13h-15zM1427.8 1459.5l7.5 13h-15zM1433.8 1460.7l7.5 13h-15zM1439.8 1460.2l7.5 13h-15zM1445.8 1459.6l7.5 13h-15zM1451.8 1459.8l7.5 13h-15zM1457.8 1459.5l7.5 13h-15zM1463.8 1459.1l7.5 13h-15zM1469.8 1459.7l7.5 13h-15zM1475.8 1458.9l7.5 13h-15zM1481.8 1459.4l7.5 13h-15zM1487.8 1459.3l7.5 13h-15zM1493.8 1458.6l7.5 13h-15zM1499.8 1459.1l7.5 13h-15zM1505.8 1458.6l7.5 13h-15zM1511.8 1457.7l7.5 13h-15zM1517.8 1458.4l7.5 13h-15zM1523.8 1458.2l7.5 13h-15zM1529.8 1457.2l7.5 13h-15zM1535.8 1457.6l7.5 13h-15zM1541.8 1456.2l7.5 13h-15zM1547.8 1457.5l7.5 13h-15zM1553.8 1455.7l7.5 13h-15zM1558.8 1456.3l7.5 13h-15zM1563.8 1456.3l7.5 13h-15zM1568.8 1453.8l7.5 13h-15zM1573.8 1455.7l7.5 13h-15zM1578.8 1453.0l7.5 13h-15zM1583.5 1453.7l7.5 13h-15zM1588.5 1452.6l7.5 13h-15zM1593.5 1454.7l7.5 13h-15zM1598.5 1452.2l7.5 13h-15zM1603.5 1451.6l7.5 13h-15zM1608.5 1452.9l7.5 13h-15zM1613.5 1452.4l7.5 13h-15zM1618.5 1449.0l7.5 13h-15zM1623.2 1450.1l7.5 13h-15zM1628.2 1449.9l7.5 13h-15zM1633.2 1449.2l7.5 13h-15zM1638.0 1446.8l7.5 13h-15zM1643.0 1445.9l7.5 13h-15zM1647.8 1445.2l7.5 13h-15zM1652.8 1441.9l7.5 13h-15zM1657.8 1444.0l7.5 13h-15zM1662.5 1441.7l7.5 13h-15zM1667.5 1439.1l7.5 13h-15zM1672.2 1442.2l7.5 13h-15zM1676.8 1436.2l7.5 13h-15zM1681.2 1432.2l7.5 13h-15zM1685.5 1436.1l7.5 13h-15zM1690.0 1433.2l7.5 13h-15zM1694.5 1430.8l7.5 13h-15zM1698.8 1430.5l7.5 13h-15zM1702.8 1422.3l7.5 13h-15zM1706.8 1424.8l7.5 13h-15zM1710.8 1415.7l7.5 13h-15zM1714.5 1410.1l7.5 13h-15zM1718.5 1415.2l7.5 13h-15zM1722.2 1408.7l7.5 13h-15zM1726.2 1410.2l7.5 13h-15zM1730.2 1399.0l7.5 13h-15zM1734.0 1400.7l7.5 13h-15zM1738.0 1396.1l7.5 13h-15zM1742.0 1392.0l7.5 13h-15zM1746.0 1387.4l7.5 13h-15zM1750.0 1387.5l7.5 13h-15zM1754.0 1383.4l7.5 13h-15zM1758.2 1382.3l7.5 13h-15zM1762.2 1377.6l7.5 13h-15zM1764.8 1386.4l7.5 13h-15zM1767.2 1386.1l7.5 13h-15zM1769.8 1397.0l7.5 13h-15zM1772.5 1396.7l7.5 13h-15zM1774.8 1389.6l7.5 13h-15zM1776.8 1390.6l7.5 13h-15zM1778.5 1391.0l7.5 13h-15zM1780.5 1380.8l7.5 13h-15zM1782.2 1381.1l7.5 13h-15zM1784.2 1379.0l7.5 13h-15zM1786.2 1370.6l7.5 13h-15zM1788.0 1360.3l7.5 13h-15zM1790.0 1356.8l7.5 13h-15zM1791.8 1354.6l7.5 13h-15zM1793.8 1353.6l7.5 13h-15zM1795.8 1349.7l7.5 13h-15zM1797.5 1333.8l7.5 13h-15zM1799.5 1334.3l7.5 13h-15zM1801.5 1335.6l7.5 13h-15zM1803.2 1337.0l7.5 13h-15zM1805.2 1329.1l7.5 13h-15zM1807.2 1305.6l7.5 13h-15zM1809.0 1319.1l7.5 13h-15zM1811.0 1308.2l7.5 13h-15zM1812.8 1302.3l7.5 13h-15zM1814.8 1299.7l7.5 13h-15zM1816.8 1295.6l7.5 13h-15zM1818.5 1298.4l7.5 13h-15zM1820.5 1291.7l7.5 13h-15zM1822.2 1276.0l7.5 13h-15zM1824.0 1296.4l7.5 13h-15zM1825.8 1291.0l7.5 13h-15zM1827.5 1311.2l7.5 13h-15zM1829.2 1307.2l7.5 13h-15zM1831.0 1308.8l7.5 13h-15zM1832.8 1309.1l7.5 13h-15zM1834.5 1325.8l7.5 13h-15zM1836.2 1319.1l7.5 13h-15zM1837.2 1315.2l7.5 13h-15zM1838.2 1316.6l7.5 13h-15zM1839.2 1304.6l7.5 13h-15zM1840.2 1307.7l7.5 13h-15zM1841.2 1302.3l7.5 13h-15zM1842.2 1292.5l7.5 13h-15zM1843.2 1300.3l7.5 13h-15zM1844.0 1284.3l7.5 13h-15zM1845.0 1285.3l7.5 13h-15zM1846.0 1283.6l7.5 13h-15zM1847.0 1271.6l7.5 13h-15zM1848.0 1258.1l7.5 13h-15zM1849.0 1261.6l7.5 13h-15zM1850.0 1244.1l7.5 13h-15zM1853.0 1259.0l7.5 13h-15zM1856.2 1256.5l7.5 13h-15zM1859.5 1230.7l7.5 13h-15zM1862.8 1235.9l7.5 13h-15zM1866.2 1227.4l7.5 13h-15zM1869.5 1238.0l7.5 13h-15zM1873.5 1223.0l7.5 13h-15zM1878.5 1227.5l7.5 13h-15zM1883.5 1224.3l7.5 13h-15zM1887.5 1227.5l7.5 13h-15zM1888.8 1213.0l7.5 13h-15zM1890.0 1224.0l7.5 13h-15zM1891.5 1221.2l7.5 13h-15zM1892.8 1221.2l7.5 13h-15zM1894.0 1193.1l7.5 13h-15zM1895.2 1205.6l7.5 13h-15zM1896.5 1203.8l7.5 13h-15zM1897.8 1198.4l7.5 13h-15zM1899.0 1196.7l7.5 13h-15zM1900.2 1209.2l7.5 13h-15zM1901.5 1205.2l7.5 13h-15zM1902.8 1213.2l7.5 13h-15zM1904.0 1217.4l7.5 13h-15zM1905.2 1226.4l7.5 13h-15zM1906.0 1222.7l7.5 13h-15zM1906.8 1231.6l7.5 13h-15zM1907.5 1231.7l7.5 13h-15zM1908.2 1235.5l7.5 13h-15zM1909.0 1239.7l7.5 13h-15zM1909.8 1262.5l7.5 13h-15zM1910.5 1256.0l7.5 13h-15zM1911.2 1262.6l7.5 13h-15zM1912.0 1256.0l7.5 13h-15zM1913.0 1277.5l7.5 13h-15zM1914.0 1276.1l7.5 13h-15zM1915.2 1279.0l7.5 13h-15zM1916.2 1284.0l7.5 13h-15zM1917.2 1280.1l7.5 13h-15zM1918.2 1294.1l7.5 13h-15zM1919.2 1290.1l7.5 13h-15zM1920.2 1309.4l7.5 13h-15zM1921.5 1315.9l7.5 13h-15zM1923.0 1303.7l7.5 13h-15zM1924.2 1312.9l7.5 13h-15zM1925.5 1317.3l7.5 13h-15zM1926.8 1323.9l7.5 13h-15zM1928.2 1327.6l7.5 13h-15zM1929.5 1340.9l7.5 13h-15zM1931.0 1335.0l7.5 13h-15zM1932.5 1346.6l7.5 13h-15zM1934.0 1344.0l7.5 13h-15zM1935.8 1353.5l7.5 13h-15zM1937.2 1366.9l7.5 13h-15zM1938.8 1368.2l7.5 13h-15zM1940.5 1363.5l7.5 13h-15zM1942.0 1373.1l7.5 13h-15zM1943.5 1378.6l7.5 13h-15zM1945.0 1380.7l7.5 13h-15zM1946.8 1388.3l7.5 13h-15zM1948.2 1393.2l7.5 13h-15zM1949.8 1395.5l7.5 13h-15zM1951.5 1400.2l7.5 13h-15zM1953.2 1401.0l7.5 13h-15zM1955.0 1410.0l7.5 13h-15zM1956.8 1409.9l7.5 13h-15zM1958.5 1415.1l7.5 13h-15zM1960.2 1421.6l7.5 13h-15zM1962.0 1427.6l7.5 13h-15zM1963.5 1433.2l7.5 13h-15zM1965.2 1438.1l7.5 13h-15zM1967.0 1443.4l7.5 13h-15zM1968.8 1448.9l7.5 13h-15zM1970.5 1452.7l7.5 13h-15zM1972.8 1457.7l7.5 13h-15zM1975.0 1460.3l7.5 13h-15zM1977.0 1465.2l7.5 13h-15zM1979.2 1470.4l7.5 13h-15zM1981.5 1475.7l7.5 13h-15zM1984.5 1478.9l7.5 13h-15zM1987.5 1483.0l7.5 13h-15zM1990.5 1487.1l7.5 13h-15zM1993.5 1490.9l7.5 13h-15zM1997.2 1493.9l7.5 13h-15zM2002.0 1495.3l7.5 13h-15zM2006.8 1497.3l7.5 13h-15zM2011.5 1498.6l7.5 13h-15zM2016.2 1499.2l7.5 13h-15zM2021.2 1499.7l7.5 13h-15zM2026.2 1500.1l7.5 13h-15zM2031.2 1500.6l7.5 13h-15zM2036.2 1501.1l7.5 13h-15zM2041.2 1501.6l7.5 13h-15z"/>
<path d="M236.0 1510.5 L440.0 1510.0 L460.0 1504.0 L482.0 1496.0 L509.0 1485.0 L530.0 1466.0 L541.0 1440.0 L546.0 1390.0 L560.0 1376.0" fill="none" stroke="#00ae65" stroke-width="18" stroke-linejoin="round" stroke-linecap="round"/>
<path d="M745.0 1345.0 L745.0 1345.0 L755.0 1400.0 L765.0 1428.0 L778.0 1447.0 L795.0 1460.0 L850.0 1469.0 L1000.0 1471.0 L1250.0 1470.0 L1515.0 1464.0 L1612.0 1456.0 L1672.0 1440.0 L1700.0 1422.0 L1720.0 1405.0 L1740.0 1390.0 L1762.0 1372.0 L1774.0 1394.0 L1792.0 1347.0 L1821.0 1277.0 L1836.0 1320.0 L1850.0 1280.0 L1860.0 1265.0 L1875.0 1250.0 L1890.0 1240.0 L1898.0 1215.0 L1905.0 1240.0 L1912.0 1275.0 L1920.0 1310.0 L1930.0 1345.0 L1940.0 1375.0 L1950.0 1405.0 L1960.0 1432.0 L1970.0 1460.0 L1982.0 1484.0 L1995.0 1501.0 L2010.0 1507.0 L2047.0 1510.5" fill="none" stroke="#00ae65" stroke-width="18" stroke-linejoin="round" stroke-linecap="round"/>
<path d="M560.0 1376.0 L566.0 1370.0 L584.0 1335.0 L589.0 1290.0 L596.0 1262.0 L605.0 1230.0 L614.0 1185.0 L628.0 1140.0 L640.0 1040.0 L651.0 960.0 L660.0 900.0 L668.0 870.0 L678.0 862.0 L688.0 870.0 L695.0 930.0 L702.0 1010.0 L707.0 1080.0 L714.0 1140.0 L720.0 1180.0 L725.0 1240.0 L735.0 1300.0 L745.0 1345.0" fill="none" stroke="#00ae65" stroke-width="6" stroke-linejoin="round" stroke-linecap="round"/>
<path d="M440.1 1509.6 L446.1 1507.9 L452.1 1506.4 L458.1 1504.8 L464.1 1502.6 L470.1 1500.4 L476.1 1497.9 L482.1 1495.6 L488.1 1492.8 L494.1 1490.5 L500.1 1488.5 L506.1 1486.0 L512.1 1482.5 L518.1 1475.0 L524.1 1468.3 L530.1 1460.8 L536.1 1446.8 L542.1 1418.4 L542.6 1410.5 L543.1 1408.0 L543.6 1400.8 L544.1 1396.2 L544.6 1392.1 L545.1 1382.0 L548.1 1386.8 L551.6 1382.3 L555.1 1381.1 L558.6 1377.7 L562.1 1361.9 L565.6 1356.7 L567.9 1361.9 L570.4 1354.0 L572.6 1346.0 L574.9 1343.8 L577.4 1336.4 L579.6 1348.0 L582.1 1339.3 L583.6 1326.3 L584.1 1314.7 L584.6 1319.6 L585.1 1322.3 L585.9 1311.9 L586.4 1309.9 L586.9 1307.1 L587.4 1283.3 L588.1 1294.2 L588.9 1285.3 L590.1 1261.5 L591.4 1265.1 L592.6 1267.9 L593.9 1272.0 L595.1 1257.4 L596.4 1241.0 L597.9 1245.3 L599.1 1234.3 L600.4 1241.4 L601.9 1230.5 L603.1 1235.6 L604.4 1222.4 L605.4 1205.1 L606.4 1238.6 L607.4 1214.2 L606.5 990.0 L609.5 990.0 L608.4 1204.7 L609.4 1211.8 L610.4 1202.9 L611.4 1181.1 L612.4 1156.8 L611.1 806.0 L614.1 806.0 L613.4 1173.5 L614.9 1173.7 L616.4 1199.7 L617.9 1137.7 L619.4 1163.8 L621.1 1160.3 L622.6 1174.5 L624.1 1151.5 L625.6 1165.4 L627.1 1140.0 L627.9 1127.0 L628.4 1130.7 L629.1 1119.7 L629.6 1137.0 L630.4 1086.8 L630.9 1123.1 L631.4 1142.1 L632.1 1103.5 L632.6 1111.1 L633.1 1112.1 L633.9 1092.4 L634.4 1071.0 L634.9 1116.8 L635.6 1075.1 L636.1 1016.3 L636.6 1037.8 L637.4 1061.0 L637.9 1046.8 L638.6 1049.4 L639.1 1042.6 L639.6 1009.9 L640.4 1035.1 L641.1 1102.3 L641.9 1021.6 L642.4 1051.6 L643.1 986.1 L642.2 466.0 L645.2 466.0 L643.9 1030.4 L644.6 994.8 L645.1 909.1 L645.9 1034.4 L646.6 1032.6 L647.1 1041.2 L647.9 1061.1 L648.6 1051.3 L649.4 950.6 L649.9 990.1 L650.6 1038.7 L651.4 1017.5 L652.1 919.9 L652.9 977.0 L653.6 953.9 L654.4 917.3 L655.1 865.0 L655.9 832.3 L656.6 869.0 L657.4 905.6 L658.1 898.6 L658.9 815.9 L659.6 829.5 L661.1 908.0 L662.4 865.7 L663.6 869.3 L664.9 876.2 L666.1 899.2 L667.6 936.8 L671.6 893.6 L675.6 942.2 L679.4 801.2 L683.4 839.7 L687.4 932.1 L687.9 805.6 L688.6 837.8 L689.1 980.3 L689.6 800.5 L690.1 855.5 L690.9 802.1 L691.4 964.3 L691.9 884.7 L692.6 896.5 L693.1 911.2 L693.6 917.0 L694.4 883.7 L694.6 1002.4 L695.1 996.1 L695.6 1008.0 L696.1 976.3 L696.4 981.1 L696.9 944.4 L697.4 954.6 L697.9 970.4 L698.1 1003.1 L698.6 998.7 L699.1 946.7 L699.6 972.2 L699.9 992.0 L700.4 1008.4 L700.9 967.5 L701.4 1026.7 L701.6 999.8 L702.1 994.9 L702.4 1032.4 L702.6 1010.1 L703.1 1062.6 L703.4 1016.7 L703.9 1042.6 L704.1 1086.4 L704.6 1042.7 L704.9 1080.8 L705.1 1036.6 L705.6 1086.2 L705.9 1078.6 L706.4 1075.3 L706.9 1092.4 L707.4 1084.3 L708.1 1107.2 L708.6 1086.7 L709.1 1104.3 L709.9 1106.6 L710.4 1153.7 L710.9 1097.0 L711.6 1124.9 L712.1 1162.9 L712.6 1132.2 L713.4 1131.5 L714.1 1125.9 L714.9 1169.1 L715.6 1128.2 L716.4 1162.7 L717.1 1127.9 L717.9 1172.4 L718.4 1162.2 L719.1 1184.3 L719.6 1194.3 L720.1 1179.2 L720.6 1186.9 L721.1 1187.1 L721.4 1196.3 L721.9 1214.8 L722.4 1229.8 L722.6 1224.0 L723.1 1229.9 L723.6 1236.7 L724.1 1231.2 L724.6 1236.8 L725.4 1245.9 L726.1 1246.9 L727.1 1255.2 L727.9 1257.0 L728.6 1257.6 L729.6 1262.1 L730.4 1278.0 L731.1 1287.8 L732.1 1274.3 L732.9 1287.3 L733.6 1285.5 L734.6 1307.9 L735.6 1304.3 L736.9 1307.8 L737.9 1320.6 L738.9 1319.8 L740.1 1318.6 L741.1 1321.4 L742.1 1323.4 L743.4 1341.4 L744.4 1348.5 L745.4 1344.7 L746.1 1346.8 L747.1 1355.5 L748.1 1367.1 L748.9 1362.4 L749.9 1367.8 L750.9 1374.2 L751.9 1383.3 L752.6 1384.5 L753.6 1388.2 L754.6 1397.0 L756.4 1405.9 L757.9 1403.6 L759.6 1408.3 L761.1 1414.0 L762.9 1416.9 L764.6 1424.9 L767.9 1427.7 L770.9 1431.5 L774.1 1434.6 L777.4 1437.5 L782.1 1440.1 L787.1 1438.8 L790.0 1456.6 L795.0 1459.1 L800.8 1460.3 L806.8 1460.9 L812.5 1463.1 L818.5 1463.8 L824.5 1465.3 L830.2 1465.2 L836.2 1467.5 L842.2 1467.4 L848.2 1468.2 L854.0 1468.3 L860.0 1469.6 L866.0 1468.7 L872.0 1469.7 L878.0 1469.8 L884.0 1470.1 L890.0 1469.0 L896.0 1468.8 L902.0 1470.0 L908.0 1470.1 L914.0 1470.0 L920.0 1468.9 L926.0 1469.5 L932.0 1470.4 L938.0 1471.1 L944.0 1470.6 L950.0 1469.8 L956.0 1469.5 L962.0 1470.6 L968.0 1470.9 L974.0 1470.9 L980.0 1471.6 L986.0 1470.4 L992.0 1471.4 L998.0 1470.5 L1004.0 1471.8 L1006.5 1479.0 L1009.5 1479.0 L1010.0 1471.6 L1016.0 1470.8 L1022.0 1471.3 L1028.0 1470.5 L1034.0 1470.9 L1040.0 1471.4 L1046.0 1470.5 L1052.0 1470.4 L1058.0 1471.7 L1064.0 1469.9 L1070.0 1470.5 L1076.0 1470.3 L1082.0 1471.6 L1086.0 1479.0 L1089.0 1479.0 L1088.0 1471.0 L1094.0 1470.8 L1100.0 1470.1 L1106.0 1471.3 L1112.0 1471.0 L1118.0 1471.5 L1124.0 1470.6 L1125.1 1478.0 L1128.1 1478.0 L1130.0 1470.3 L1136.0 1471.3 L1142.0 1470.7 L1148.0 1470.2 L1154.0 1469.6 L1160.0 1470.0 L1166.0 1470.5 L1172.0 1470.9 L1178.0 1470.7 L1184.0 1470.6 L1190.0 1470.2 L1196.0 1470.2 L1202.0 1469.4 L1208.0 1470.0 L1214.0 1470.7 L1220.0 1469.4 L1226.0 1469.6 L1232.0 1470.0 L1238.0 1470.4 L1244.0 1470.9 L1250.0 1470.5 L1256.0 1469.4 L1262.0 1470.1 L1268.0 1470.2 L1274.0 1469.4 L1280.0 1469.2 L1286.0 1468.9 L1292.0 1468.7 L1298.0 1468.2 L1304.0 1469.2 L1310.0 1468.1 L1316.0 1469.0 L1322.0 1468.0 L1328.0 1468.1 L1334.0 1468.0 L1340.0 1467.5 L1346.0 1467.8 L1352.0 1467.1 L1358.0 1467.1 L1364.0 1467.3 L1370.0 1467.6 L1376.0 1467.5 L1382.0 1467.3 L1388.0 1467.0 L1394.0 1466.8 L1400.0 1465.5 L1406.0 1466.1 L1412.0 1465.9 L1418.0 1466.7 L1424.0 1466.4 L1430.0 1466.1 L1436.0 1465.7 L1442.0 1466.2 L1448.0 1464.6 L1454.0 1465.7 L1460.0 1464.7 L1466.0 1466.2 L1472.0 1465.0 L1478.0 1464.7 L1484.0 1464.6 L1490.0 1464.2 L1496.0 1464.3 L1502.0 1464.2 L1508.0 1465.3 L1514.0 1464.5 L1520.0 1464.9 L1526.0 1462.7 L1532.0 1462.4 L1538.0 1462.3 L1544.0 1462.3 L1550.0 1461.6 L1556.0 1459.0 L1560.8 1458.7 L1565.8 1459.9 L1570.8 1458.2 L1575.8 1460.5 L1580.8 1460.5 L1585.8 1458.7 L1590.8 1458.7 L1595.8 1458.0 L1600.8 1456.7 L1605.8 1454.2 L1610.8 1456.9 L1615.5 1455.0 L1620.5 1453.4 L1625.2 1452.5 L1630.0 1449.9 L1635.0 1447.2 L1639.8 1450.5 L1644.5 1447.1 L1649.5 1446.4 L1654.2 1444.1 L1659.0 1446.2 L1664.0 1445.4 L1668.8 1444.7 L1673.2 1438.2 L1677.5 1436.1 L1681.8 1433.6 L1686.0 1435.6 L1690.2 1429.2 L1694.5 1427.4 L1698.5 1426.7 L1702.5 1422.4 L1706.2 1414.7 L1710.2 1411.7 L1714.0 1410.2 L1717.8 1405.3 L1721.8 1405.6 L1725.8 1400.5 L1729.8 1397.6 L1733.8 1392.8 L1737.8 1391.9 L1741.5 1389.3 L1745.5 1386.0 L1749.2 1384.9 L1753.2 1371.2 L1757.0 1374.0 L1761.0 1371.0 L1763.8 1367.1 L1766.2 1374.3 L1768.5 1389.9 L1771.0 1385.9 L1773.5 1390.1 L1775.2 1383.9 L1777.2 1380.6 L1779.0 1377.9 L1780.8 1381.1 L1782.5 1375.4 L1784.2 1366.1 L1786.0 1360.4 L1787.8 1362.8 L1789.8 1354.7 L1791.5 1350.3 L1793.2 1343.7 L1795.2 1337.4 L1797.2 1335.8 L1799.0 1336.8 L1801.0 1318.4 L1803.0 1311.3 L1804.8 1316.8 L1806.8 1305.3 L1808.8 1303.8 L1810.5 1298.2 L1812.5 1294.4 L1814.2 1298.3 L1816.2 1284.6 L1818.2 1276.7 L1820.0 1285.6 L1822.0 1266.2 L1823.5 1270.6 L1825.2 1277.1 L1826.8 1280.5 L1828.5 1293.8 L1830.2 1305.6 L1831.8 1311.5 L1833.5 1317.7 L1835.0 1316.5 L1836.8 1318.0 L1838.2 1309.6 L1840.0 1320.7 L1841.8 1291.1 L1843.2 1286.6 L1845.0 1294.5 L1846.8 1284.8 L1848.2 1281.8 L1850.0 1278.1 L1852.5 1277.7 L1855.2 1273.0 L1858.2 1273.6 L1861.0 1262.7 L1864.8 1260.4 L1868.2 1254.3 L1871.8 1259.9 L1875.2 1249.5 L1879.5 1246.6 L1883.5 1239.5 L1887.8 1250.1 L1890.8 1234.2 L1892.2 1224.8 L1893.8 1223.2 L1895.2 1226.8 L1897.0 1222.4 L1898.2 1218.0 L1899.8 1214.9 L1901.0 1212.4 L1902.5 1232.4 L1903.8 1240.8 L1905.0 1236.9 L1906.0 1243.4 L1907.0 1257.1 L1908.0 1260.7 L1909.0 1260.8 L1910.0 1260.0 L1911.0 1278.6 L1912.0 1282.2 L1913.0 1275.9 L1914.2 1293.2 L1915.2 1288.5 L1916.5 1292.4 L1917.5 1299.8 L1918.8 1310.8 L1919.8 1309.3 L1921.0 1315.5 L1922.5 1316.8 L1923.8 1327.9 L1925.2 1322.4 L1926.5 1341.7 L1928.0 1338.9 L1929.2 1342.3 L1930.8 1342.5 L1932.2 1354.7 L1934.0 1354.5 L1935.5 1364.0 L1937.0 1362.8 L1938.8 1364.0 L1940.2 1377.4 L1941.8 1378.5 L1943.5 1389.0 L1945.0 1386.5 L1946.5 1390.3 L1948.2 1399.6 L1949.8 1407.9 L1951.5 1407.8 L1953.2 1410.4 L1955.0 1415.5 L1956.5 1420.4 L1958.2 1431.9 L1960.0 1433.1 L1961.8 1434.8 L1963.5 1443.5 L1965.2 1445.2 L1966.8 1448.6 L1968.5 1455.0 L1970.2 1459.4 L1972.5 1465.3 L1974.8 1470.5 L1977.0 1474.1 L1979.2 1478.6 L1981.5 1483.0 L1984.2 1486.6 L1987.2 1490.9 L1990.2 1494.7 L1993.2 1498.6 L1997.0 1501.8 L2001.5 1503.3 L2006.2 1505.5 L2011.0 1507.1 L2016.0 1507.6 L2020.8 1508.1 L2025.8 1508.4 L2030.8 1509.0 L2035.8 1509.5 L2040.8 1509.9" fill="none" stroke="#0000ff" stroke-width="2.8" stroke-linejoin="round"/>
<path fill="#00ae65" d="M432.6 1505.0h15l-7.5 13zM438.6 1503.3h15l-7.5 13zM444.6 1501.8h15l-7.5 13zM450.6 1500.2h15l-7.5 13zM456.6 1498.0h15l-7.5 13zM462.6 1495.8h15l-7.5 13zM468.6 1493.3h15l-7.5 13zM474.6 1491.0h15l-7.5 13zM480.6 1488.2h15l-7.5 13zM486.6 1485.9h15l-7.5 13zM492.6 1483.9h15l-7.5 13zM498.6 1481.4h15l-7.5 13zM504.6 1477.9h15l-7.5 13zM510.6 1470.4h15l-7.5 13zM516.6 1463.7h15l-7.5 13zM522.6 1456.2h15l-7.5 13zM528.6 1442.2h15l-7.5 13zM534.6 1413.8h15l-7.5 13zM535.1 1405.9h15l-7.5 13zM535.6 1403.4h15l-7.5 13zM536.1 1396.2h15l-7.5 13zM536.6 1391.6h15l-7.5 13zM537.1 1387.5h15l-7.5 13zM537.6 1377.4h15l-7.5 13zM540.6 1382.2h15l-7.5 13zM544.1 1377.7h15l-7.5 13zM547.6 1376.5h15l-7.5 13zM551.1 1373.1h15l-7.5 13zM554.6 1357.3h15l-7.5 13zM558.1 1352.1h15l-7.5 13zM560.4 1357.3h15l-7.5 13zM562.9 1349.4h15l-7.5 13zM565.1 1341.4h15l-7.5 13zM567.4 1339.2h15l-7.5 13zM569.9 1331.8h15l-7.5 13zM572.1 1343.4h15l-7.5 13zM574.6 1334.7h15l-7.5 13zM576.1 1321.7h15l-7.5 13zM576.6 1310.1h15l-7.5 13zM577.1 1315.0h15l-7.5 13zM577.6 1317.7h15l-7.5 13zM578.4 1307.3h15l-7.5 13zM578.9 1305.3h15l-7.5 13zM579.4 1302.5h15l-7.5 13zM579.9 1278.7h15l-7.5 13zM580.6 1289.6h15l-7.5 13zM581.4 1280.7h15l-7.5 13zM582.6 1256.9h15l-7.5 13zM583.9 1260.5h15l-7.5 13zM585.1 1263.3h15l-7.5 13zM586.4 1267.4h15l-7.5 13zM587.6 1252.8h15l-7.5 13zM588.9 1236.4h15l-7.5 13zM590.4 1240.7h15l-7.5 13zM591.6 1229.7h15l-7.5 13zM592.9 1236.8h15l-7.5 13zM594.4 1225.9h15l-7.5 13zM595.6 1231.0h15l-7.5 13zM596.9 1217.8h15l-7.5 13zM597.9 1200.5h15l-7.5 13zM598.9 1234.0h15l-7.5 13zM599.9 1209.6h15l-7.5 13zM599.0 985.4h15l-7.5 13zM602.0 985.4h15l-7.5 13zM600.9 1200.1h15l-7.5 13zM601.9 1207.2h15l-7.5 13zM602.9 1198.3h15l-7.5 13zM603.9 1176.5h15l-7.5 13zM604.9 1152.2h15l-7.5 13zM603.6 801.4h15l-7.5 13zM606.6 801.4h15l-7.5 13zM605.9 1168.9h15l-7.5 13zM607.4 1169.1h15l-7.5 13zM608.9 1195.1h15l-7.5 13zM610.4 1133.1h15l-7.5 13zM611.9 1159.2h15l-7.5 13zM613.6 1155.7h15l-7.5 13zM615.1 1169.9h15l-7.5 13zM616.6 1146.9h15l-7.5 13zM618.1 1160.8h15l-7.5 13zM619.6 1135.4h15l-7.5 13zM620.4 1122.4h15l-7.5 13zM620.9 1126.1h15l-7.5 13zM621.6 1115.1h15l-7.5 13zM622.1 1132.4h15l-7.5 13zM622.9 1082.2h15l-7.5 13zM623.4 1118.5h15l-7.5 13zM623.9 1137.5h15l-7.5 13zM624.6 1098.9h15l-7.5 13zM625.1 1106.5h15l-7.5 13zM625.6 1107.5h15l-7.5 13zM626.4 1087.8h15l-7.5 13zM626.9 1066.4h15l-7.5 13zM627.4 1112.2h15l-7.5 13zM628.1 1070.5h15l-7.5 13zM628.6 1011.7h15l-7.5 13zM629.1 1033.2h15l-7.5 13zM629.9 1056.4h15l-7.5 13zM630.4 1042.2h15l-7.5 13zM631.1 1044.8h15l-7.5 13zM631.6 1038.0h15l-7.5 13zM632.1 1005.3h15l-7.5 13zM632.9 1030.5h15l-7.5 13zM633.6 1097.7h15l-7.5 13zM634.4 1017.0h15l-7.5 13zM634.9 1047.0h15l-7.5 13zM635.6 981.5h15l-7.5 13zM634.7 461.4h15l-7.5 13zM637.7 461.4h15l-7.5 13zM636.4 1025.8h15l-7.5 13zM637.1 990.2h15l-7.5 13zM637.6 904.5h15l-7.5 13zM638.4 1029.8h15l-7.5 13zM639.1 1028.0h15l-7.5 13zM639.6 1036.6h15l-7.5 13zM640.4 1056.5h15l-7.5 13zM641.1 1046.7h15l-7.5 13zM641.9 946.0h15l-7.5 13zM642.4 985.5h15l-7.5 13zM643.1 1034.1h15l-7.5 13zM643.9 1012.9h15l-7.5 13zM644.6 915.3h15l-7.5 13zM645.4 972.4h15l-7.5 13zM646.1 949.3h15l-7.5 13zM646.9 912.7h15l-7.5 13zM647.6 860.4h15l-7.5 13zM648.4 827.7h15l-7.5 13zM649.1 864.4h15l-7.5 13zM649.9 901.0h15l-7.5 13zM650.6 894.0h15l-7.5 13zM651.4 811.3h15l-7.5 13zM652.1 824.9h15l-7.5 13zM653.6 903.4h15l-7.5 13zM654.9 861.1h15l-7.5 13zM656.1 864.7h15l-7.5 13zM657.4 871.6h15l-7.5 13zM658.6 894.6h15l-7.5 13zM660.1 932.2h15l-7.5 13zM664.1 889.0h15l-7.5 13zM668.1 937.6h15l-7.5 13zM671.9 796.6h15l-7.5 13zM675.9 835.1h15l-7.5 13zM679.9 927.5h15l-7.5 13zM680.4 801.0h15l-7.5 13zM681.1 833.2h15l-7.5 13zM681.6 975.7h15l-7.5 13zM682.1 795.9h15l-7.5 13zM682.6 850.9h15l-7.5 13zM683.4 797.5h15l-7.5 13zM683.9 959.7h15l-7.5 13zM684.4 880.1h15l-7.5 13zM685.1 891.9h15l-7.5 13zM685.6 906.6h15l-7.5 13zM686.1 912.4h15l-7.5 13zM686.9 879.1h15l-7.5 13zM687.1 997.8h15l-7.5 13zM687.6 991.5h15l-7.5 13zM688.1 1003.4h15l-7.5 13zM688.6 971.7h15l-7.5 13zM688.9 976.5h15l-7.5 13zM689.4 939.8h15l-7.5 13zM689.9 950.0h15l-7.5 13zM690.4 965.8h15l-7.5 13zM690.6 998.5h15l-7.5 13zM691.1 994.1h15l-7.5 13zM691.6 942.1h15l-7.5 13zM692.1 967.6h15l-7.5 13zM692.4 987.4h15l-7.5 13zM692.9 1003.8h15l-7.5 13zM693.4 962.9h15l-7.5 13zM693.9 1022.1h15l-7.5 13zM694.1 995.2h15l-7.5 13zM694.6 990.3h15l-7.5 13zM694.9 1027.8h15l-7.5 13zM695.1 1005.5h15l-7.5 13zM695.6 1058.0h15l-7.5 13zM695.9 1012.1h15l-7.5 13zM696.4 1038.0h15l-7.5 13zM696.6 1081.8h15l-7.5 13zM697.1 1038.1h15l-7.5 13zM697.4 1076.2h15l-7.5 13zM697.6 1032.0h15l-7.5 13zM698.1 1081.6h15l-7.5 13zM698.4 1074.0h15l-7.5 13zM698.9 1070.7h15l-7.5 13zM699.4 1087.8h15l-7.5 13zM699.9 1079.7h15l-7.5 13zM700.6 1102.6h15l-7.5 13zM701.1 1082.1h15l-7.5 13zM701.6 1099.7h15l-7.5 13zM702.4 1102.0h15l-7.5 13zM702.9 1149.1h15l-7.5 13zM703.4 1092.4h15l-7.5 13zM704.1 1120.3h15l-7.5 13zM704.6 1158.3h15l-7.5 13zM705.1 1127.6h15l-7.5 13zM705.9 1126.9h15l-7.5 13zM706.6 1121.3h15l-7.5 13zM707.4 1164.5h15l-7.5 13zM708.1 1123.6h15l-7.5 13zM708.9 1158.1h15l-7.5 13zM709.6 1123.3h15l-7.5 13zM710.4 1167.8h15l-7.5 13zM710.9 1157.6h15l-7.5 13zM711.6 1179.7h15l-7.5 13zM712.1 1189.7h15l-7.5 13zM712.6 1174.6h15l-7.5 13zM713.1 1182.3h15l-7.5 13zM713.6 1182.5h15l-7.5 13zM713.9 1191.7h15l-7.5 13zM714.4 1210.2h15l-7.5 13zM714.9 1225.2h15l-7.5 13zM715.1 1219.4h15l-7.5 13zM715.6 1225.3h15l-7.5 13zM716.1 1232.1h15l-7.5 13zM716.6 1226.6h15l-7.5 13zM717.1 1232.2h15l-7.5 13zM717.9 1241.3h15l-7.5 13zM718.6 1242.3h15l-7.5 13zM719.6 1250.6h15l-7.5 13zM720.4 1252.4h15l-7.5 13zM721.1 1253.0h15l-7.5 13zM722.1 1257.5h15l-7.5 13zM722.9 1273.4h15l-7.5 13zM723.6 1283.2h15l-7.5 13zM724.6 1269.7h15l-7.5 13zM725.4 1282.7h15l-7.5 13zM726.1 1280.9h15l-7.5 13zM727.1 1303.3h15l-7.5 13zM728.1 1299.7h15l-7.5 13zM729.4 1303.2h15l-7.5 13zM730.4 1316.0h15l-7.5 13zM731.4 1315.2h15l-7.5 13zM732.6 1314.0h15l-7.5 13zM733.6 1316.8h15l-7.5 13zM734.6 1318.8h15l-7.5 13zM735.9 1336.8h15l-7.5 13zM736.9 1343.9h15l-7.5 13zM737.9 1340.1h15l-7.5 13zM738.6 1342.2h15l-7.5 13zM739.6 1350.9h15l-7.5 13zM740.6 1362.5h15l-7.5 13zM741.4 1357.8h15l-7.5 13zM742.4 1363.2h15l-7.5 13zM743.4 1369.6h15l-7.5 13zM744.4 1378.7h15l-7.5 13zM745.1 1379.9h15l-7.5 13zM746.1 1383.6h15l-7.5 13zM747.1 1392.4h15l-7.5 13zM748.9 1401.3h15l-7.5 13zM750.4 1399.0h15l-7.5 13zM752.1 1403.7h15l-7.5 13zM753.6 1409.4h15l-7.5 13zM755.4 1412.3h15l-7.5 13zM757.1 1420.3h15l-7.5 13zM760.4 1423.1h15l-7.5 13zM763.4 1426.9h15l-7.5 13zM766.6 1430.0h15l-7.5 13zM769.9 1432.9h15l-7.5 13zM774.6 1435.5h15l-7.5 13zM779.6 1434.2h15l-7.5 13zM782.5 1452.0h15l-7.5 13zM787.5 1454.5h15l-7.5 13zM793.2 1455.7h15l-7.5 13zM799.2 1456.3h15l-7.5 13zM805.0 1458.5h15l-7.5 13zM811.0 1459.2h15l-7.5 13zM817.0 1460.7h15l-7.5 13zM822.8 1460.6h15l-7.5 13zM828.8 1462.9h15l-7.5 13zM834.8 1462.8h15l-7.5 13zM840.8 1463.6h15l-7.5 13zM846.5 1463.7h15l-7.5 13zM852.5 1465.0h15l-7.5 13zM858.5 1464.1h15l-7.5 13zM864.5 1465.1h15l-7.5 13zM870.5 1465.2h15l-7.5 13zM876.5 1465.5h15l-7.5 13zM882.5 1464.4h15l-7.5 13zM888.5 1464.2h15l-7.5 13zM894.5 1465.4h15l-7.5 13zM900.5 1465.5h15l-7.5 13zM906.5 1465.4h15l-7.5 13zM912.5 1464.3h15l-7.5 13zM918.5 1464.9h15l-7.5 13zM924.5 1465.8h15l-7.5 13zM930.5 1466.5h15l-7.5 13zM936.5 1466.0h15l-7.5 13zM942.5 1465.2h15l-7.5 13zM948.5 1464.9h15l-7.5 13zM954.5 1466.0h15l-7.5 13zM960.5 1466.3h15l-7.5 13zM966.5 1466.3h15l-7.5 13zM972.5 1467.0h15l-7.5 13zM978.5 1465.8h15l-7.5 13zM984.5 1466.8h15l-7.5 13zM990.5 1465.9h15l-7.5 13zM996.5 1467.2h15l-7.5 13zM999.0 1474.4h15l-7.5 13zM1002.0 1474.4h15l-7.5 13zM1002.5 1467.0h15l-7.5 13zM1008.5 1466.2h15l-7.5 13zM1014.5 1466.7h15l-7.5 13zM1020.5 1465.9h15l-7.5 13zM1026.5 1466.3h15l-7.5 13zM1032.5 1466.8h15l-7.5 13zM1038.5 1465.9h15l-7.5 13zM1044.5 1465.8h15l-7.5 13zM1050.5 1467.1h15l-7.5 13zM1056.5 1465.3h15l-7.5 13zM1062.5 1465.9h15l-7.5 13zM1068.5 1465.7h15l-7.5 13zM1074.5 1467.0h15l-7.5 13zM1078.5 1474.4h15l-7.5 13zM1081.5 1474.4h15l-7.5 13zM1080.5 1466.4h15l-7.5 13zM1086.5 1466.2h15l-7.5 13zM1092.5 1465.5h15l-7.5 13zM1098.5 1466.7h15l-7.5 13zM1104.5 1466.4h15l-7.5 13zM1110.5 1466.9h15l-7.5 13zM1116.5 1466.0h15l-7.5 13zM1117.6 1473.4h15l-7.5 13zM1120.6 1473.4h15l-7.5 13zM1122.5 1465.7h15l-7.5 13zM1128.5 1466.7h15l-7.5 13zM1134.5 1466.1h15l-7.5 13zM1140.5 1465.6h15l-7.5 13zM1146.5 1465.0h15l-7.5 13zM1152.5 1465.4h15l-7.5 13zM1158.5 1465.9h15l-7.5 13zM1164.5 1466.3h15l-7.5 13zM1170.5 1466.1h15l-7.5 13zM1176.5 1466.0h15l-7.5 13zM1182.5 1465.6h15l-7.5 13zM1188.5 1465.6h15l-7.5 13zM1194.5 1464.8h15l-7.5 13zM1200.5 1465.4h15l-7.5 13zM1206.5 1466.1h15l-7.5 13zM1212.5 1464.8h15l-7.5 13zM1218.5 1465.0h15l-7.5 13zM1224.5 1465.4h15l-7.5 13zM1230.5 1465.8h15l-7.5 13zM1236.5 1466.3h15l-7.5 13zM1242.5 1465.9h15l-7.5 13zM1248.5 1464.8h15l-7.5 13zM1254.5 1465.5h15l-7.5 13zM1260.5 1465.6h15l-7.5 13zM1266.5 1464.8h15l-7.5 13zM1272.5 1464.6h15l-7.5 13zM1278.5 1464.3h15l-7.5 13zM1284.5 1464.1h15l-7.5 13zM1290.5 1463.6h15l-7.5 13zM1296.5 1464.6h15l-7.5 13zM1302.5 1463.5h15l-7.5 13zM1308.5 1464.4h15l-7.5 13zM1314.5 1463.4h15l-7.5 13zM1320.5 1463.5h15l-7.5 13zM1326.5 1463.4h15l-7.5 13zM1332.5 1462.9h15l-7.5 13zM1338.5 1463.2h15l-7.5 13zM1344.5 1462.5h15l-7.5 13zM1350.5 1462.5h15l-7.5 13zM1356.5 1462.7h15l-7.5 13zM1362.5 1463.0h15l-7.5 13zM1368.5 1462.9h15l-7.5 13zM1374.5 1462.7h15l-7.5 13zM1380.5 1462.4h15l-7.5 13zM1386.5 1462.2h15l-7.5 13zM1392.5 1460.9h15l-7.5 13zM1398.5 1461.5h15l-7.5 13zM1404.5 1461.3h15l-7.5 13zM1410.5 1462.1h15l-7.5 13zM1416.5 1461.8h15l-7.5 13zM1422.5 1461.5h15l-7.5 13zM1428.5 1461.1h15l-7.5 13zM1434.5 1461.6h15l-7.5 13zM1440.5 1460.0h15l-7.5 13zM1446.5 1461.1h15l-7.5 13zM1452.5 1460.1h15l-7.5 13zM1458.5 1461.6h15l-7.5 13zM1464.5 1460.4h15l-7.5 13zM1470.5 1460.1h15l-7.5 13zM1476.5 1460.0h15l-7.5 13zM1482.5 1459.6h15l-7.5 13zM1488.5 1459.7h15l-7.5 13zM1494.5 1459.6h15l-7.5 13zM1500.5 1460.7h15l-7.5 13zM1506.5 1459.9h15l-7.5 13zM1512.5 1460.3h15l-7.5 13zM1518.5 1458.1h15l-7.5 13zM1524.5 1457.8h15l-7.5 13zM1530.5 1457.7h15l-7.5 13zM1536.5 1457.7h15l-7.5 13zM1542.5 1457.0h15l-7.5 13zM1548.5 1454.4h15l-7.5 13zM1553.2 1454.1h15l-7.5 13zM1558.2 1455.3h15l-7.5 13zM1563.2 1453.6h15l-7.5 13zM1568.2 1455.9h15l-7.5 13zM1573.2 1455.9h15l-7.5 13zM1578.2 1454.1h15l-7.5 13zM1583.2 1454.1h15l-7.5 13zM1588.2 1453.4h15l-7.5 13zM1593.2 1452.1h15l-7.5 13zM1598.2 1449.6h15l-7.5 13zM1603.2 1452.3h15l-7.5 13zM1608.0 1450.4h15l-7.5 13zM1613.0 1448.8h15l-7.5 13zM1617.8 1447.9h15l-7.5 13zM1622.5 1445.3h15l-7.5 13zM1627.5 1442.6h15l-7.5 13zM1632.2 1445.9h15l-7.5 13zM1637.0 1442.5h15l-7.5 13zM1642.0 1441.8h15l-7.5 13zM1646.8 1439.5h15l-7.5 13zM1651.5 1441.6h15l-7.5 13zM1656.5 1440.8h15l-7.5 13zM1661.2 1440.1h15l-7.5 13zM1665.8 1433.6h15l-7.5 13zM1670.0 1431.5h15l-7.5 13zM1674.2 1429.0h15l-7.5 13zM1678.5 1431.0h15l-7.5 13zM1682.8 1424.6h15l-7.5 13zM1687.0 1422.8h15l-7.5 13zM1691.0 1422.1h15l-7.5 13zM1695.0 1417.8h15l-7.5 13zM1698.8 1410.1h15l-7.5 13zM1702.8 1407.1h15l-7.5 13zM1706.5 1405.6h15l-7.5 13zM1710.2 1400.7h15l-7.5 13zM1714.2 1401.0h15l-7.5 13zM1718.2 1395.9h15l-7.5 13zM1722.2 1393.0h15l-7.5 13zM1726.2 1388.2h15l-7.5 13zM1730.2 1387.3h15l-7.5 13zM1734.0 1384.7h15l-7.5 13zM1738.0 1381.4h15l-7.5 13zM1741.8 1380.3h15l-7.5 13zM1745.8 1366.6h15l-7.5 13zM1749.5 1369.4h15l-7.5 13zM1753.5 1366.4h15l-7.5 13zM1756.2 1362.5h15l-7.5 13zM1758.8 1369.7h15l-7.5 13zM1761.0 1385.3h15l-7.5 13zM1763.5 1381.3h15l-7.5 13zM1766.0 1385.5h15l-7.5 13zM1767.8 1379.3h15l-7.5 13zM1769.8 1376.0h15l-7.5 13zM1771.5 1373.3h15l-7.5 13zM1773.2 1376.5h15l-7.5 13zM1775.0 1370.8h15l-7.5 13zM1776.8 1361.5h15l-7.5 13zM1778.5 1355.8h15l-7.5 13zM1780.2 1358.2h15l-7.5 13zM1782.2 1350.1h15l-7.5 13zM1784.0 1345.7h15l-7.5 13zM1785.8 1339.1h15l-7.5 13zM1787.8 1332.8h15l-7.5 13zM1789.8 1331.2h15l-7.5 13zM1791.5 1332.2h15l-7.5 13zM1793.5 1313.8h15l-7.5 13zM1795.5 1306.7h15l-7.5 13zM1797.2 1312.2h15l-7.5 13zM1799.2 1300.7h15l-7.5 13zM1801.2 1299.2h15l-7.5 13zM1803.0 1293.6h15l-7.5 13zM1805.0 1289.8h15l-7.5 13zM1806.8 1293.7h15l-7.5 13zM1808.8 1280.0h15l-7.5 13zM1810.8 1272.1h15l-7.5 13zM1812.5 1281.0h15l-7.5 13zM1814.5 1261.6h15l-7.5 13zM1816.0 1266.0h15l-7.5 13zM1817.8 1272.5h15l-7.5 13zM1819.2 1275.9h15l-7.5 13zM1821.0 1289.2h15l-7.5 13zM1822.8 1301.0h15l-7.5 13zM1824.2 1306.9h15l-7.5 13zM1826.0 1313.1h15l-7.5 13zM1827.5 1311.9h15l-7.5 13zM1829.2 1313.4h15l-7.5 13zM1830.8 1305.0h15l-7.5 13zM1832.5 1316.1h15l-7.5 13zM1834.2 1286.5h15l-7.5 13zM1835.8 1282.0h15l-7.5 13zM1837.5 1289.9h15l-7.5 13zM1839.2 1280.2h15l-7.5 13zM1840.8 1277.2h15l-7.5 13zM1842.5 1273.5h15l-7.5 13zM1845.0 1273.1h15l-7.5 13zM1847.8 1268.4h15l-7.5 13zM1850.8 1269.0h15l-7.5 13zM1853.5 1258.1h15l-7.5 13zM1857.2 1255.8h15l-7.5 13zM1860.8 1249.7h15l-7.5 13zM1864.2 1255.3h15l-7.5 13zM1867.8 1244.9h15l-7.5 13zM1872.0 1242.0h15l-7.5 13zM1876.0 1234.9h15l-7.5 13zM1880.2 1245.5h15l-7.5 13zM1883.2 1229.6h15l-7.5 13zM1884.8 1220.2h15l-7.5 13zM1886.2 1218.6h15l-7.5 13zM1887.8 1222.2h15l-7.5 13zM1889.5 1217.8h15l-7.5 13zM1890.8 1213.4h15l-7.5 13zM1892.2 1210.3h15l-7.5 13zM1893.5 1207.8h15l-7.5 13zM1895.0 1227.8h15l-7.5 13zM1896.2 1236.2h15l-7.5 13zM1897.5 1232.3h15l-7.5 13zM1898.5 1238.8h15l-7.5 13zM1899.5 1252.5h15l-7.5 13zM1900.5 1256.1h15l-7.5 13zM1901.5 1256.2h15l-7.5 13zM1902.5 1255.4h15l-7.5 13zM1903.5 1274.0h15l-7.5 13zM1904.5 1277.6h15l-7.5 13zM1905.5 1271.3h15l-7.5 13zM1906.8 1288.6h15l-7.5 13zM1907.8 1283.9h15l-7.5 13zM1909.0 1287.8h15l-7.5 13zM1910.0 1295.2h15l-7.5 13zM1911.2 1306.2h15l-7.5 13zM1912.2 1304.7h15l-7.5 13zM1913.5 1310.9h15l-7.5 13zM1915.0 1312.2h15l-7.5 13zM1916.2 1323.3h15l-7.5 13zM1917.8 1317.8h15l-7.5 13zM1919.0 1337.1h15l-7.5 13zM1920.5 1334.3h15l-7.5 13zM1921.8 1337.7h15l-7.5 13zM1923.2 1337.9h15l-7.5 13zM1924.8 1350.1h15l-7.5 13zM1926.5 1349.9h15l-7.5 13zM1928.0 1359.4h15l-7.5 13zM1929.5 1358.2h15l-7.5 13zM1931.2 1359.4h15l-7.5 13zM1932.8 1372.8h15l-7.5 13zM1934.2 1373.9h15l-7.5 13zM1936.0 1384.4h15l-7.5 13zM1937.5 1381.9h15l-7.5 13zM1939.0 1385.7h15l-7.5 13zM1940.8 1395.0h15l-7.5 13zM1942.2 1403.3h15l-7.5 13zM1944.0 1403.2h15l-7.5 13zM1945.8 1405.8h15l-7.5 13zM1947.5 1410.9h15l-7.5 13zM1949.0 1415.8h15l-7.5 13zM1950.8 1427.3h15l-7.5 13zM1952.5 1428.5h15l-7.5 13zM1954.2 1430.2h15l-7.5 13zM1956.0 1438.9h15l-7.5 13zM1957.8 1440.6h15l-7.5 13zM1959.2 1444.0h15l-7.5 13zM1961.0 1450.4h15l-7.5 13zM1962.8 1454.8h15l-7.5 13zM1965.0 1460.7h15l-7.5 13zM1967.2 1465.9h15l-7.5 13zM1969.5 1469.5h15l-7.5 13zM1971.8 1474.0h15l-7.5 13zM1974.0 1478.4h15l-7.5 13zM1976.8 1482.0h15l-7.5 13zM1979.8 1486.3h15l-7.5 13zM1982.8 1490.1h15l-7.5 13zM1985.8 1494.0h15l-7.5 13zM1989.5 1497.2h15l-7.5 13zM1994.0 1498.7h15l-7.5 13zM1998.8 1500.9h15l-7.5 13zM2003.5 1502.5h15l-7.5 13zM2008.5 1503.0h15l-7.5 13zM2013.2 1503.5h15l-7.5 13zM2018.2 1503.8h15l-7.5 13zM2023.2 1504.4h15l-7.5 13zM2028.2 1504.9h15l-7.5 13zM2033.2 1505.3h15l-7.5 13z"/>
<path d="M236.0 1511.0 L450.0 1510.5 L470.0 1507.0 L490.0 1502.0 L509.0 1494.0 L526.0 1483.0 L537.0 1474.0 L546.0 1462.0 L560.0 1425.2" fill="none" stroke="#c077e2" stroke-width="18" stroke-linejoin="round" stroke-linecap="round"/>
<path d="M745.0 1402.3 L747.0 1410.0 L755.0 1434.0 L770.0 1447.0 L790.0 1452.0 L808.0 1452.0 L847.0 1454.0 L876.0 1456.0 L953.0 1457.5 L1250.0 1457.5 L1370.0 1455.5 L1491.0 1452.0 L1563.0 1449.0 L1612.0 1441.0 L1672.0 1423.0 L1700.0 1404.0 L1720.0 1384.0 L1738.0 1365.0 L1762.0 1343.0 L1774.0 1361.0 L1792.0 1311.0 L1807.0 1257.0 L1821.0 1211.0 L1828.0 1240.0 L1836.0 1265.0 L1845.0 1215.0 L1852.0 1190.0 L1865.0 1165.0 L1880.0 1150.0 L1890.0 1120.0 L1898.0 1095.0 L1905.0 1110.0 L1912.0 1140.0 L1918.0 1180.0 L1922.0 1220.0 L1928.0 1250.0 L1935.0 1275.0 L1938.0 1287.0 L1945.0 1320.0 L1951.0 1346.0 L1955.0 1373.0 L1963.0 1400.0 L1969.0 1426.0 L1978.0 1453.0 L1989.0 1479.0 L2000.0 1497.0 L2020.0 1505.0 L2047.0 1509.0" fill="none" stroke="#c077e2" stroke-width="18" stroke-linejoin="round" stroke-linecap="round"/>
<path d="M560.0 1425.2 L562.0 1420.0 L581.0 1398.0 L593.0 1362.0 L604.0 1315.0 L624.0 1268.0 L630.0 1250.0 L645.0 1190.0 L652.0 1150.0 L660.0 1080.0 L668.0 1060.0 L678.0 1055.0 L688.0 1075.0 L697.0 1150.0 L707.0 1196.0 L713.0 1250.0 L720.0 1273.0 L724.0 1297.0 L728.0 1335.0 L735.0 1362.0 L741.0 1387.0 L745.0 1402.3" fill="none" stroke="#c077e2" stroke-width="6" stroke-linejoin="round" stroke-linecap="round"/>
<path d="M442.4 1510.5 L448.4 1510.5 L454.4 1509.7 L460.4 1508.8 L466.4 1507.6 L472.4 1506.4 L478.4 1505.1 L484.4 1503.4 L490.4 1501.9 L496.4 1499.1 L502.4 1497.0 L508.4 1494.1 L514.4 1491.5 L520.4 1487.4 L526.4 1482.0 L532.4 1476.7 L538.4 1472.1 L544.4 1464.8 L546.9 1457.9 L548.6 1458.6 L550.4 1452.0 L552.4 1443.8 L554.1 1439.1 L555.9 1438.5 L557.6 1436.2 L559.4 1422.9 L561.1 1421.8 L563.6 1420.8 L566.9 1414.2 L570.1 1407.7 L573.4 1413.5 L576.6 1399.2 L580.1 1396.3 L582.1 1402.0 L583.6 1387.1 L585.4 1392.0 L586.9 1375.5 L588.4 1374.1 L590.1 1360.7 L591.6 1368.9 L593.1 1361.3 L594.4 1350.8 L595.4 1355.0 L596.6 1350.1 L597.6 1344.1 L598.9 1337.2 L600.1 1339.2 L601.1 1323.6 L602.4 1317.7 L603.4 1317.0 L604.9 1299.4 L606.9 1310.8 L608.9 1292.6 L610.9 1303.4 L610.5 1049.0 L613.5 1049.0 L612.9 1287.5 L614.6 1307.1 L616.6 1283.5 L618.6 1282.2 L620.6 1280.5 L622.6 1277.0 L624.4 1270.2 L626.1 1268.7 L627.6 1277.4 L629.1 1258.7 L630.6 1253.2 L631.9 1248.0 L633.1 1249.0 L634.1 1234.9 L635.4 1214.2 L636.6 1228.0 L637.9 1227.6 L639.1 1187.5 L640.4 1189.5 L641.6 1185.3 L642.6 1176.4 L642.2 815.0 L645.2 815.0 L643.9 1201.0 L645.1 1191.8 L646.1 1160.1 L646.9 1190.9 L647.6 1177.4 L648.6 1160.9 L649.4 1156.6 L650.4 1165.4 L651.1 1132.4 L652.1 1152.8 L652.6 1127.3 L653.1 1114.5 L653.9 1117.4 L654.4 1111.1 L654.9 1153.3 L655.4 1153.0 L656.1 1129.4 L656.6 1097.1 L657.1 1065.9 L657.6 1132.7 L658.4 1085.8 L658.9 1112.7 L659.4 1105.2 L660.1 1087.3 L661.6 1056.6 L663.6 1064.9 L665.4 1032.9 L667.1 1090.4 L670.4 1033.1 L674.9 1029.5 L678.9 1054.8 L681.1 1047.6 L683.4 1081.8 L685.6 1101.0 L687.6 1085.6 L688.6 1098.1 L689.1 1024.5 L689.9 1103.9 L690.4 1051.1 L690.9 1093.8 L691.6 1097.3 L692.1 1090.5 L692.9 1135.5 L693.4 1097.1 L693.9 1114.8 L694.6 1167.3 L695.1 1120.1 L695.9 1127.7 L696.4 1134.4 L696.9 1112.5 L697.9 1163.6 L698.9 1147.2 L700.1 1154.1 L701.1 1181.4 L702.1 1157.5 L703.1 1197.6 L704.4 1201.0 L705.4 1181.9 L706.4 1207.1 L707.4 1201.0 L707.9 1224.3 L708.4 1207.8 L708.9 1226.6 L709.4 1213.6 L710.1 1241.9 L710.6 1223.8 L711.1 1236.3 L711.6 1237.1 L712.1 1243.1 L712.9 1247.7 L713.9 1266.6 L715.1 1277.4 L716.6 1261.7 L718.1 1276.1 L719.6 1276.2 L720.6 1274.5 L721.4 1292.3 L722.4 1291.5 L723.1 1295.1 L723.9 1301.8 L724.6 1301.5 L725.1 1308.6 L725.6 1316.6 L726.1 1322.0 L726.6 1318.5 L727.1 1329.8 L727.6 1329.2 L728.4 1334.7 L729.6 1349.1 L730.9 1350.5 L732.1 1351.0 L733.4 1354.6 L734.6 1357.8 L735.9 1363.0 L736.9 1366.4 L738.1 1376.3 L739.4 1381.0 L740.4 1382.1 L741.6 1390.7 L742.9 1391.3 L744.1 1403.3 L745.4 1402.2 L746.6 1409.1 L748.1 1418.1 L749.6 1415.8 L751.4 1422.5 L752.9 1427.7 L754.4 1434.2 L757.4 1436.9 L761.1 1436.7 L764.9 1443.9 L768.9 1449.2 L773.1 1448.4 L778.1 1449.9 L782.9 1450.3 L787.9 1451.8 L790.0 1452.6 L796.0 1452.6 L802.0 1451.3 L808.0 1453.0 L814.0 1450.9 L820.0 1453.0 L826.0 1453.7 L832.0 1452.7 L838.0 1453.1 L844.0 1454.6 L850.0 1453.7 L856.0 1455.9 L862.0 1455.7 L868.0 1454.7 L874.0 1456.0 L880.0 1456.9 L886.0 1455.9 L892.0 1455.7 L898.0 1456.4 L904.0 1457.7 L910.0 1456.9 L916.0 1456.5 L922.0 1456.4 L928.0 1455.8 L934.0 1457.3 L940.0 1457.6 L946.0 1457.4 L952.0 1456.7 L958.0 1458.1 L964.0 1456.7 L970.0 1458.8 L976.0 1457.0 L982.0 1457.9 L988.0 1457.2 L994.0 1457.1 L1000.0 1458.3 L1006.0 1457.6 L1012.0 1457.3 L1018.0 1457.1 L1024.0 1458.1 L1030.0 1458.1 L1036.0 1458.7 L1042.0 1456.2 L1048.0 1457.6 L1054.0 1457.6 L1060.0 1458.5 L1066.0 1456.9 L1072.0 1457.8 L1078.0 1456.6 L1084.0 1457.0 L1090.0 1457.5 L1096.0 1457.0 L1102.0 1458.2 L1108.0 1457.7 L1114.0 1457.9 L1120.0 1458.3 L1126.0 1457.5 L1132.0 1457.6 L1138.0 1456.6 L1144.0 1458.8 L1150.0 1457.9 L1156.0 1458.1 L1162.0 1457.8 L1168.0 1457.2 L1174.0 1457.2 L1180.0 1457.5 L1186.0 1457.8 L1192.0 1457.2 L1198.0 1457.3 L1204.0 1458.7 L1210.0 1457.7 L1216.0 1458.4 L1222.0 1458.3 L1228.0 1457.4 L1234.0 1457.5 L1240.0 1457.4 L1246.0 1458.1 L1252.0 1457.6 L1258.0 1458.0 L1264.0 1457.0 L1270.0 1456.7 L1276.0 1455.9 L1282.0 1456.1 L1288.0 1457.4 L1294.0 1457.1 L1300.0 1457.3 L1306.0 1456.4 L1312.0 1455.2 L1318.0 1455.9 L1324.0 1457.6 L1330.0 1457.0 L1336.0 1456.9 L1342.0 1455.6 L1348.0 1455.9 L1354.0 1455.6 L1360.0 1454.5 L1366.0 1456.1 L1372.0 1456.0 L1378.0 1454.0 L1384.0 1454.9 L1390.0 1455.4 L1396.0 1456.1 L1402.0 1455.6 L1408.0 1455.8 L1414.0 1454.2 L1420.0 1454.0 L1426.0 1453.2 L1432.0 1453.8 L1438.0 1454.0 L1444.0 1453.9 L1450.0 1451.9 L1456.0 1454.2 L1462.0 1452.7 L1468.0 1452.6 L1474.0 1452.1 L1480.0 1452.6 L1486.0 1451.8 L1492.0 1451.4 L1498.0 1451.8 L1504.0 1451.8 L1510.0 1451.4 L1516.0 1451.7 L1522.0 1450.9 L1528.0 1450.7 L1534.0 1450.0 L1540.0 1448.7 L1546.0 1448.4 L1551.8 1449.9 L1556.8 1448.6 L1561.8 1448.7 L1566.8 1447.5 L1571.8 1447.5 L1576.8 1446.4 L1581.5 1446.6 L1586.5 1446.2 L1591.5 1443.2 L1596.5 1441.7 L1601.2 1441.8 L1606.2 1441.3 L1611.2 1440.7 L1616.0 1440.5 L1620.8 1441.3 L1625.5 1435.8 L1630.5 1435.1 L1635.2 1435.1 L1640.0 1434.5 L1644.8 1428.6 L1649.5 1433.5 L1654.2 1424.6 L1659.2 1425.4 L1664.0 1420.8 L1668.8 1425.7 L1673.2 1422.2 L1677.5 1420.6 L1681.5 1416.1 L1685.8 1414.3 L1689.8 1413.1 L1694.0 1404.8 L1698.2 1407.7 L1702.0 1403.7 L1705.5 1396.6 L1709.0 1396.9 L1712.5 1393.1 L1716.0 1386.7 L1719.8 1385.6 L1723.0 1385.7 L1726.5 1377.5 L1730.0 1374.4 L1733.5 1362.5 L1736.8 1371.1 L1740.5 1358.4 L1744.2 1362.8 L1747.8 1357.7 L1751.5 1354.2 L1755.2 1347.9 L1759.0 1341.5 L1762.5 1335.0 L1765.2 1351.0 L1768.0 1345.7 L1770.8 1351.5 L1773.5 1356.6 L1775.5 1360.3 L1777.2 1347.7 L1778.8 1348.3 L1780.5 1341.2 L1782.2 1339.5 L1784.0 1329.7 L1785.8 1322.3 L1787.2 1317.9 L1789.0 1320.5 L1790.8 1308.6 L1792.2 1301.3 L1793.8 1310.5 L1795.0 1290.9 L1796.2 1304.3 L1797.8 1286.7 L1799.0 1281.8 L1800.2 1271.1 L1801.8 1273.9 L1803.0 1274.9 L1804.5 1271.9 L1805.8 1270.9 L1807.0 1251.2 L1808.5 1253.9 L1810.0 1252.8 L1811.5 1237.9 L1813.0 1243.6 L1814.2 1236.8 L1815.8 1232.1 L1817.2 1209.0 L1818.8 1205.6 L1820.2 1214.9 L1821.5 1227.1 L1822.8 1215.8 L1823.8 1221.8 L1825.0 1224.6 L1826.2 1228.0 L1827.5 1240.6 L1828.8 1234.9 L1830.2 1240.4 L1831.8 1250.1 L1833.2 1259.5 L1834.8 1264.7 L1836.2 1258.5 L1837.0 1267.7 L1838.0 1255.1 L1839.0 1254.2 L1839.8 1255.3 L1840.8 1233.7 L1841.5 1234.7 L1842.5 1228.6 L1843.2 1217.2 L1844.2 1232.2 L1845.0 1215.6 L1846.5 1207.0 L1847.8 1197.5 L1849.0 1210.8 L1850.5 1188.6 L1851.8 1188.8 L1854.0 1172.9 L1856.2 1170.6 L1858.5 1172.0 L1860.8 1152.9 L1863.2 1168.4 L1865.5 1168.9 L1869.2 1164.3 L1872.8 1167.2 L1876.2 1154.1 L1879.8 1170.6 L1881.5 1146.4 L1883.0 1136.3 L1884.8 1124.6 L1886.2 1135.2 L1887.8 1110.7 L1889.5 1129.1 L1891.0 1118.5 L1892.5 1134.7 L1894.0 1116.7 L1895.5 1112.5 L1897.0 1080.1 L1898.8 1090.2 L1901.0 1114.7 L1903.0 1099.4 L1905.2 1105.4 L1906.2 1118.1 L1907.5 1120.5 L1908.5 1128.5 L1909.8 1136.4 L1910.8 1154.2 L1912.0 1141.0 L1912.8 1131.2 L1913.5 1134.9 L1914.2 1157.9 L1915.0 1167.7 L1915.8 1167.1 L1916.5 1161.0 L1917.2 1171.5 L1918.0 1185.7 L1918.5 1181.5 L1919.0 1191.9 L1919.5 1190.2 L1920.0 1203.7 L1920.5 1218.2 L1921.0 1209.5 L1921.5 1208.4 L1922.0 1229.4 L1922.8 1224.7 L1923.8 1221.5 L1924.8 1236.8 L1925.8 1243.9 L1926.8 1227.9 L1927.8 1242.4 L1929.0 1245.8 L1930.2 1265.0 L1931.5 1250.6 L1933.0 1279.6 L1934.2 1275.9 L1935.5 1271.9 L1936.8 1273.1 L1938.0 1293.1 L1939.0 1296.0 L1940.2 1296.4 L1941.2 1314.1 L1942.2 1303.2 L1943.2 1308.5 L1944.2 1319.0 L1945.2 1318.1 L1946.5 1322.3 L1947.5 1329.2 L1948.8 1333.6 L1949.8 1333.1 L1951.0 1348.3 L1951.8 1350.3 L1952.5 1358.5 L1953.2 1356.7 L1954.0 1368.0 L1954.8 1369.4 L1955.8 1375.0 L1957.0 1379.5 L1958.5 1378.5 L1960.0 1390.1 L1961.2 1390.9 L1962.8 1397.4 L1964.0 1401.6 L1965.0 1409.0 L1966.2 1412.3 L1967.2 1417.1 L1968.5 1424.9 L1969.8 1427.8 L1971.2 1432.9 L1973.0 1438.1 L1974.5 1440.8 L1976.0 1447.9 L1977.8 1454.2 L1979.5 1458.4 L1981.5 1461.7 L1983.5 1466.6 L1985.5 1470.7 L1987.2 1474.5 L1989.2 1478.3 L1992.0 1483.7 L1994.5 1487.8 L1997.2 1492.8 L1999.8 1496.4 L2004.0 1498.3 L2008.8 1500.2 L2013.5 1502.7 L2018.0 1504.1 L2022.8 1505.2 L2027.8 1506.1 L2032.8 1507.0 L2037.8 1507.6 L2042.8 1508.3" fill="none" stroke="#00ffff" stroke-width="2.8" stroke-linejoin="round"/>
<path fill="#c077e2" d="M442.4 1502.5l7.6 8l-7.6 8l-7.6-8zM448.4 1502.5l7.6 8l-7.6 8l-7.6-8zM454.4 1501.7l7.6 8l-7.6 8l-7.6-8zM460.4 1500.8l7.6 8l-7.6 8l-7.6-8zM466.4 1499.6l7.6 8l-7.6 8l-7.6-8zM472.4 1498.4l7.6 8l-7.6 8l-7.6-8zM478.4 1497.1l7.6 8l-7.6 8l-7.6-8zM484.4 1495.4l7.6 8l-7.6 8l-7.6-8zM490.4 1493.9l7.6 8l-7.6 8l-7.6-8zM496.4 1491.1l7.6 8l-7.6 8l-7.6-8zM502.4 1489.0l7.6 8l-7.6 8l-7.6-8zM508.4 1486.1l7.6 8l-7.6 8l-7.6-8zM514.4 1483.5l7.6 8l-7.6 8l-7.6-8zM520.4 1479.4l7.6 8l-7.6 8l-7.6-8zM526.4 1474.0l7.6 8l-7.6 8l-7.6-8zM532.4 1468.7l7.6 8l-7.6 8l-7.6-8zM538.4 1464.1l7.6 8l-7.6 8l-7.6-8zM544.4 1456.8l7.6 8l-7.6 8l-7.6-8zM546.9 1449.9l7.6 8l-7.6 8l-7.6-8zM548.6 1450.6l7.6 8l-7.6 8l-7.6-8zM550.4 1444.0l7.6 8l-7.6 8l-7.6-8zM552.4 1435.8l7.6 8l-7.6 8l-7.6-8zM554.1 1431.1l7.6 8l-7.6 8l-7.6-8zM555.9 1430.5l7.6 8l-7.6 8l-7.6-8zM557.6 1428.2l7.6 8l-7.6 8l-7.6-8zM559.4 1414.9l7.6 8l-7.6 8l-7.6-8zM561.1 1413.8l7.6 8l-7.6 8l-7.6-8zM563.6 1412.8l7.6 8l-7.6 8l-7.6-8zM566.9 1406.2l7.6 8l-7.6 8l-7.6-8zM570.1 1399.7l7.6 8l-7.6 8l-7.6-8zM573.4 1405.5l7.6 8l-7.6 8l-7.6-8zM576.6 1391.2l7.6 8l-7.6 8l-7.6-8zM580.1 1388.3l7.6 8l-7.6 8l-7.6-8zM582.1 1394.0l7.6 8l-7.6 8l-7.6-8zM583.6 1379.1l7.6 8l-7.6 8l-7.6-8zM585.4 1384.0l7.6 8l-7.6 8l-7.6-8zM586.9 1367.5l7.6 8l-7.6 8l-7.6-8zM588.4 1366.1l7.6 8l-7.6 8l-7.6-8zM590.1 1352.7l7.6 8l-7.6 8l-7.6-8zM591.6 1360.9l7.6 8l-7.6 8l-7.6-8zM593.1 1353.3l7.6 8l-7.6 8l-7.6-8zM594.4 1342.8l7.6 8l-7.6 8l-7.6-8zM595.4 1347.0l7.6 8l-7.6 8l-7.6-8zM596.6 1342.1l7.6 8l-7.6 8l-7.6-8zM597.6 1336.1l7.6 8l-7.6 8l-7.6-8zM598.9 1329.2l7.6 8l-7.6 8l-7.6-8zM600.1 1331.2l7.6 8l-7.6 8l-7.6-8zM601.1 1315.6l7.6 8l-7.6 8l-7.6-8zM602.4 1309.7l7.6 8l-7.6 8l-7.6-8zM603.4 1309.0l7.6 8l-7.6 8l-7.6-8zM604.9 1291.4l7.6 8l-7.6 8l-7.6-8zM606.9 1302.8l7.6 8l-7.6 8l-7.6-8zM608.9 1284.6l7.6 8l-7.6 8l-7.6-8zM610.9 1295.4l7.6 8l-7.6 8l-7.6-8zM610.5 1041.0l7.6 8l-7.6 8l-7.6-8zM613.5 1041.0l7.6 8l-7.6 8l-7.6-8zM612.9 1279.5l7.6 8l-7.6 8l-7.6-8zM614.6 1299.1l7.6 8l-7.6 8l-7.6-8zM616.6 1275.5l7.6 8l-7.6 8l-7.6-8zM618.6 1274.2l7.6 8l-7.6 8l-7.6-8zM620.6 1272.5l7.6 8l-7.6 8l-7.6-8zM622.6 1269.0l7.6 8l-7.6 8l-7.6-8zM624.4 1262.2l7.6 8l-7.6 8l-7.6-8zM626.1 1260.7l7.6 8l-7.6 8l-7.6-8zM627.6 1269.4l7.6 8l-7.6 8l-7.6-8zM629.1 1250.7l7.6 8l-7.6 8l-7.6-8zM630.6 1245.2l7.6 8l-7.6 8l-7.6-8zM631.9 1240.0l7.6 8l-7.6 8l-7.6-8zM633.1 1241.0l7.6 8l-7.6 8l-7.6-8zM634.1 1226.9l7.6 8l-7.6 8l-7.6-8zM635.4 1206.2l7.6 8l-7.6 8l-7.6-8zM636.6 1220.0l7.6 8l-7.6 8l-7.6-8zM637.9 1219.6l7.6 8l-7.6 8l-7.6-8zM639.1 1179.5l7.6 8l-7.6 8l-7.6-8zM640.4 1181.5l7.6 8l-7.6 8l-7.6-8zM641.6 1177.3l7.6 8l-7.6 8l-7.6-8zM642.6 1168.4l7.6 8l-7.6 8l-7.6-8zM642.2 807.0l7.6 8l-7.6 8l-7.6-8zM645.2 807.0l7.6 8l-7.6 8l-7.6-8zM643.9 1193.0l7.6 8l-7.6 8l-7.6-8zM645.1 1183.8l7.6 8l-7.6 8l-7.6-8zM646.1 1152.1l7.6 8l-7.6 8l-7.6-8zM646.9 1182.9l7.6 8l-7.6 8l-7.6-8zM647.6 1169.4l7.6 8l-7.6 8l-7.6-8zM648.6 1152.9l7.6 8l-7.6 8l-7.6-8zM649.4 1148.6l7.6 8l-7.6 8l-7.6-8zM650.4 1157.4l7.6 8l-7.6 8l-7.6-8zM651.1 1124.4l7.6 8l-7.6 8l-7.6-8zM652.1 1144.8l7.6 8l-7.6 8l-7.6-8zM652.6 1119.3l7.6 8l-7.6 8l-7.6-8zM653.1 1106.5l7.6 8l-7.6 8l-7.6-8zM653.9 1109.4l7.6 8l-7.6 8l-7.6-8zM654.4 1103.1l7.6 8l-7.6 8l-7.6-8zM654.9 1145.3l7.6 8l-7.6 8l-7.6-8zM655.4 1145.0l7.6 8l-7.6 8l-7.6-8zM656.1 1121.4l7.6 8l-7.6 8l-7.6-8zM656.6 1089.1l7.6 8l-7.6 8l-7.6-8zM657.1 1057.9l7.6 8l-7.6 8l-7.6-8zM657.6 1124.7l7.6 8l-7.6 8l-7.6-8zM658.4 1077.8l7.6 8l-7.6 8l-7.6-8zM658.9 1104.7l7.6 8l-7.6 8l-7.6-8zM659.4 1097.2l7.6 8l-7.6 8l-7.6-8zM660.1 1079.3l7.6 8l-7.6 8l-7.6-8zM661.6 1048.6l7.6 8l-7.6 8l-7.6-8zM663.6 1056.9l7.6 8l-7.6 8l-7.6-8zM665.4 1024.9l7.6 8l-7.6 8l-7.6-8zM667.1 1082.4l7.6 8l-7.6 8l-7.6-8zM670.4 1025.1l7.6 8l-7.6 8l-7.6-8zM674.9 1021.5l7.6 8l-7.6 8l-7.6-8zM678.9 1046.8l7.6 8l-7.6 8l-7.6-8zM681.1 1039.6l7.6 8l-7.6 8l-7.6-8zM683.4 1073.8l7.6 8l-7.6 8l-7.6-8zM685.6 1093.0l7.6 8l-7.6 8l-7.6-8zM687.6 1077.6l7.6 8l-7.6 8l-7.6-8zM688.6 1090.1l7.6 8l-7.6 8l-7.6-8zM689.1 1016.5l7.6 8l-7.6 8l-7.6-8zM689.9 1095.9l7.6 8l-7.6 8l-7.6-8zM690.4 1043.1l7.6 8l-7.6 8l-7.6-8zM690.9 1085.8l7.6 8l-7.6 8l-7.6-8zM691.6 1089.3l7.6 8l-7.6 8l-7.6-8zM692.1 1082.5l7.6 8l-7.6 8l-7.6-8zM692.9 1127.5l7.6 8l-7.6 8l-7.6-8zM693.4 1089.1l7.6 8l-7.6 8l-7.6-8zM693.9 1106.8l7.6 8l-7.6 8l-7.6-8zM694.6 1159.3l7.6 8l-7.6 8l-7.6-8zM695.1 1112.1l7.6 8l-7.6 8l-7.6-8zM695.9 1119.7l7.6 8l-7.6 8l-7.6-8zM696.4 1126.4l7.6 8l-7.6 8l-7.6-8zM696.9 1104.5l7.6 8l-7.6 8l-7.6-8zM697.9 1155.6l7.6 8l-7.6 8l-7.6-8zM698.9 1139.2l7.6 8l-7.6 8l-7.6-8zM700.1 1146.1l7.6 8l-7.6 8l-7.6-8zM701.1 1173.4l7.6 8l-7.6 8l-7.6-8zM702.1 1149.5l7.6 8l-7.6 8l-7.6-8zM703.1 1189.6l7.6 8l-7.6 8l-7.6-8zM704.4 1193.0l7.6 8l-7.6 8l-7.6-8zM705.4 1173.9l7.6 8l-7.6 8l-7.6-8zM706.4 1199.1l7.6 8l-7.6 8l-7.6-8zM707.4 1193.0l7.6 8l-7.6 8l-7.6-8zM707.9 1216.3l7.6 8l-7.6 8l-7.6-8zM708.4 1199.8l7.6 8l-7.6 8l-7.6-8zM708.9 1218.6l7.6 8l-7.6 8l-7.6-8zM709.4 1205.6l7.6 8l-7.6 8l-7.6-8zM710.1 1233.9l7.6 8l-7.6 8l-7.6-8zM710.6 1215.8l7.6 8l-7.6 8l-7.6-8zM711.1 1228.3l7.6 8l-7.6 8l-7.6-8zM711.6 1229.1l7.6 8l-7.6 8l-7.6-8zM712.1 1235.1l7.6 8l-7.6 8l-7.6-8zM712.9 1239.7l7.6 8l-7.6 8l-7.6-8zM713.9 1258.6l7.6 8l-7.6 8l-7.6-8zM715.1 1269.4l7.6 8l-7.6 8l-7.6-8zM716.6 1253.7l7.6 8l-7.6 8l-7.6-8zM718.1 1268.1l7.6 8l-7.6 8l-7.6-8zM719.6 1268.2l7.6 8l-7.6 8l-7.6-8zM720.6 1266.5l7.6 8l-7.6 8l-7.6-8zM721.4 1284.3l7.6 8l-7.6 8l-7.6-8zM722.4 1283.5l7.6 8l-7.6 8l-7.6-8zM723.1 1287.1l7.6 8l-7.6 8l-7.6-8zM723.9 1293.8l7.6 8l-7.6 8l-7.6-8zM724.6 1293.5l7.6 8l-7.6 8l-7.6-8zM725.1 1300.6l7.6 8l-7.6 8l-7.6-8zM725.6 1308.6l7.6 8l-7.6 8l-7.6-8zM726.1 1314.0l7.6 8l-7.6 8l-7.6-8zM726.6 1310.5l7.6 8l-7.6 8l-7.6-8zM727.1 1321.8l7.6 8l-7.6 8l-7.6-8zM727.6 1321.2l7.6 8l-7.6 8l-7.6-8zM728.4 1326.7l7.6 8l-7.6 8l-7.6-8zM729.6 1341.1l7.6 8l-7.6 8l-7.6-8zM730.9 1342.5l7.6 8l-7.6 8l-7.6-8zM732.1 1343.0l7.6 8l-7.6 8l-7.6-8zM733.4 1346.6l7.6 8l-7.6 8l-7.6-8zM734.6 1349.8l7.6 8l-7.6 8l-7.6-8zM735.9 1355.0l7.6 8l-7.6 8l-7.6-8zM736.9 1358.4l7.6 8l-7.6 8l-7.6-8zM738.1 1368.3l7.6 8l-7.6 8l-7.6-8zM739.4 1373.0l7.6 8l-7.6 8l-7.6-8zM740.4 1374.1l7.6 8l-7.6 8l-7.6-8zM741.6 1382.7l7.6 8l-7.6 8l-7.6-8zM742.9 1383.3l7.6 8l-7.6 8l-7.6-8zM744.1 1395.3l7.6 8l-7.6 8l-7.6-8zM745.4 1394.2l7.6 8l-7.6 8l-7.6-8zM746.6 1401.1l7.6 8l-7.6 8l-7.6-8zM748.1 1410.1l7.6 8l-7.6 8l-7.6-8zM749.6 1407.8l7.6 8l-7.6 8l-7.6-8zM751.4 1414.5l7.6 8l-7.6 8l-7.6-8zM752.9 1419.7l7.6 8l-7.6 8l-7.6-8zM754.4 1426.2l7.6 8l-7.6 8l-7.6-8zM757.4 1428.9l7.6 8l-7.6 8l-7.6-8zM761.1 1428.7l7.6 8l-7.6 8l-7.6-8zM764.9 1435.9l7.6 8l-7.6 8l-7.6-8zM768.9 1441.2l7.6 8l-7.6 8l-7.6-8zM773.1 1440.4l7.6 8l-7.6 8l-7.6-8zM778.1 1441.9l7.6 8l-7.6 8l-7.6-8zM782.9 1442.3l7.6 8l-7.6 8l-7.6-8zM787.9 1443.8l7.6 8l-7.6 8l-7.6-8zM790.0 1444.6l7.6 8l-7.6 8l-7.6-8zM796.0 1444.6l7.6 8l-7.6 8l-7.6-8zM802.0 1443.3l7.6 8l-7.6 8l-7.6-8zM808.0 1445.0l7.6 8l-7.6 8l-7.6-8zM814.0 1442.9l7.6 8l-7.6 8l-7.6-8zM820.0 1445.0l7.6 8l-7.6 8l-7.6-8zM826.0 1445.7l7.6 8l-7.6 8l-7.6-8zM832.0 1444.7l7.6 8l-7.6 8l-7.6-8zM838.0 1445.1l7.6 8l-7.6 8l-7.6-8zM844.0 1446.6l7.6 8l-7.6 8l-7.6-8zM850.0 1445.7l7.6 8l-7.6 8l-7.6-8zM856.0 1447.9l7.6 8l-7.6 8l-7.6-8zM862.0 1447.7l7.6 8l-7.6 8l-7.6-8zM868.0 1446.7l7.6 8l-7.6 8l-7.6-8zM874.0 1448.0l7.6 8l-7.6 8l-7.6-8zM880.0 1448.9l7.6 8l-7.6 8l-7.6-8zM886.0 1447.9l7.6 8l-7.6 8l-7.6-8zM892.0 1447.7l7.6 8l-7.6 8l-7.6-8zM898.0 1448.4l7.6 8l-7.6 8l-7.6-8zM904.0 1449.7l7.6 8l-7.6 8l-7.6-8zM910.0 1448.9l7.6 8l-7.6 8l-7.6-8zM916.0 1448.5l7.6 8l-7.6 8l-7.6-8zM922.0 1448.4l7.6 8l-7.6 8l-7.6-8zM928.0 1447.8l7.6 8l-7.6 8l-7.6-8zM934.0 1449.3l7.6 8l-7.6 8l-7.6-8zM940.0 1449.6l7.6 8l-7.6 8l-7.6-8zM946.0 1449.4l7.6 8l-7.6 8l-7.6-8zM952.0 1448.7l7.6 8l-7.6 8l-7.6-8zM958.0 1450.1l7.6 8l-7.6 8l-7.6-8zM964.0 1448.7l7.6 8l-7.6 8l-7.6-8zM970.0 1450.8l7.6 8l-7.6 8l-7.6-8zM976.0 1449.0l7.6 8l-7.6 8l-7.6-8zM982.0 1449.9l7.6 8l-7.6 8l-7.6-8zM988.0 1449.2l7.6 8l-7.6 8l-7.6-8zM994.0 1449.1l7.6 8l-7.6 8l-7.6-8zM1000.0 1450.3l7.6 8l-7.6 8l-7.6-8zM1006.0 1449.6l7.6 8l-7.6 8l-7.6-8zM1012.0 1449.3l7.6 8l-7.6 8l-7.6-8zM1018.0 1449.1l7.6 8l-7.6 8l-7.6-8zM1024.0 1450.1l7.6 8l-7.6 8l-7.6-8zM1030.0 1450.1l7.6 8l-7.6 8l-7.6-8zM1036.0 1450.7l7.6 8l-7.6 8l-7.6-8zM1042.0 1448.2l7.6 8l-7.6 8l-7.6-8zM1048.0 1449.6l7.6 8l-7.6 8l-7.6-8zM1054.0 1449.6l7.6 8l-7.6 8l-7.6-8zM1060.0 1450.5l7.6 8l-7.6 8l-7.6-8zM1066.0 1448.9l7.6 8l-7.6 8l-7.6-8zM1072.0 1449.8l7.6 8l-7.6 8l-7.6-8zM1078.0 1448.6l7.6 8l-7.6 8l-7.6-8zM1084.0 1449.0l7.6 8l-7.6 8l-7.6-8zM1090.0 1449.5l7.6 8l-7.6 8l-7.6-8zM1096.0 1449.0l7.6 8l-7.6 8l-7.6-8zM1102.0 1450.2l7.6 8l-7.6 8l-7.6-8zM1108.0 1449.7l7.6 8l-7.6 8l-7.6-8zM1114.0 1449.9l7.6 8l-7.6 8l-7.6-8zM1120.0 1450.3l7.6 8l-7.6 8l-7.6-8zM1126.0 1449.5l7.6 8l-7.6 8l-7.6-8zM1132.0 1449.6l7.6 8l-7.6 8l-7.6-8zM1138.0 1448.6l7.6 8l-7.6 8l-7.6-8zM1144.0 1450.8l7.6 8l-7.6 8l-7.6-8zM1150.0 1449.9l7.6 8l-7.6 8l-7.6-8zM1156.0 1450.1l7.6 8l-7.6 8l-7.6-8zM1162.0 1449.8l7.6 8l-7.6 8l-7.6-8zM1168.0 1449.2l7.6 8l-7.6 8l-7.6-8zM1174.0 1449.2l7.6 8l-7.6 8l-7.6-8zM1180.0 1449.5l7.6 8l-7.6 8l-7.6-8zM1186.0 1449.8l7.6 8l-7.6 8l-7.6-8zM1192.0 1449.2l7.6 8l-7.6 8l-7.6-8zM1198.0 1449.3l7.6 8l-7.6 8l-7.6-8zM1204.0 1450.7l7.6 8l-7.6 8l-7.6-8zM1210.0 1449.7l7.6 8l-7.6 8l-7.6-8zM1216.0 1450.4l7.6 8l-7.6 8l-7.6-8zM1222.0 1450.3l7.6 8l-7.6 8l-7.6-8zM1228.0 1449.4l7.6 8l-7.6 8l-7.6-8zM1234.0 1449.5l7.6 8l-7.6 8l-7.6-8zM1240.0 1449.4l7.6 8l-7.6 8l-7.6-8zM1246.0 1450.1l7.6 8l-7.6 8l-7.6-8zM1252.0 1449.6l7.6 8l-7.6 8l-7.6-8zM1258.0 1450.0l7.6 8l-7.6 8l-7.6-8zM1264.0 1449.0l7.6 8l-7.6 8l-7.6-8zM1270.0 1448.7l7.6 8l-7.6 8l-7.6-8zM1276.0 1447.9l7.6 8l-7.6 8l-7.6-8zM1282.0 1448.1l7.6 8l-7.6 8l-7.6-8zM1288.0 1449.4l7.6 8l-7.6 8l-7.6-8zM1294.0 1449.1l7.6 8l-7.6 8l-7.6-8zM1300.0 1449.3l7.6 8l-7.6 8l-7.6-8zM1306.0 1448.4l7.6 8l-7.6 8l-7.6-8zM1312.0 1447.2l7.6 8l-7.6 8l-7.6-8zM1318.0 1447.9l7.6 8l-7.6 8l-7.6-8zM1324.0 1449.6l7.6 8l-7.6 8l-7.6-8zM1330.0 1449.0l7.6 8l-7.6 8l-7.6-8zM1336.0 1448.9l7.6 8l-7.6 8l-7.6-8zM1342.0 1447.6l7.6 8l-7.6 8l-7.6-8zM1348.0 1447.9l7.6 8l-7.6 8l-7.6-8zM1354.0 1447.6l7.6 8l-7.6 8l-7.6-8zM1360.0 1446.5l7.6 8l-7.6 8l-7.6-8zM1366.0 1448.1l7.6 8l-7.6 8l-7.6-8zM1372.0 1448.0l7.6 8l-7.6 8l-7.6-8zM1378.0 1446.0l7.6 8l-7.6 8l-7.6-8zM1384.0 1446.9l7.6 8l-7.6 8l-7.6-8zM1390.0 1447.4l7.6 8l-7.6 8l-7.6-8zM1396.0 1448.1l7.6 8l-7.6 8l-7.6-8zM1402.0 1447.6l7.6 8l-7.6 8l-7.6-8zM1408.0 1447.8l7.6 8l-7.6 8l-7.6-8zM1414.0 1446.2l7.6 8l-7.6 8l-7.6-8zM1420.0 1446.0l7.6 8l-7.6 8l-7.6-8zM1426.0 1445.2l7.6 8l-7.6 8l-7.6-8zM1432.0 1445.8l7.6 8l-7.6 8l-7.6-8zM1438.0 1446.0l7.6 8l-7.6 8l-7.6-8zM1444.0 1445.9l7.6 8l-7.6 8l-7.6-8zM1450.0 1443.9l7.6 8l-7.6 8l-7.6-8zM1456.0 1446.2l7.6 8l-7.6 8l-7.6-8zM1462.0 1444.7l7.6 8l-7.6 8l-7.6-8zM1468.0 1444.6l7.6 8l-7.6 8l-7.6-8zM1474.0 1444.1l7.6 8l-7.6 8l-7.6-8zM1480.0 1444.6l7.6 8l-7.6 8l-7.6-8zM1486.0 1443.8l7.6 8l-7.6 8l-7.6-8zM1492.0 1443.4l7.6 8l-7.6 8l-7.6-8zM1498.0 1443.8l7.6 8l-7.6 8l-7.6-8zM1504.0 1443.8l7.6 8l-7.6 8l-7.6-8zM1510.0 1443.4l7.6 8l-7.6 8l-7.6-8zM1516.0 1443.7l7.6 8l-7.6 8l-7.6-8zM1522.0 1442.9l7.6 8l-7.6 8l-7.6-8zM1528.0 1442.7l7.6 8l-7.6 8l-7.6-8zM1534.0 1442.0l7.6 8l-7.6 8l-7.6-8zM1540.0 1440.7l7.6 8l-7.6 8l-7.6-8zM1546.0 1440.4l7.6 8l-7.6 8l-7.6-8zM1551.8 1441.9l7.6 8l-7.6 8l-7.6-8zM1556.8 1440.6l7.6 8l-7.6 8l-7.6-8zM1561.8 1440.7l7.6 8l-7.6 8l-7.6-8zM1566.8 1439.5l7.6 8l-7.6 8l-7.6-8zM1571.8 1439.5l7.6 8l-7.6 8l-7.6-8zM1576.8 1438.4l7.6 8l-7.6 8l-7.6-8zM1581.5 1438.6l7.6 8l-7.6 8l-7.6-8zM1586.5 1438.2l7.6 8l-7.6 8l-7.6-8zM1591.5 1435.2l7.6 8l-7.6 8l-7.6-8zM1596.5 1433.7l7.6 8l-7.6 8l-7.6-8zM1601.2 1433.8l7.6 8l-7.6 8l-7.6-8zM1606.2 1433.3l7.6 8l-7.6 8l-7.6-8zM1611.2 1432.7l7.6 8l-7.6 8l-7.6-8zM1616.0 1432.5l7.6 8l-7.6 8l-7.6-8zM1620.8 1433.3l7.6 8l-7.6 8l-7.6-8zM1625.5 1427.8l7.6 8l-7.6 8l-7.6-8zM1630.5 1427.1l7.6 8l-7.6 8l-7.6-8zM1635.2 1427.1l7.6 8l-7.6 8l-7.6-8zM1640.0 1426.5l7.6 8l-7.6 8l-7.6-8zM1644.8 1420.6l7.6 8l-7.6 8l-7.6-8zM1649.5 1425.5l7.6 8l-7.6 8l-7.6-8zM1654.2 1416.6l7.6 8l-7.6 8l-7.6-8zM1659.2 1417.4l7.6 8l-7.6 8l-7.6-8zM1664.0 1412.8l7.6 8l-7.6 8l-7.6-8zM1668.8 1417.7l7.6 8l-7.6 8l-7.6-8zM1673.2 1414.2l7.6 8l-7.6 8l-7.6-8zM1677.5 1412.6l7.6 8l-7.6 8l-7.6-8zM1681.5 1408.1l7.6 8l-7.6 8l-7.6-8zM1685.8 1406.3l7.6 8l-7.6 8l-7.6-8zM1689.8 1405.1l7.6 8l-7.6 8l-7.6-8zM1694.0 1396.8l7.6 8l-7.6 8l-7.6-8zM1698.2 1399.7l7.6 8l-7.6 8l-7.6-8zM1702.0 1395.7l7.6 8l-7.6 8l-7.6-8zM1705.5 1388.6l7.6 8l-7.6 8l-7.6-8zM1709.0 1388.9l7.6 8l-7.6 8l-7.6-8zM1712.5 1385.1l7.6 8l-7.6 8l-7.6-8zM1716.0 1378.7l7.6 8l-7.6 8l-7.6-8zM1719.8 1377.6l7.6 8l-7.6 8l-7.6-8zM1723.0 1377.7l7.6 8l-7.6 8l-7.6-8zM1726.5 1369.5l7.6 8l-7.6 8l-7.6-8zM1730.0 1366.4l7.6 8l-7.6 8l-7.6-8zM1733.5 1354.5l7.6 8l-7.6 8l-7.6-8zM1736.8 1363.1l7.6 8l-7.6 8l-7.6-8zM1740.5 1350.4l7.6 8l-7.6 8l-7.6-8zM1744.2 1354.8l7.6 8l-7.6 8l-7.6-8zM1747.8 1349.7l7.6 8l-7.6 8l-7.6-8zM1751.5 1346.2l7.6 8l-7.6 8l-7.6-8zM1755.2 1339.9l7.6 8l-7.6 8l-7.6-8zM1759.0 1333.5l7.6 8l-7.6 8l-7.6-8zM1762.5 1327.0l7.6 8l-7.6 8l-7.6-8zM1765.2 1343.0l7.6 8l-7.6 8l-7.6-8zM1768.0 1337.7l7.6 8l-7.6 8l-7.6-8zM1770.8 1343.5l7.6 8l-7.6 8l-7.6-8zM1773.5 1348.6l7.6 8l-7.6 8l-7.6-8zM1775.5 1352.3l7.6 8l-7.6 8l-7.6-8zM1777.2 1339.7l7.6 8l-7.6 8l-7.6-8zM1778.8 1340.3l7.6 8l-7.6 8l-7.6-8zM1780.5 1333.2l7.6 8l-7.6 8l-7.6-8zM1782.2 1331.5l7.6 8l-7.6 8l-7.6-8zM1784.0 1321.7l7.6 8l-7.6 8l-7.6-8zM1785.8 1314.3l7.6 8l-7.6 8l-7.6-8zM1787.2 1309.9l7.6 8l-7.6 8l-7.6-8zM1789.0 1312.5l7.6 8l-7.6 8l-7.6-8zM1790.8 1300.6l7.6 8l-7.6 8l-7.6-8zM1792.2 1293.3l7.6 8l-7.6 8l-7.6-8zM1793.8 1302.5l7.6 8l-7.6 8l-7.6-8zM1795.0 1282.9l7.6 8l-7.6 8l-7.6-8zM1796.2 1296.3l7.6 8l-7.6 8l-7.6-8zM1797.8 1278.7l7.6 8l-7.6 8l-7.6-8zM1799.0 1273.8l7.6 8l-7.6 8l-7.6-8zM1800.2 1263.1l7.6 8l-7.6 8l-7.6-8zM1801.8 1265.9l7.6 8l-7.6 8l-7.6-8zM1803.0 1266.9l7.6 8l-7.6 8l-7.6-8zM1804.5 1263.9l7.6 8l-7.6 8l-7.6-8zM1805.8 1262.9l7.6 8l-7.6 8l-7.6-8zM1807.0 1243.2l7.6 8l-7.6 8l-7.6-8zM1808.5 1245.9l7.6 8l-7.6 8l-7.6-8zM1810.0 1244.8l7.6 8l-7.6 8l-7.6-8zM1811.5 1229.9l7.6 8l-7.6 8l-7.6-8zM1813.0 1235.6l7.6 8l-7.6 8l-7.6-8zM1814.2 1228.8l7.6 8l-7.6 8l-7.6-8zM1815.8 1224.1l7.6 8l-7.6 8l-7.6-8zM1817.2 1201.0l7.6 8l-7.6 8l-7.6-8zM1818.8 1197.6l7.6 8l-7.6 8l-7.6-8zM1820.2 1206.9l7.6 8l-7.6 8l-7.6-8zM1821.5 1219.1l7.6 8l-7.6 8l-7.6-8zM1822.8 1207.8l7.6 8l-7.6 8l-7.6-8zM1823.8 1213.8l7.6 8l-7.6 8l-7.6-8zM1825.0 1216.6l7.6 8l-7.6 8l-7.6-8zM1826.2 1220.0l7.6 8l-7.6 8l-7.6-8zM1827.5 1232.6l7.6 8l-7.6 8l-7.6-8zM1828.8 1226.9l7.6 8l-7.6 8l-7.6-8zM1830.2 1232.4l7.6 8l-7.6 8l-7.6-8zM1831.8 1242.1l7.6 8l-7.6 8l-7.6-8zM1833.2 1251.5l7.6 8l-7.6 8l-7.6-8zM1834.8 1256.7l7.6 8l-7.6 8l-7.6-8zM1836.2 1250.5l7.6 8l-7.6 8l-7.6-8zM1837.0 1259.7l7.6 8l-7.6 8l-7.6-8zM1838.0 1247.1l7.6 8l-7.6 8l-7.6-8zM1839.0 1246.2l7.6 8l-7.6 8l-7.6-8zM1839.8 1247.3l7.6 8l-7.6 8l-7.6-8zM1840.8 1225.7l7.6 8l-7.6 8l-7.6-8zM1841.5 1226.7l7.6 8l-7.6 8l-7.6-8zM1842.5 1220.6l7.6 8l-7.6 8l-7.6-8zM1843.2 1209.2l7.6 8l-7.6 8l-7.6-8zM1844.2 1224.2l7.6 8l-7.6 8l-7.6-8zM1845.0 1207.6l7.6 8l-7.6 8l-7.6-8zM1846.5 1199.0l7.6 8l-7.6 8l-7.6-8zM1847.8 1189.5l7.6 8l-7.6 8l-7.6-8zM1849.0 1202.8l7.6 8l-7.6 8l-7.6-8zM1850.5 1180.6l7.6 8l-7.6 8l-7.6-8zM1851.8 1180.8l7.6 8l-7.6 8l-7.6-8zM1854.0 1164.9l7.6 8l-7.6 8l-7.6-8zM1856.2 1162.6l7.6 8l-7.6 8l-7.6-8zM1858.5 1164.0l7.6 8l-7.6 8l-7.6-8zM1860.8 1144.9l7.6 8l-7.6 8l-7.6-8zM1863.2 1160.4l7.6 8l-7.6 8l-7.6-8zM1865.5 1160.9l7.6 8l-7.6 8l-7.6-8zM1869.2 1156.3l7.6 8l-7.6 8l-7.6-8zM1872.8 1159.2l7.6 8l-7.6 8l-7.6-8zM1876.2 1146.1l7.6 8l-7.6 8l-7.6-8zM1879.8 1162.6l7.6 8l-7.6 8l-7.6-8zM1881.5 1138.4l7.6 8l-7.6 8l-7.6-8zM1883.0 1128.3l7.6 8l-7.6 8l-7.6-8zM1884.8 1116.6l7.6 8l-7.6 8l-7.6-8zM1886.2 1127.2l7.6 8l-7.6 8l-7.6-8zM1887.8 1102.7l7.6 8l-7.6 8l-7.6-8zM1889.5 1121.1l7.6 8l-7.6 8l-7.6-8zM1891.0 1110.5l7.6 8l-7.6 8l-7.6-8zM1892.5 1126.7l7.6 8l-7.6 8l-7.6-8zM1894.0 1108.7l7.6 8l-7.6 8l-7.6-8zM1895.5 1104.5l7.6 8l-7.6 8l-7.6-8zM1897.0 1072.1l7.6 8l-7.6 8l-7.6-8zM1898.8 1082.2l7.6 8l-7.6 8l-7.6-8zM1901.0 1106.7l7.6 8l-7.6 8l-7.6-8zM1903.0 1091.4l7.6 8l-7.6 8l-7.6-8zM1905.2 1097.4l7.6 8l-7.6 8l-7.6-8zM1906.2 1110.1l7.6 8l-7.6 8l-7.6-8zM1907.5 1112.5l7.6 8l-7.6 8l-7.6-8zM1908.5 1120.5l7.6 8l-7.6 8l-7.6-8zM1909.8 1128.4l7.6 8l-7.6 8l-7.6-8zM1910.8 1146.2l7.6 8l-7.6 8l-7.6-8zM1912.0 1133.0l7.6 8l-7.6 8l-7.6-8zM1912.8 1123.2l7.6 8l-7.6 8l-7.6-8zM1913.5 1126.9l7.6 8l-7.6 8l-7.6-8zM1914.2 1149.9l7.6 8l-7.6 8l-7.6-8zM1915.0 1159.7l7.6 8l-7.6 8l-7.6-8zM1915.8 1159.1l7.6 8l-7.6 8l-7.6-8zM1916.5 1153.0l7.6 8l-7.6 8l-7.6-8zM1917.2 1163.5l7.6 8l-7.6 8l-7.6-8zM1918.0 1177.7l7.6 8l-7.6 8l-7.6-8zM1918.5 1173.5l7.6 8l-7.6 8l-7.6-8zM1919.0 1183.9l7.6 8l-7.6 8l-7.6-8zM1919.5 1182.2l7.6 8l-7.6 8l-7.6-8zM1920.0 1195.7l7.6 8l-7.6 8l-7.6-8zM1920.5 1210.2l7.6 8l-7.6 8l-7.6-8zM1921.0 1201.5l7.6 8l-7.6 8l-7.6-8zM1921.5 1200.4l7.6 8l-7.6 8l-7.6-8zM1922.0 1221.4l7.6 8l-7.6 8l-7.6-8zM1922.8 1216.7l7.6 8l-7.6 8l-7.6-8zM1923.8 1213.5l7.6 8l-7.6 8l-7.6-8zM1924.8 1228.8l7.6 8l-7.6 8l-7.6-8zM1925.8 1235.9l7.6 8l-7.6 8l-7.6-8zM1926.8 1219.9l7.6 8l-7.6 8l-7.6-8zM1927.8 1234.4l7.6 8l-7.6 8l-7.6-8zM1929.0 1237.8l7.6 8l-7.6 8l-7.6-8zM1930.2 1257.0l7.6 8l-7.6 8l-7.6-8zM1931.5 1242.6l7.6 8l-7.6 8l-7.6-8zM1933.0 1271.6l7.6 8l-7.6 8l-7.6-8zM1934.2 1267.9l7.6 8l-7.6 8l-7.6-8zM1935.5 1263.9l7.6 8l-7.6 8l-7.6-8zM1936.8 1265.1l7.6 8l-7.6 8l-7.6-8zM1938.0 1285.1l7.6 8l-7.6 8l-7.6-8zM1939.0 1288.0l7.6 8l-7.6 8l-7.6-8zM1940.2 1288.4l7.6 8l-7.6 8l-7.6-8zM1941.2 1306.1l7.6 8l-7.6 8l-7.6-8zM1942.2 1295.2l7.6 8l-7.6 8l-7.6-8zM1943.2 1300.5l7.6 8l-7.6 8l-7.6-8zM1944.2 1311.0l7.6 8l-7.6 8l-7.6-8zM1945.2 1310.1l7.6 8l-7.6 8l-7.6-8zM1946.5 1314.3l7.6 8l-7.6 8l-7.6-8zM1947.5 1321.2l7.6 8l-7.6 8l-7.6-8zM1948.8 1325.6l7.6 8l-7.6 8l-7.6-8zM1949.8 1325.1l7.6 8l-7.6 8l-7.6-8zM1951.0 1340.3l7.6 8l-7.6 8l-7.6-8zM1951.8 1342.3l7.6 8l-7.6 8l-7.6-8zM1952.5 1350.5l7.6 8l-7.6 8l-7.6-8zM1953.2 1348.7l7.6 8l-7.6 8l-7.6-8zM1954.0 1360.0l7.6 8l-7.6 8l-7.6-8zM1954.8 1361.4l7.6 8l-7.6 8l-7.6-8zM1955.8 1367.0l7.6 8l-7.6 8l-7.6-8zM1957.0 1371.5l7.6 8l-7.6 8l-7.6-8zM1958.5 1370.5l7.6 8l-7.6 8l-7.6-8zM1960.0 1382.1l7.6 8l-7.6 8l-7.6-8zM1961.2 1382.9l7.6 8l-7.6 8l-7.6-8zM1962.8 1389.4l7.6 8l-7.6 8l-7.6-8zM1964.0 1393.6l7.6 8l-7.6 8l-7.6-8zM1965.0 1401.0l7.6 8l-7.6 8l-7.6-8zM1966.2 1404.3l7.6 8l-7.6 8l-7.6-8zM1967.2 1409.1l7.6 8l-7.6 8l-7.6-8zM1968.5 1416.9l7.6 8l-7.6 8l-7.6-8zM1969.8 1419.8l7.6 8l-7.6 8l-7.6-8zM1971.2 1424.9l7.6 8l-7.6 8l-7.6-8zM1973.0 1430.1l7.6 8l-7.6 8l-7.6-8zM1974.5 1432.8l7.6 8l-7.6 8l-7.6-8zM1976.0 1439.9l7.6 8l-7.6 8l-7.6-8zM1977.8 1446.2l7.6 8l-7.6 8l-7.6-8zM1979.5 1450.4l7.6 8l-7.6 8l-7.6-8zM1981.5 1453.7l7.6 8l-7.6 8l-7.6-8zM1983.5 1458.6l7.6 8l-7.6 8l-7.6-8zM1985.5 1462.7l7.6 8l-7.6 8l-7.6-8zM1987.2 1466.5l7.6 8l-7.6 8l-7.6-8zM1989.2 1470.3l7.6 8l-7.6 8l-7.6-8zM1992.0 1475.7l7.6 8l-7.6 8l-7.6-8zM1994.5 1479.8l7.6 8l-7.6 8l-7.6-8zM1997.2 1484.8l7.6 8l-7.6 8l-7.6-8zM1999.8 1488.4l7.6 8l-7.6 8l-7.6-8zM2004.0 1490.3l7.6 8l-7.6 8l-7.6-8zM2008.8 1492.2l7.6 8l-7.6 8l-7.6-8zM2013.5 1494.7l7.6 8l-7.6 8l-7.6-8zM2018.0 1496.1l7.6 8l-7.6 8l-7.6-8zM2022.8 1497.2l7.6 8l-7.6 8l-7.6-8zM2027.8 1498.1l7.6 8l-7.6 8l-7.6-8zM2032.8 1499.0l7.6 8l-7.6 8l-7.6-8zM2037.8 1499.6l7.6 8l-7.6 8l-7.6-8zM2042.8 1500.3l7.6 8l-7.6 8l-7.6-8z"/>
<path d="M236.0 1510.0 L436.0 1509.0 L446.0 1505.0 L460.0 1500.0 L482.0 1491.0 L509.0 1479.0 L526.0 1465.0 L537.0 1446.0 L541.0 1432.0 L544.0 1395.0 L546.0 1368.0 L560.0 1345.0 L560.0 1345.0" fill="none" stroke="#dc9600" stroke-width="15" stroke-linejoin="round" stroke-linecap="round"/>
<path d="M745.0 1357.2 L747.0 1372.0 L752.0 1397.0 L759.0 1422.0 L768.0 1440.0 L777.0 1452.0 L789.0 1460.0 L808.0 1466.0 L847.0 1469.5 L876.0 1471.5 L953.0 1473.5 L1250.0 1473.5 L1371.0 1473.0 L1491.0 1470.0 L1564.0 1466.0 L1612.0 1461.0 L1672.0 1454.0 L1700.0 1443.0 L1720.0 1437.0 L1740.0 1423.0 L1762.0 1401.0 L1774.0 1418.0 L1779.0 1428.0 L1790.0 1390.0 L1800.0 1370.0 L1806.0 1351.0 L1820.0 1320.0 L1830.0 1345.0 L1836.0 1362.0 L1845.0 1318.0 L1860.0 1300.0 L1875.0 1290.0 L1888.0 1272.0 L1898.0 1250.0 L1905.0 1268.0 L1912.0 1287.0 L1919.0 1320.0 L1928.0 1346.0 L1936.0 1373.0 L1946.0 1400.0 L1956.0 1426.0 L1967.0 1453.0 L1979.0 1479.0 L1991.0 1495.0 L2003.0 1503.0 L2020.0 1508.0 L2047.0 1510.0" fill="none" stroke="#dc9600" stroke-width="15" stroke-linejoin="round" stroke-linecap="round"/>
<path d="M560.0 1345.0 L580.0 1307.0 L590.0 1255.0 L597.0 1225.0 L604.0 1195.0 L609.0 1160.0 L616.0 1115.0 L627.0 1070.0 L633.0 1020.0 L645.0 950.0 L655.0 880.0 L662.0 830.0 L670.0 800.0 L680.0 790.0 L690.0 800.0 L697.0 835.0 L702.0 885.0 L705.0 950.0 L707.0 1020.0 L709.0 1054.0 L711.0 1074.0 L713.0 1097.0 L716.0 1129.0 L718.5 1151.0 L722.0 1185.0 L727.6 1208.0 L732.0 1242.0 L735.0 1270.0 L739.0 1297.0 L742.0 1335.0 L745.0 1357.2" fill="none" stroke="#dc9600" stroke-width="6" stroke-linejoin="round" stroke-linecap="round"/>
<path d="M444.0 1505.7 L450.0 1503.7 L456.0 1501.7 L462.0 1498.9 L468.0 1497.3 L474.0 1493.6 L480.0 1491.8 L486.0 1489.0 L492.0 1487.5 L498.0 1484.4 L504.0 1480.6 L510.0 1479.6 L516.0 1471.0 L522.0 1470.0 L528.0 1463.3 L534.0 1451.1 L540.0 1434.5 L541.2 1427.2 L541.8 1423.7 L542.0 1420.2 L542.5 1414.2 L542.8 1412.1 L543.2 1410.7 L543.8 1395.0 L544.0 1394.2 L544.5 1387.7 L544.8 1387.2 L545.2 1376.8 L545.5 1374.8 L546.0 1368.4 L547.2 1359.8 L549.8 1371.7 L552.5 1355.8 L555.0 1359.7 L557.8 1350.7 L560.2 1334.9 L562.5 1347.4 L565.0 1336.2 L567.2 1335.3 L569.5 1320.2 L572.0 1329.3 L574.2 1330.4 L576.5 1309.8 L578.8 1312.1 L580.5 1306.9 L581.5 1290.4 L582.5 1301.4 L583.5 1292.0 L584.2 1283.6 L585.2 1276.0 L586.2 1279.2 L587.2 1259.7 L588.0 1244.3 L589.0 1264.1 L590.0 1236.6 L591.0 1271.5 L592.2 1231.0 L593.5 1243.6 L594.5 1234.3 L595.8 1234.0 L596.8 1233.0 L598.0 1235.0 L599.0 1220.9 L600.2 1192.4 L601.2 1190.1 L602.5 1206.6 L603.5 1205.1 L604.5 1202.3 L605.2 1205.0 L606.0 1152.4 L606.8 1165.1 L607.2 1170.3 L608.0 1175.1 L608.8 1178.9 L607.5 890.0 L610.5 890.0 L609.5 1134.4 L610.2 1138.5 L611.0 1163.8 L611.8 1124.8 L612.5 1157.4 L611.1 687.0 L614.1 687.0 L613.2 1121.0 L614.0 1145.5 L614.8 1130.8 L615.8 1107.2 L616.5 1104.7 L617.8 1088.3 L619.0 1119.1 L620.0 1067.4 L621.2 1066.6 L622.5 1088.6 L623.8 1073.7 L624.8 1095.3 L626.0 1077.3 L627.2 1096.0 L627.8 1061.8 L628.5 1053.2 L629.0 1023.8 L629.5 1028.2 L630.2 1024.6 L630.8 1047.0 L631.2 1039.7 L632.0 1036.2 L632.5 1019.0 L633.2 1064.2 L634.0 995.8 L634.8 1047.5 L635.8 1024.0 L634.5 772.0 L637.5 772.0 L636.5 998.7 L637.2 1015.5 L638.2 922.8 L639.0 988.9 L640.0 915.0 L640.8 926.5 L641.5 991.0 L642.5 947.8 L643.2 905.3 L642.2 297.0 L645.2 297.0 L644.2 968.6 L645.0 946.2 L645.8 969.0 L646.5 936.9 L647.0 951.6 L647.8 927.1 L648.5 880.4 L649.2 857.1 L650.0 908.9 L650.8 900.4 L651.2 866.5 L652.0 914.6 L652.8 945.8 L653.5 837.6 L654.2 930.2 L655.0 834.9 L655.5 923.4 L656.2 781.1 L655.5 661.0 L658.5 661.0 L657.0 917.5 L657.8 817.9 L658.2 781.4 L659.0 900.1 L659.8 770.2 L660.5 883.1 L661.2 926.9 L661.8 794.1 L663.0 789.4 L664.2 832.3 L665.5 927.9 L664.5 608.0 L667.5 608.0 L666.8 815.1 L668.0 824.0 L669.2 823.4 L671.5 814.4 L675.0 893.4 L678.5 822.8 L682.0 692.6 L685.5 710.5 L689.2 819.0 L690.8 842.4 L691.8 787.4 L692.8 756.9 L693.8 780.3 L694.8 885.5 L695.8 820.3 L695.2 789.0 L698.2 789.0 L696.8 826.5 L697.5 765.9 L698.0 783.8 L698.5 823.4 L699.0 793.7 L699.5 879.8 L700.0 817.3 L700.5 883.1 L701.0 862.9 L701.5 852.2 L702.0 912.5 L702.2 911.3 L702.5 947.7 L702.8 896.4 L703.0 908.3 L703.2 921.5 L703.5 903.3 L703.8 981.7 L703.8 923.6 L704.0 925.9 L704.2 941.1 L704.5 917.4 L704.8 896.9 L705.0 962.0 L705.2 983.7 L705.2 974.8 L705.5 965.1 L705.8 961.2 L705.8 998.4 L706.0 959.8 L706.0 1010.9 L706.2 973.2 L706.2 983.1 L706.5 991.2 L706.8 959.5 L706.8 1017.6 L707.0 1023.9 L707.0 1008.8 L707.2 1004.1 L707.5 1059.5 L707.8 1026.4 L708.2 1058.0 L708.5 1031.4 L708.8 1019.4 L709.0 1052.9 L709.5 1061.3 L710.0 1060.1 L710.5 1113.2 L711.0 1057.8 L711.5 1068.1 L711.8 1079.2 L712.2 1096.4 L712.8 1108.7 L713.2 1103.2 L713.5 1078.5 L714.0 1109.6 L714.5 1087.3 L715.0 1157.6 L715.5 1132.2 L716.0 1124.0 L716.5 1133.6 L717.0 1167.5 L717.5 1154.0 L718.2 1127.1 L718.8 1175.6 L719.2 1175.1 L719.8 1181.5 L720.2 1173.5 L720.8 1166.6 L721.2 1172.0 L721.8 1201.8 L722.5 1173.4 L723.8 1197.6 L725.0 1202.6 L726.0 1186.6 L727.2 1207.3 L728.2 1223.7 L728.8 1222.3 L729.5 1228.7 L730.0 1234.8 L730.8 1235.0 L731.2 1229.3 L732.0 1239.3 L732.5 1257.2 L733.0 1234.2 L733.5 1263.3 L734.2 1262.2 L734.8 1267.4 L735.2 1266.4 L736.0 1279.0 L736.8 1278.8 L737.5 1273.3 L738.2 1291.3 L739.0 1303.7 L739.5 1301.4 L739.8 1311.2 L740.2 1314.9 L740.5 1314.9 L741.0 1320.5 L741.2 1327.0 L741.8 1327.5 L742.2 1337.8 L742.8 1347.0 L743.5 1341.9 L744.2 1353.3 L744.8 1349.9 L745.5 1363.7 L746.2 1364.1 L746.8 1368.9 L747.8 1383.9 L748.8 1386.4 L749.8 1389.8 L750.8 1385.9 L751.8 1402.0 L752.8 1396.7 L754.2 1401.7 L755.5 1408.1 L756.8 1412.1 L758.2 1420.6 L759.8 1423.5 L762.0 1427.5 L764.2 1431.5 L766.5 1435.5 L769.0 1441.7 L772.0 1446.0 L775.0 1449.8 L778.2 1452.5 L782.5 1457.0 L786.5 1459.3 L790.0 1460.6 L795.8 1462.4 L801.5 1464.1 L807.2 1466.8 L813.2 1466.6 L819.2 1467.1 L825.2 1467.2 L831.2 1469.1 L837.2 1468.8 L843.0 1468.9 L849.0 1469.4 L855.0 1469.5 L861.0 1470.0 L867.0 1471.4 L873.0 1471.0 L879.0 1471.7 L885.0 1472.1 L891.0 1471.2 L897.0 1472.3 L903.0 1472.6 L909.0 1472.5 L915.0 1472.9 L921.0 1472.2 L927.0 1472.7 L933.0 1472.4 L939.0 1473.0 L945.0 1473.6 L951.0 1473.0 L957.0 1473.8 L963.0 1473.7 L969.0 1473.6 L975.0 1473.5 L981.0 1473.0 L987.0 1473.8 L993.0 1473.3 L999.0 1473.5 L1005.0 1474.0 L1011.0 1474.0 L1017.0 1473.6 L1023.0 1473.3 L1029.0 1473.4 L1035.0 1473.3 L1041.0 1473.5 L1047.0 1473.7 L1053.0 1473.3 L1059.0 1473.9 L1065.0 1474.1 L1071.0 1473.6 L1077.0 1474.1 L1083.0 1473.7 L1089.0 1473.8 L1095.0 1473.7 L1101.0 1473.5 L1107.0 1473.8 L1113.0 1473.7 L1119.0 1474.2 L1125.0 1473.4 L1131.0 1473.9 L1137.0 1473.3 L1143.0 1474.4 L1149.0 1473.8 L1155.0 1473.4 L1161.0 1474.4 L1167.0 1473.7 L1173.0 1473.5 L1179.0 1473.5 L1185.0 1474.1 L1191.0 1473.4 L1197.0 1473.4 L1203.0 1473.9 L1209.0 1473.2 L1215.0 1473.5 L1221.0 1473.5 L1227.0 1473.7 L1233.0 1473.3 L1239.0 1473.5 L1245.0 1473.0 L1251.0 1473.3 L1257.0 1473.7 L1263.0 1473.5 L1269.0 1473.0 L1275.0 1473.6 L1281.0 1473.2 L1287.0 1473.1 L1293.0 1473.4 L1299.0 1474.2 L1305.0 1473.2 L1311.0 1473.2 L1317.0 1473.2 L1323.0 1473.5 L1329.0 1472.6 L1335.0 1473.2 L1341.0 1473.4 L1347.0 1473.4 L1353.0 1472.9 L1359.0 1473.5 L1365.0 1473.5 L1371.0 1472.1 L1377.0 1472.3 L1383.0 1472.2 L1389.0 1471.9 L1395.0 1472.1 L1401.0 1473.0 L1407.0 1471.6 L1413.0 1471.4 L1419.0 1471.6 L1425.0 1472.5 L1431.0 1470.9 L1437.0 1470.7 L1443.0 1471.4 L1449.0 1471.0 L1455.0 1470.5 L1461.0 1470.8 L1467.0 1470.1 L1473.0 1470.4 L1479.0 1470.0 L1485.0 1470.1 L1491.0 1470.7 L1497.0 1470.1 L1503.0 1468.3 L1509.0 1468.9 L1515.0 1468.0 L1521.0 1467.7 L1527.0 1467.0 L1533.0 1467.4 L1539.0 1467.8 L1545.0 1467.0 L1550.8 1468.1 L1555.8 1466.6 L1560.8 1465.5 L1565.8 1467.4 L1570.8 1465.1 L1575.8 1464.1 L1580.8 1463.1 L1585.8 1464.6 L1590.8 1463.8 L1595.8 1464.5 L1600.8 1463.2 L1605.5 1461.1 L1610.5 1459.0 L1615.5 1461.8 L1620.5 1458.4 L1625.5 1458.9 L1630.5 1459.4 L1635.5 1455.7 L1640.5 1460.3 L1645.2 1457.2 L1650.2 1456.2 L1655.2 1453.1 L1660.2 1452.8 L1665.2 1451.8 L1670.2 1454.0 L1675.0 1451.3 L1679.5 1448.8 L1684.2 1448.3 L1689.0 1446.7 L1693.5 1445.9 L1698.2 1444.5 L1703.0 1444.6 L1707.8 1436.7 L1712.5 1440.2 L1717.2 1442.2 L1721.8 1435.2 L1726.0 1432.9 L1730.0 1429.6 L1734.2 1422.6 L1738.2 1424.5 L1742.0 1421.7 L1745.5 1419.5 L1749.0 1414.1 L1752.8 1411.5 L1756.2 1406.1 L1759.8 1396.8 L1763.0 1401.2 L1766.0 1409.3 L1768.8 1404.9 L1771.8 1412.4 L1774.5 1416.8 L1776.8 1421.7 L1779.0 1426.0 L1780.5 1421.1 L1781.8 1414.7 L1781.5 1420.0 L1784.5 1420.0 L1783.2 1410.4 L1784.5 1405.0 L1786.0 1405.4 L1787.2 1399.5 L1788.8 1396.8 L1790.2 1386.1 L1792.2 1382.5 L1794.5 1382.8 L1796.8 1374.2 L1799.0 1363.7 L1801.0 1361.6 L1802.5 1366.9 L1804.0 1357.7 L1805.5 1349.6 L1807.2 1348.4 L1809.2 1341.9 L1811.2 1333.5 L1813.5 1332.7 L1815.5 1335.8 L1817.5 1321.7 L1819.5 1321.6 L1821.5 1323.1 L1823.2 1331.2 L1825.2 1340.3 L1827.0 1343.8 L1829.0 1344.2 L1830.8 1352.2 L1832.5 1361.6 L1834.0 1351.1 L1835.8 1366.4 L1837.0 1360.4 L1838.0 1349.8 L1839.0 1357.2 L1838.5 1372.0 L1841.5 1372.0 L1840.0 1335.8 L1841.0 1341.5 L1842.0 1329.2 L1843.0 1330.4 L1844.0 1321.2 L1845.0 1317.4 L1847.5 1315.0 L1850.8 1321.8 L1854.0 1316.0 L1853.2 1345.0 L1856.2 1345.0 L1857.2 1303.6 L1860.5 1291.0 L1864.8 1300.2 L1863.5 1330.0 L1866.5 1330.0 L1868.8 1290.8 L1873.0 1290.3 L1876.5 1284.8 L1879.5 1277.2 L1882.5 1289.7 L1883.0 1327.0 L1886.0 1327.0 L1885.2 1273.9 L1888.2 1272.7 L1890.2 1269.3 L1892.2 1268.8 L1894.5 1263.5 L1896.5 1261.1 L1898.5 1259.6 L1900.2 1240.5 L1902.0 1247.8 L1904.0 1265.4 L1905.8 1264.8 L1907.5 1281.5 L1909.2 1293.4 L1911.0 1296.4 L1912.5 1288.4 L1913.5 1284.9 L1914.5 1299.0 L1915.5 1309.6 L1916.5 1309.6 L1917.5 1318.7 L1918.8 1326.7 L1920.0 1324.2 L1921.8 1330.1 L1923.2 1336.5 L1925.0 1341.8 L1926.5 1346.3 L1928.2 1345.7 L1929.5 1344.5 L1931.0 1357.1 L1932.5 1352.2 L1933.8 1372.3 L1935.2 1369.3 L1936.8 1379.6 L1938.5 1380.4 L1940.2 1384.1 L1942.0 1387.2 L1943.8 1390.1 L1945.5 1400.5 L1947.2 1407.2 L1949.0 1408.4 L1951.0 1412.2 L1952.8 1419.5 L1954.5 1419.8 L1956.2 1422.5 L1958.2 1434.8 L1960.0 1435.3 L1962.0 1439.3 L1963.8 1447.5 L1965.8 1449.7 L1967.8 1454.9 L1969.8 1460.4 L1971.8 1462.1 L1974.0 1468.0 L1976.0 1472.9 L1978.2 1477.1 L1980.8 1481.0 L1983.8 1484.9 L1986.8 1489.1 L1989.8 1493.2 L1993.2 1496.8 L1997.5 1499.4 L2001.5 1502.0 L2006.2 1504.2 L2011.0 1505.1 L2015.8 1506.8 L2020.5 1508.1 L2025.5 1508.5 L2030.5 1508.8 L2035.5 1509.1 L2040.5 1509.5" fill="none" stroke="#ff00ff" stroke-width="2.8" stroke-linejoin="round"/>
<path fill="#dc9600" d="M435.0 1505.7l13.6-7.5v15zM441.0 1503.7l13.6-7.5v15zM447.0 1501.7l13.6-7.5v15zM453.0 1498.9l13.6-7.5v15zM459.0 1497.3l13.6-7.5v15zM465.0 1493.6l13.6-7.5v15zM471.0 1491.8l13.6-7.5v15zM477.0 1489.0l13.6-7.5v15zM483.0 1487.5l13.6-7.5v15zM489.0 1484.4l13.6-7.5v15zM495.0 1480.6l13.6-7.5v15zM501.0 1479.6l13.6-7.5v15zM507.0 1471.0l13.6-7.5v15zM513.0 1470.0l13.6-7.5v15zM519.0 1463.3l13.6-7.5v15zM525.0 1451.1l13.6-7.5v15zM531.0 1434.5l13.6-7.5v15zM532.2 1427.2l13.6-7.5v15zM532.8 1423.7l13.6-7.5v15zM533.0 1420.2l13.6-7.5v15zM533.5 1414.2l13.6-7.5v15zM533.8 1412.1l13.6-7.5v15zM534.2 1410.7l13.6-7.5v15zM534.8 1395.0l13.6-7.5v15zM535.0 1394.2l13.6-7.5v15zM535.5 1387.7l13.6-7.5v15zM535.8 1387.2l13.6-7.5v15zM536.2 1376.8l13.6-7.5v15zM536.5 1374.8l13.6-7.5v15zM537.0 1368.4l13.6-7.5v15zM538.2 1359.8l13.6-7.5v15zM540.8 1371.7l13.6-7.5v15zM543.5 1355.8l13.6-7.5v15zM546.0 1359.7l13.6-7.5v15zM548.8 1350.7l13.6-7.5v15zM551.2 1334.9l13.6-7.5v15zM553.5 1347.4l13.6-7.5v15zM556.0 1336.2l13.6-7.5v15zM558.2 1335.3l13.6-7.5v15zM560.5 1320.2l13.6-7.5v15zM563.0 1329.3l13.6-7.5v15zM565.2 1330.4l13.6-7.5v15zM567.5 1309.8l13.6-7.5v15zM569.8 1312.1l13.6-7.5v15zM571.5 1306.9l13.6-7.5v15zM572.5 1290.4l13.6-7.5v15zM573.5 1301.4l13.6-7.5v15zM574.5 1292.0l13.6-7.5v15zM575.2 1283.6l13.6-7.5v15zM576.2 1276.0l13.6-7.5v15zM577.2 1279.2l13.6-7.5v15zM578.2 1259.7l13.6-7.5v15zM579.0 1244.3l13.6-7.5v15zM580.0 1264.1l13.6-7.5v15zM581.0 1236.6l13.6-7.5v15zM582.0 1271.5l13.6-7.5v15zM583.2 1231.0l13.6-7.5v15zM584.5 1243.6l13.6-7.5v15zM585.5 1234.3l13.6-7.5v15zM586.8 1234.0l13.6-7.5v15zM587.8 1233.0l13.6-7.5v15zM589.0 1235.0l13.6-7.5v15zM590.0 1220.9l13.6-7.5v15zM591.2 1192.4l13.6-7.5v15zM592.2 1190.1l13.6-7.5v15zM593.5 1206.6l13.6-7.5v15zM594.5 1205.1l13.6-7.5v15zM595.5 1202.3l13.6-7.5v15zM596.2 1205.0l13.6-7.5v15zM597.0 1152.4l13.6-7.5v15zM597.8 1165.1l13.6-7.5v15zM598.2 1170.3l13.6-7.5v15zM599.0 1175.1l13.6-7.5v15zM599.8 1178.9l13.6-7.5v15zM598.5 890.0l13.6-7.5v15zM601.5 890.0l13.6-7.5v15zM600.5 1134.4l13.6-7.5v15zM601.2 1138.5l13.6-7.5v15zM602.0 1163.8l13.6-7.5v15zM602.8 1124.8l13.6-7.5v15zM603.5 1157.4l13.6-7.5v15zM602.1 687.0l13.6-7.5v15zM605.1 687.0l13.6-7.5v15zM604.2 1121.0l13.6-7.5v15zM605.0 1145.5l13.6-7.5v15zM605.8 1130.8l13.6-7.5v15zM606.8 1107.2l13.6-7.5v15zM607.5 1104.7l13.6-7.5v15zM608.8 1088.3l13.6-7.5v15zM610.0 1119.1l13.6-7.5v15zM611.0 1067.4l13.6-7.5v15zM612.2 1066.6l13.6-7.5v15zM613.5 1088.6l13.6-7.5v15zM614.8 1073.7l13.6-7.5v15zM615.8 1095.3l13.6-7.5v15zM617.0 1077.3l13.6-7.5v15zM618.2 1096.0l13.6-7.5v15zM618.8 1061.8l13.6-7.5v15zM619.5 1053.2l13.6-7.5v15zM620.0 1023.8l13.6-7.5v15zM620.5 1028.2l13.6-7.5v15zM621.2 1024.6l13.6-7.5v15zM621.8 1047.0l13.6-7.5v15zM622.2 1039.7l13.6-7.5v15zM623.0 1036.2l13.6-7.5v15zM623.5 1019.0l13.6-7.5v15zM624.2 1064.2l13.6-7.5v15zM625.0 995.8l13.6-7.5v15zM625.8 1047.5l13.6-7.5v15zM626.8 1024.0l13.6-7.5v15zM625.5 772.0l13.6-7.5v15zM628.5 772.0l13.6-7.5v15zM627.5 998.7l13.6-7.5v15zM628.2 1015.5l13.6-7.5v15zM629.2 922.8l13.6-7.5v15zM630.0 988.9l13.6-7.5v15zM631.0 915.0l13.6-7.5v15zM631.8 926.5l13.6-7.5v15zM632.5 991.0l13.6-7.5v15zM633.5 947.8l13.6-7.5v15zM634.2 905.3l13.6-7.5v15zM633.2 297.0l13.6-7.5v15zM636.2 297.0l13.6-7.5v15zM635.2 968.6l13.6-7.5v15zM636.0 946.2l13.6-7.5v15zM636.8 969.0l13.6-7.5v15zM637.5 936.9l13.6-7.5v15zM638.0 951.6l13.6-7.5v15zM638.8 927.1l13.6-7.5v15zM639.5 880.4l13.6-7.5v15zM640.2 857.1l13.6-7.5v15zM641.0 908.9l13.6-7.5v15zM641.8 900.4l13.6-7.5v15zM642.2 866.5l13.6-7.5v15zM643.0 914.6l13.6-7.5v15zM643.8 945.8l13.6-7.5v15zM644.5 837.6l13.6-7.5v15zM645.2 930.2l13.6-7.5v15zM646.0 834.9l13.6-7.5v15zM646.5 923.4l13.6-7.5v15zM647.2 781.1l13.6-7.5v15zM646.5 661.0l13.6-7.5v15zM649.5 661.0l13.6-7.5v15zM648.0 917.5l13.6-7.5v15zM648.8 817.9l13.6-7.5v15zM649.2 781.4l13.6-7.5v15zM650.0 900.1l13.6-7.5v15zM650.8 770.2l13.6-7.5v15zM651.5 883.1l13.6-7.5v15zM652.2 926.9l13.6-7.5v15zM652.8 794.1l13.6-7.5v15zM654.0 789.4l13.6-7.5v15zM655.2 832.3l13.6-7.5v15zM656.5 927.9l13.6-7.5v15zM655.5 608.0l13.6-7.5v15zM658.5 608.0l13.6-7.5v15zM657.8 815.1l13.6-7.5v15zM659.0 824.0l13.6-7.5v15zM660.2 823.4l13.6-7.5v15zM662.5 814.4l13.6-7.5v15zM666.0 893.4l13.6-7.5v15zM669.5 822.8l13.6-7.5v15zM673.0 692.6l13.6-7.5v15zM676.5 710.5l13.6-7.5v15zM680.2 819.0l13.6-7.5v15zM681.8 842.4l13.6-7.5v15zM682.8 787.4l13.6-7.5v15zM683.8 756.9l13.6-7.5v15zM684.8 780.3l13.6-7.5v15zM685.8 885.5l13.6-7.5v15zM686.8 820.3l13.6-7.5v15zM686.2 789.0l13.6-7.5v15zM689.2 789.0l13.6-7.5v15zM687.8 826.5l13.6-7.5v15zM688.5 765.9l13.6-7.5v15zM689.0 783.8l13.6-7.5v15zM689.5 823.4l13.6-7.5v15zM690.0 793.7l13.6-7.5v15zM690.5 879.8l13.6-7.5v15zM691.0 817.3l13.6-7.5v15zM691.5 883.1l13.6-7.5v15zM692.0 862.9l13.6-7.5v15zM692.5 852.2l13.6-7.5v15zM693.0 912.5l13.6-7.5v15zM693.2 911.3l13.6-7.5v15zM693.5 947.7l13.6-7.5v15zM693.8 896.4l13.6-7.5v15zM694.0 908.3l13.6-7.5v15zM694.2 921.5l13.6-7.5v15zM694.5 903.3l13.6-7.5v15zM694.8 981.7l13.6-7.5v15zM694.8 923.6l13.6-7.5v15zM695.0 925.9l13.6-7.5v15zM695.2 941.1l13.6-7.5v15zM695.5 917.4l13.6-7.5v15zM695.8 896.9l13.6-7.5v15zM696.0 962.0l13.6-7.5v15zM696.2 983.7l13.6-7.5v15zM696.2 974.8l13.6-7.5v15zM696.5 965.1l13.6-7.5v15zM696.8 961.2l13.6-7.5v15zM696.8 998.4l13.6-7.5v15zM697.0 959.8l13.6-7.5v15zM697.0 1010.9l13.6-7.5v15zM697.2 973.2l13.6-7.5v15zM697.2 983.1l13.6-7.5v15zM697.5 991.2l13.6-7.5v15zM697.8 959.5l13.6-7.5v15zM697.8 1017.6l13.6-7.5v15zM698.0 1023.9l13.6-7.5v15zM698.0 1008.8l13.6-7.5v15zM698.2 1004.1l13.6-7.5v15zM698.5 1059.5l13.6-7.5v15zM698.8 1026.4l13.6-7.5v15zM699.2 1058.0l13.6-7.5v15zM699.5 1031.4l13.6-7.5v15zM699.8 1019.4l13.6-7.5v15zM700.0 1052.9l13.6-7.5v15zM700.5 1061.3l13.6-7.5v15zM701.0 1060.1l13.6-7.5v15zM701.5 1113.2l13.6-7.5v15zM702.0 1057.8l13.6-7.5v15zM702.5 1068.1l13.6-7.5v15zM702.8 1079.2l13.6-7.5v15zM703.2 1096.4l13.6-7.5v15zM703.8 1108.7l13.6-7.5v15zM704.2 1103.2l13.6-7.5v15zM704.5 1078.5l13.6-7.5v15zM705.0 1109.6l13.6-7.5v15zM705.5 1087.3l13.6-7.5v15zM706.0 1157.6l13.6-7.5v15zM706.5 1132.2l13.6-7.5v15zM707.0 1124.0l13.6-7.5v15zM707.5 1133.6l13.6-7.5v15zM708.0 1167.5l13.6-7.5v15zM708.5 1154.0l13.6-7.5v15zM709.2 1127.1l13.6-7.5v15zM709.8 1175.6l13.6-7.5v15zM710.2 1175.1l13.6-7.5v15zM710.8 1181.5l13.6-7.5v15zM711.2 1173.5l13.6-7.5v15zM711.8 1166.6l13.6-7.5v15zM712.2 1172.0l13.6-7.5v15zM712.8 1201.8l13.6-7.5v15zM713.5 1173.4l13.6-7.5v15zM714.8 1197.6l13.6-7.5v15zM716.0 1202.6l13.6-7.5v15zM717.0 1186.6l13.6-7.5v15zM718.2 1207.3l13.6-7.5v15zM719.2 1223.7l13.6-7.5v15zM719.8 1222.3l13.6-7.5v15zM720.5 1228.7l13.6-7.5v15zM721.0 1234.8l13.6-7.5v15zM721.8 1235.0l13.6-7.5v15zM722.2 1229.3l13.6-7.5v15zM723.0 1239.3l13.6-7.5v15zM723.5 1257.2l13.6-7.5v15zM724.0 1234.2l13.6-7.5v15zM724.5 1263.3l13.6-7.5v15zM725.2 1262.2l13.6-7.5v15zM725.8 1267.4l13.6-7.5v15zM726.2 1266.4l13.6-7.5v15zM727.0 1279.0l13.6-7.5v15zM727.8 1278.8l13.6-7.5v15zM728.5 1273.3l13.6-7.5v15zM729.2 1291.3l13.6-7.5v15zM730.0 1303.7l13.6-7.5v15zM730.5 1301.4l13.6-7.5v15zM730.8 1311.2l13.6-7.5v15zM731.2 1314.9l13.6-7.5v15zM731.5 1314.9l13.6-7.5v15zM732.0 1320.5l13.6-7.5v15zM732.2 1327.0l13.6-7.5v15zM732.8 1327.5l13.6-7.5v15zM733.2 1337.8l13.6-7.5v15zM733.8 1347.0l13.6-7.5v15zM734.5 1341.9l13.6-7.5v15zM735.2 1353.3l13.6-7.5v15zM735.8 1349.9l13.6-7.5v15zM736.5 1363.7l13.6-7.5v15zM737.2 1364.1l13.6-7.5v15zM737.8 1368.9l13.6-7.5v15zM738.8 1383.9l13.6-7.5v15zM739.8 1386.4l13.6-7.5v15zM740.8 1389.8l13.6-7.5v15zM741.8 1385.9l13.6-7.5v15zM742.8 1402.0l13.6-7.5v15zM743.8 1396.7l13.6-7.5v15zM745.2 1401.7l13.6-7.5v15zM746.5 1408.1l13.6-7.5v15zM747.8 1412.1l13.6-7.5v15zM749.2 1420.6l13.6-7.5v15zM750.8 1423.5l13.6-7.5v15zM753.0 1427.5l13.6-7.5v15zM755.2 1431.5l13.6-7.5v15zM757.5 1435.5l13.6-7.5v15zM760.0 1441.7l13.6-7.5v15zM763.0 1446.0l13.6-7.5v15zM766.0 1449.8l13.6-7.5v15zM769.2 1452.5l13.6-7.5v15zM773.5 1457.0l13.6-7.5v15zM777.5 1459.3l13.6-7.5v15zM781.0 1460.6l13.6-7.5v15zM786.8 1462.4l13.6-7.5v15zM792.5 1464.1l13.6-7.5v15zM798.2 1466.8l13.6-7.5v15zM804.2 1466.6l13.6-7.5v15zM810.2 1467.1l13.6-7.5v15zM816.2 1467.2l13.6-7.5v15zM822.2 1469.1l13.6-7.5v15zM828.2 1468.8l13.6-7.5v15zM834.0 1468.9l13.6-7.5v15zM840.0 1469.4l13.6-7.5v15zM846.0 1469.5l13.6-7.5v15zM852.0 1470.0l13.6-7.5v15zM858.0 1471.4l13.6-7.5v15zM864.0 1471.0l13.6-7.5v15zM870.0 1471.7l13.6-7.5v15zM876.0 1472.1l13.6-7.5v15zM882.0 1471.2l13.6-7.5v15zM888.0 1472.3l13.6-7.5v15zM894.0 1472.6l13.6-7.5v15zM900.0 1472.5l13.6-7.5v15zM906.0 1472.9l13.6-7.5v15zM912.0 1472.2l13.6-7.5v15zM918.0 1472.7l13.6-7.5v15zM924.0 1472.4l13.6-7.5v15zM930.0 1473.0l13.6-7.5v15zM936.0 1473.6l13.6-7.5v15zM942.0 1473.0l13.6-7.5v15zM948.0 1473.8l13.6-7.5v15zM954.0 1473.7l13.6-7.5v15zM960.0 1473.6l13.6-7.5v15zM966.0 1473.5l13.6-7.5v15zM972.0 1473.0l13.6-7.5v15zM978.0 1473.8l13.6-7.5v15zM984.0 1473.3l13.6-7.5v15zM990.0 1473.5l13.6-7.5v15zM996.0 1474.0l13.6-7.5v15zM1002.0 1474.0l13.6-7.5v15zM1008.0 1473.6l13.6-7.5v15zM1014.0 1473.3l13.6-7.5v15zM1020.0 1473.4l13.6-7.5v15zM1026.0 1473.3l13.6-7.5v15zM1032.0 1473.5l13.6-7.5v15zM1038.0 1473.7l13.6-7.5v15zM1044.0 1473.3l13.6-7.5v15zM1050.0 1473.9l13.6-7.5v15zM1056.0 1474.1l13.6-7.5v15zM1062.0 1473.6l13.6-7.5v15zM1068.0 1474.1l13.6-7.5v15zM1074.0 1473.7l13.6-7.5v15zM1080.0 1473.8l13.6-7.5v15zM1086.0 1473.7l13.6-7.5v15zM1092.0 1473.5l13.6-7.5v15zM1098.0 1473.8l13.6-7.5v15zM1104.0 1473.7l13.6-7.5v15zM1110.0 1474.2l13.6-7.5v15zM1116.0 1473.4l13.6-7.5v15zM1122.0 1473.9l13.6-7.5v15zM1128.0 1473.3l13.6-7.5v15zM1134.0 1474.4l13.6-7.5v15zM1140.0 1473.8l13.6-7.5v15zM1146.0 1473.4l13.6-7.5v15zM1152.0 1474.4l13.6-7.5v15zM1158.0 1473.7l13.6-7.5v15zM1164.0 1473.5l13.6-7.5v15zM1170.0 1473.5l13.6-7.5v15zM1176.0 1474.1l13.6-7.5v15zM1182.0 1473.4l13.6-7.5v15zM1188.0 1473.4l13.6-7.5v15zM1194.0 1473.9l13.6-7.5v15zM1200.0 1473.2l13.6-7.5v15zM1206.0 1473.5l13.6-7.5v15zM1212.0 1473.5l13.6-7.5v15zM1218.0 1473.7l13.6-7.5v15zM1224.0 1473.3l13.6-7.5v15zM1230.0 1473.5l13.6-7.5v15zM1236.0 1473.0l13.6-7.5v15zM1242.0 1473.3l13.6-7.5v15zM1248.0 1473.7l13.6-7.5v15zM1254.0 1473.5l13.6-7.5v15zM1260.0 1473.0l13.6-7.5v15zM1266.0 1473.6l13.6-7.5v15zM1272.0 1473.2l13.6-7.5v15zM1278.0 1473.1l13.6-7.5v15zM1284.0 1473.4l13.6-7.5v15zM1290.0 1474.2l13.6-7.5v15zM1296.0 1473.2l13.6-7.5v15zM1302.0 1473.2l13.6-7.5v15zM1308.0 1473.2l13.6-7.5v15zM1314.0 1473.5l13.6-7.5v15zM1320.0 1472.6l13.6-7.5v15zM1326.0 1473.2l13.6-7.5v15zM1332.0 1473.4l13.6-7.5v15zM1338.0 1473.4l13.6-7.5v15zM1344.0 1472.9l13.6-7.5v15zM1350.0 1473.5l13.6-7.5v15zM1356.0 1473.5l13.6-7.5v15zM1362.0 1472.1l13.6-7.5v15zM1368.0 1472.3l13.6-7.5v15zM1374.0 1472.2l13.6-7.5v15zM1380.0 1471.9l13.6-7.5v15zM1386.0 1472.1l13.6-7.5v15zM1392.0 1473.0l13.6-7.5v15zM1398.0 1471.6l13.6-7.5v15zM1404.0 1471.4l13.6-7.5v15zM1410.0 1471.6l13.6-7.5v15zM1416.0 1472.5l13.6-7.5v15zM1422.0 1470.9l13.6-7.5v15zM1428.0 1470.7l13.6-7.5v15zM1434.0 1471.4l13.6-7.5v15zM1440.0 1471.0l13.6-7.5v15zM1446.0 1470.5l13.6-7.5v15zM1452.0 1470.8l13.6-7.5v15zM1458.0 1470.1l13.6-7.5v15zM1464.0 1470.4l13.6-7.5v15zM1470.0 1470.0l13.6-7.5v15zM1476.0 1470.1l13.6-7.5v15zM1482.0 1470.7l13.6-7.5v15zM1488.0 1470.1l13.6-7.5v15zM1494.0 1468.3l13.6-7.5v15zM1500.0 1468.9l13.6-7.5v15zM1506.0 1468.0l13.6-7.5v15zM1512.0 1467.7l13.6-7.5v15zM1518.0 1467.0l13.6-7.5v15zM1524.0 1467.4l13.6-7.5v15zM1530.0 1467.8l13.6-7.5v15zM1536.0 1467.0l13.6-7.5v15zM1541.8 1468.1l13.6-7.5v15zM1546.8 1466.6l13.6-7.5v15zM1551.8 1465.5l13.6-7.5v15zM1556.8 1467.4l13.6-7.5v15zM1561.8 1465.1l13.6-7.5v15zM1566.8 1464.1l13.6-7.5v15zM1571.8 1463.1l13.6-7.5v15zM1576.8 1464.6l13.6-7.5v15zM1581.8 1463.8l13.6-7.5v15zM1586.8 1464.5l13.6-7.5v15zM1591.8 1463.2l13.6-7.5v15zM1596.5 1461.1l13.6-7.5v15zM1601.5 1459.0l13.6-7.5v15zM1606.5 1461.8l13.6-7.5v15zM1611.5 1458.4l13.6-7.5v15zM1616.5 1458.9l13.6-7.5v15zM1621.5 1459.4l13.6-7.5v15zM1626.5 1455.7l13.6-7.5v15zM1631.5 1460.3l13.6-7.5v15zM1636.2 1457.2l13.6-7.5v15zM1641.2 1456.2l13.6-7.5v15zM1646.2 1453.1l13.6-7.5v15zM1651.2 1452.8l13.6-7.5v15zM1656.2 1451.8l13.6-7.5v15zM1661.2 1454.0l13.6-7.5v15zM1666.0 1451.3l13.6-7.5v15zM1670.5 1448.8l13.6-7.5v15zM1675.2 1448.3l13.6-7.5v15zM1680.0 1446.7l13.6-7.5v15zM1684.5 1445.9l13.6-7.5v15zM1689.2 1444.5l13.6-7.5v15zM1694.0 1444.6l13.6-7.5v15zM1698.8 1436.7l13.6-7.5v15zM1703.5 1440.2l13.6-7.5v15zM1708.2 1442.2l13.6-7.5v15zM1712.8 1435.2l13.6-7.5v15zM1717.0 1432.9l13.6-7.5v15zM1721.0 1429.6l13.6-7.5v15zM1725.2 1422.6l13.6-7.5v15zM1729.2 1424.5l13.6-7.5v15zM1733.0 1421.7l13.6-7.5v15zM1736.5 1419.5l13.6-7.5v15zM1740.0 1414.1l13.6-7.5v15zM1743.8 1411.5l13.6-7.5v15zM1747.2 1406.1l13.6-7.5v15zM1750.8 1396.8l13.6-7.5v15zM1754.0 1401.2l13.6-7.5v15zM1757.0 1409.3l13.6-7.5v15zM1759.8 1404.9l13.6-7.5v15zM1762.8 1412.4l13.6-7.5v15zM1765.5 1416.8l13.6-7.5v15zM1767.8 1421.7l13.6-7.5v15zM1770.0 1426.0l13.6-7.5v15zM1771.5 1421.1l13.6-7.5v15zM1772.8 1414.7l13.6-7.5v15zM1772.5 1420.0l13.6-7.5v15zM1775.5 1420.0l13.6-7.5v15zM1774.2 1410.4l13.6-7.5v15zM1775.5 1405.0l13.6-7.5v15zM1777.0 1405.4l13.6-7.5v15zM1778.2 1399.5l13.6-7.5v15zM1779.8 1396.8l13.6-7.5v15zM1781.2 1386.1l13.6-7.5v15zM1783.2 1382.5l13.6-7.5v15zM1785.5 1382.8l13.6-7.5v15zM1787.8 1374.2l13.6-7.5v15zM1790.0 1363.7l13.6-7.5v15zM1792.0 1361.6l13.6-7.5v15zM1793.5 1366.9l13.6-7.5v15zM1795.0 1357.7l13.6-7.5v15zM1796.5 1349.6l13.6-7.5v15zM1798.2 1348.4l13.6-7.5v15zM1800.2 1341.9l13.6-7.5v15zM1802.2 1333.5l13.6-7.5v15zM1804.5 1332.7l13.6-7.5v15zM1806.5 1335.8l13.6-7.5v15zM1808.5 1321.7l13.6-7.5v15zM1810.5 1321.6l13.6-7.5v15zM1812.5 1323.1l13.6-7.5v15zM1814.2 1331.2l13.6-7.5v15zM1816.2 1340.3l13.6-7.5v15zM1818.0 1343.8l13.6-7.5v15zM1820.0 1344.2l13.6-7.5v15zM1821.8 1352.2l13.6-7.5v15zM1823.5 1361.6l13.6-7.5v15zM1825.0 1351.1l13.6-7.5v15zM1826.8 1366.4l13.6-7.5v15zM1828.0 1360.4l13.6-7.5v15zM1829.0 1349.8l13.6-7.5v15zM1830.0 1357.2l13.6-7.5v15zM1829.5 1372.0l13.6-7.5v15zM1832.5 1372.0l13.6-7.5v15zM1831.0 1335.8l13.6-7.5v15zM1832.0 1341.5l13.6-7.5v15zM1833.0 1329.2l13.6-7.5v15zM1834.0 1330.4l13.6-7.5v15zM1835.0 1321.2l13.6-7.5v15zM1836.0 1317.4l13.6-7.5v15zM1838.5 1315.0l13.6-7.5v15zM1841.8 1321.8l13.6-7.5v15zM1845.0 1316.0l13.6-7.5v15zM1844.2 1345.0l13.6-7.5v15zM1847.2 1345.0l13.6-7.5v15zM1848.2 1303.6l13.6-7.5v15zM1851.5 1291.0l13.6-7.5v15zM1855.8 1300.2l13.6-7.5v15zM1854.5 1330.0l13.6-7.5v15zM1857.5 1330.0l13.6-7.5v15zM1859.8 1290.8l13.6-7.5v15zM1864.0 1290.3l13.6-7.5v15zM1867.5 1284.8l13.6-7.5v15zM1870.5 1277.2l13.6-7.5v15zM1873.5 1289.7l13.6-7.5v15zM1874.0 1327.0l13.6-7.5v15zM1877.0 1327.0l13.6-7.5v15zM1876.2 1273.9l13.6-7.5v15zM1879.2 1272.7l13.6-7.5v15zM1881.2 1269.3l13.6-7.5v15zM1883.2 1268.8l13.6-7.5v15zM1885.5 1263.5l13.6-7.5v15zM1887.5 1261.1l13.6-7.5v15zM1889.5 1259.6l13.6-7.5v15zM1891.2 1240.5l13.6-7.5v15zM1893.0 1247.8l13.6-7.5v15zM1895.0 1265.4l13.6-7.5v15zM1896.8 1264.8l13.6-7.5v15zM1898.5 1281.5l13.6-7.5v15zM1900.2 1293.4l13.6-7.5v15zM1902.0 1296.4l13.6-7.5v15zM1903.5 1288.4l13.6-7.5v15zM1904.5 1284.9l13.6-7.5v15zM1905.5 1299.0l13.6-7.5v15zM1906.5 1309.6l13.6-7.5v15zM1907.5 1309.6l13.6-7.5v15zM1908.5 1318.7l13.6-7.5v15zM1909.8 1326.7l13.6-7.5v15zM1911.0 1324.2l13.6-7.5v15zM1912.8 1330.1l13.6-7.5v15zM1914.2 1336.5l13.6-7.5v15zM1916.0 1341.8l13.6-7.5v15zM1917.5 1346.3l13.6-7.5v15zM1919.2 1345.7l13.6-7.5v15zM1920.5 1344.5l13.6-7.5v15zM1922.0 1357.1l13.6-7.5v15zM1923.5 1352.2l13.6-7.5v15zM1924.8 1372.3l13.6-7.5v15zM1926.2 1369.3l13.6-7.5v15zM1927.8 1379.6l13.6-7.5v15zM1929.5 1380.4l13.6-7.5v15zM1931.2 1384.1l13.6-7.5v15zM1933.0 1387.2l13.6-7.5v15zM1934.8 1390.1l13.6-7.5v15zM1936.5 1400.5l13.6-7.5v15zM1938.2 1407.2l13.6-7.5v15zM1940.0 1408.4l13.6-7.5v15zM1942.0 1412.2l13.6-7.5v15zM1943.8 1419.5l13.6-7.5v15zM1945.5 1419.8l13.6-7.5v15zM1947.2 1422.5l13.6-7.5v15zM1949.2 1434.8l13.6-7.5v15zM1951.0 1435.3l13.6-7.5v15zM1953.0 1439.3l13.6-7.5v15zM1954.8 1447.5l13.6-7.5v15zM1956.8 1449.7l13.6-7.5v15zM1958.8 1454.9l13.6-7.5v15zM1960.8 1460.4l13.6-7.5v15zM1962.8 1462.1l13.6-7.5v15zM1965.0 1468.0l13.6-7.5v15zM1967.0 1472.9l13.6-7.5v15zM1969.2 1477.1l13.6-7.5v15zM1971.8 1481.0l13.6-7.5v15zM1974.8 1484.9l13.6-7.5v15zM1977.8 1489.1l13.6-7.5v15zM1980.8 1493.2l13.6-7.5v15zM1984.2 1496.8l13.6-7.5v15zM1988.5 1499.4l13.6-7.5v15zM1992.5 1502.0l13.6-7.5v15zM1997.2 1504.2l13.6-7.5v15zM2002.0 1505.1l13.6-7.5v15zM2006.8 1506.8l13.6-7.5v15zM2011.5 1508.1l13.6-7.5v15zM2016.5 1508.5l13.6-7.5v15zM2021.5 1508.8l13.6-7.5v15zM2026.5 1509.1l13.6-7.5v15zM2031.5 1509.5l13.6-7.5v15z"/></g>
<g><text transform="translate(186.4 1530.7) scale(0.95 1.01)" text-anchor="end" font-size="64.6">0.0</text><text transform="translate(186.4 1286.5) scale(0.95 1.01)" text-anchor="end" font-size="64.6">0.1</text><text transform="translate(186.4 1042.4) scale(0.95 1.01)" text-anchor="end" font-size="64.6">0.2</text><text transform="translate(186.4 798.2) scale(0.95 1.01)" text-anchor="end" font-size="64.6">0.3</text><text transform="translate(186.4 554.0) scale(0.95 1.01)" text-anchor="end" font-size="64.6">0.4</text><text transform="translate(186.4 309.9) scale(0.95 1.01)" text-anchor="end" font-size="64.6">0.5</text><text transform="translate(186.4 65.7) scale(0.95 1.01)" text-anchor="end" font-size="64.6">0.6</text><text transform="translate(237.0 1618) scale(0.95 1.01)" text-anchor="middle" font-size="64.6">10<tspan font-size="43" dy="-26">-4</tspan></text><text transform="translate(397.4 1618) scale(0.95 1.01)" text-anchor="middle" font-size="64.6">10<tspan font-size="43" dy="-26">-3</tspan></text><text transform="translate(557.7 1618) scale(0.95 1.01)" text-anchor="middle" font-size="64.6">10<tspan font-size="43" dy="-26">-2</tspan></text><text transform="translate(718.1 1618) scale(0.95 1.01)" text-anchor="middle" font-size="64.6">10<tspan font-size="43" dy="-26">-1</tspan></text><text transform="translate(878.4 1618) scale(0.95 1.01)" text-anchor="middle" font-size="64.6">10<tspan font-size="43" dy="-26">0</tspan></text><text transform="translate(1038.8 1618) scale(0.95 1.01)" text-anchor="middle" font-size="64.6">10<tspan font-size="43" dy="-26">1</tspan></text><text transform="translate(1199.2 1618) scale(0.95 1.01)" text-anchor="middle" font-size="64.6">10<tspan font-size="43" dy="-26">2</tspan></text><text transform="translate(1359.5 1618) scale(0.95 1.01)" text-anchor="middle" font-size="64.6">10<tspan font-size="43" dy="-26">3</tspan></text><text transform="translate(1519.9 1618) scale(0.95 1.01)" text-anchor="middle" font-size="64.6">10<tspan font-size="43" dy="-26">4</tspan></text><text transform="translate(1680.2 1618) scale(0.95 1.01)" text-anchor="middle" font-size="64.6">10<tspan font-size="43" dy="-26">5</tspan></text><text transform="translate(1840.6 1618) scale(0.95 1.01)" text-anchor="middle" font-size="64.6">10<tspan font-size="43" dy="-26">6</tspan></text><text transform="translate(2001.0 1618) scale(0.95 1.01)" text-anchor="middle" font-size="64.6">10<tspan font-size="43" dy="-26">7</tspan></text><text transform="translate(938.4 1729) scale(0.985 1.025)" font-size="77">Energy (eV)</text><text transform="translate(70 1174) rotate(-90) scale(0.988 1.025)" font-size="77">Flux per Lethargy (a.u.)</text></g>
<g><rect x="825" y="107" width="1141" height="426.5" fill="#000"/><rect x="804.5" y="86.5" width="1140" height="425.5" fill="#fff" stroke="#000" stroke-width="3"/><text transform="translate(812 137.2) scale(0.975 1.025)" font-size="49.5">Thermal Spectrum Benchmark</text><line x1="866" y1="179.7" x2="976" y2="179.7" stroke="#000" stroke-width="3.5" stroke-linecap="round"/><path fill="#737373" d="M915.1 174.2h11v11h-11z"/><text transform="translate(989 197.0) scale(0.975 1.025)" font-size="49.5">LCT001c1 (LEU-COMP-THERM-001 case1)</text><line x1="866" y1="239.3" x2="976" y2="239.3" stroke="#0000ff" stroke-width="3.5" stroke-linecap="round"/><path fill="#00ae65" d="M913.1 234.7h15l-7.5 13z"/><text transform="translate(989 256.6) scale(0.975 1.025)" font-size="49.5">LCT002c1 (LEU-COMP-THERM-002 case1)</text><line x1="866" y1="298.9" x2="976" y2="298.9" stroke="#ff0000" stroke-width="3.5" stroke-linecap="round"/><path fill="#ff3c3c" d="M915.0 298.9a5.6 5.6 0 1 0 11.2 0a5.6 5.6 0 1 0-11.2 0z"/><text transform="translate(989 316.2) scale(0.975 1.025)" font-size="49.5">LCT006c1 (LEU-COMP-THERM-006 case1)</text><line x1="866" y1="358.5" x2="976" y2="358.5" stroke="#00ff00" stroke-width="3.5" stroke-linecap="round"/><path fill="#0070e0" d="M920.6 350.1l7.5 13h-15z"/><text transform="translate(989 375.8) scale(0.975 1.025)" font-size="49.5">ORNL-1 (HEU-SOL-THERM-013 case1)</text><line x1="866" y1="418.1" x2="976" y2="418.1" stroke="#00ffff" stroke-width="3.5" stroke-linecap="round"/><path fill="#c077e2" d="M920.6 410.1l7.6 8l-7.6 8l-7.6-8z"/><text transform="translate(989 435.4) scale(0.975 1.025)" font-size="49.5">PNL-3 (PU-SOL-THERM-011 case18-1)</text><line x1="866" y1="477.7" x2="976" y2="477.7" stroke="#ff00ff" stroke-width="3.5" stroke-linecap="round"/><path fill="#dc9600" d="M911.6 477.7l13.6-7.5v15z"/><text transform="translate(989 495.0) scale(0.975 1.025)" font-size="49.5">ORNL-11 (U233-SOL-THERM-008)</text></g>
</svg>
</body></html>
